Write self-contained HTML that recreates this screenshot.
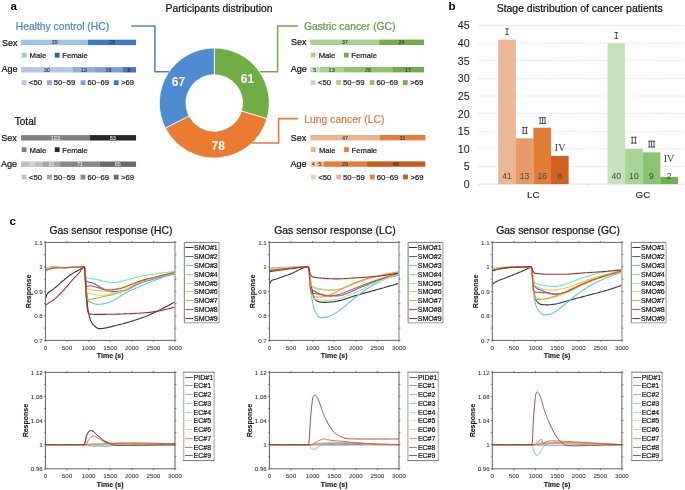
<!DOCTYPE html>
<html><head><meta charset="utf-8"><style>
html,body{margin:0;padding:0;background:#fff;}
body{width:685px;height:490px;overflow:hidden;}
svg{display:block;will-change:transform;}
</style></head><body>
<svg width="685" height="490" viewBox="0 0 685 490">
<rect width="685" height="490" fill="#fff"/>
<text x="10.60" y="9.90" font-size="11.6" fill="#000" text-anchor="start" font-weight="bold" font-family='"Liberation Sans", sans-serif' >a</text>
<text x="165.60" y="11.70" font-size="10.35" fill="#111" stroke="#111" stroke-width="0.22" text-anchor="start" font-weight="normal" font-family='"Liberation Sans", sans-serif' >Participants distribution</text>
<text x="15.80" y="29.80" font-size="10.3" fill="#4A86C8" stroke="#4A86C8" stroke-width="0.22" text-anchor="start" font-weight="normal" font-family='"Liberation Sans", sans-serif' >Healthy control (HC)</text>
<text x="1.90" y="45.70" font-size="9.0" fill="#111" stroke="#111" stroke-width="0.22" text-anchor="start" font-weight="normal" font-family='"Liberation Sans", sans-serif' >Sex</text>
<text x="1.60" y="72.00" font-size="9.0" fill="#111" stroke="#111" stroke-width="0.22" text-anchor="start" font-weight="normal" font-family='"Liberation Sans", sans-serif' >Age</text>
<rect x="21.10" y="39.70" width="66.93" height="5.40" fill="#9DC3E6" />
<text x="54.54" y="44.20" font-size="5.5" fill="#333" stroke="#333" stroke-width="0.08" text-anchor="middle" font-weight="normal" font-family='"Liberation Sans", sans-serif' >39</text>
<rect x="87.98" y="39.70" width="48.07" height="5.40" fill="#3F7CBF" />
<text x="111.99" y="44.20" font-size="5.5" fill="#333" stroke="#333" stroke-width="0.08" text-anchor="middle" font-weight="normal" font-family='"Liberation Sans", sans-serif' >28</text>
<rect x="21.70" y="52.80" width="4.80" height="4.80" fill="#9DC3E6" />
<text x="29.60" y="58.20" font-size="7.7" fill="#222" stroke="#222" stroke-width="0.22" text-anchor="start" font-weight="normal" font-family='"Liberation Sans", sans-serif' >Male</text>
<rect x="54.80" y="52.80" width="4.80" height="4.80" fill="#2E5D8E" />
<text x="62.20" y="58.20" font-size="7.7" fill="#222" stroke="#222" stroke-width="0.22" text-anchor="start" font-weight="normal" font-family='"Liberation Sans", sans-serif' >Female</text>
<rect x="21.10" y="67.10" width="51.50" height="5.40" fill="#B4C7E7" />
<text x="46.82" y="71.60" font-size="5.5" fill="#333" stroke="#333" stroke-width="0.08" text-anchor="middle" font-weight="normal" font-family='"Liberation Sans", sans-serif' >30</text>
<rect x="72.55" y="67.10" width="22.34" height="5.40" fill="#8FAADC" />
<text x="83.69" y="71.60" font-size="5.5" fill="#333" stroke="#333" stroke-width="0.08" text-anchor="middle" font-weight="normal" font-family='"Liberation Sans", sans-serif' >13</text>
<rect x="94.84" y="67.10" width="27.49" height="5.40" fill="#7D9FDD" />
<text x="108.56" y="71.60" font-size="5.5" fill="#333" stroke="#333" stroke-width="0.08" text-anchor="middle" font-weight="normal" font-family='"Liberation Sans", sans-serif' >16</text>
<rect x="122.28" y="67.10" width="13.77" height="5.40" fill="#4A73C6" />
<text x="129.14" y="71.60" font-size="5.5" fill="#333" stroke="#333" stroke-width="0.08" text-anchor="middle" font-weight="normal" font-family='"Liberation Sans", sans-serif' >8</text>
<rect x="21.60" y="80.20" width="4.80" height="4.80" fill="#B4C7E7" />
<text x="29.00" y="85.20" font-size="7.7" fill="#222" stroke="#222" stroke-width="0.22" text-anchor="start" font-weight="normal" font-family='"Liberation Sans", sans-serif' >&lt;50</text>
<rect x="47.00" y="80.20" width="4.80" height="4.80" fill="#8FAADC" />
<text x="53.80" y="85.20" font-size="7.7" fill="#222" stroke="#222" stroke-width="0.22" text-anchor="start" font-weight="normal" font-family='"Liberation Sans", sans-serif' >50~59</text>
<rect x="80.60" y="80.20" width="4.80" height="4.80" fill="#7D9FDD" />
<text x="87.40" y="85.20" font-size="7.7" fill="#222" stroke="#222" stroke-width="0.22" text-anchor="start" font-weight="normal" font-family='"Liberation Sans", sans-serif' >60~69</text>
<rect x="113.80" y="80.20" width="4.80" height="4.80" fill="#4A73C6" />
<text x="121.10" y="85.20" font-size="7.7" fill="#222" stroke="#222" stroke-width="0.22" text-anchor="start" font-weight="normal" font-family='"Liberation Sans", sans-serif' >&gt;69</text>
<text x="14.80" y="125.10" font-size="10.0" fill="#111" stroke="#111" stroke-width="0.22" text-anchor="start" font-weight="normal" font-family='"Liberation Sans", sans-serif' >Total</text>
<text x="1.30" y="140.70" font-size="9.0" fill="#111" stroke="#111" stroke-width="0.22" text-anchor="start" font-weight="normal" font-family='"Liberation Sans", sans-serif' >Sex</text>
<text x="1.00" y="166.60" font-size="9.0" fill="#111" stroke="#111" stroke-width="0.22" text-anchor="start" font-weight="normal" font-family='"Liberation Sans", sans-serif' >Age</text>
<rect x="21.10" y="135.10" width="68.66" height="5.40" fill="#808080" />
<text x="55.40" y="139.60" font-size="5.5" fill="#e8e8e8" stroke="#e8e8e8" stroke-width="0.08" text-anchor="middle" font-weight="normal" font-family='"Liberation Sans", sans-serif' >123</text>
<rect x="89.71" y="135.10" width="46.34" height="5.40" fill="#262626" />
<text x="112.85" y="139.60" font-size="5.5" fill="#e8e8e8" stroke="#e8e8e8" stroke-width="0.08" text-anchor="middle" font-weight="normal" font-family='"Liberation Sans", sans-serif' >83</text>
<rect x="21.70" y="147.30" width="4.80" height="4.80" fill="#808080" />
<text x="29.60" y="152.70" font-size="7.7" fill="#222" stroke="#222" stroke-width="0.22" text-anchor="start" font-weight="normal" font-family='"Liberation Sans", sans-serif' >Male</text>
<rect x="54.80" y="147.30" width="4.80" height="4.80" fill="#262626" />
<text x="62.20" y="152.70" font-size="7.7" fill="#222" stroke="#222" stroke-width="0.22" text-anchor="start" font-weight="normal" font-family='"Liberation Sans", sans-serif' >Female</text>
<rect x="21.10" y="161.50" width="21.80" height="5.40" fill="#BFBFBF" />
<text x="31.98" y="166.00" font-size="5.5" fill="#e8e8e8" stroke="#e8e8e8" stroke-width="0.08" text-anchor="middle" font-weight="normal" font-family='"Liberation Sans", sans-serif' >39</text>
<rect x="42.85" y="161.50" width="17.34" height="5.40" fill="#A6A6A6" />
<text x="51.50" y="166.00" font-size="5.5" fill="#e8e8e8" stroke="#e8e8e8" stroke-width="0.08" text-anchor="middle" font-weight="normal" font-family='"Liberation Sans", sans-serif' >31</text>
<rect x="60.14" y="161.50" width="39.65" height="5.40" fill="#888888" />
<text x="79.94" y="166.00" font-size="5.5" fill="#e8e8e8" stroke="#e8e8e8" stroke-width="0.08" text-anchor="middle" font-weight="normal" font-family='"Liberation Sans", sans-serif' >71</text>
<rect x="99.75" y="161.50" width="36.30" height="5.40" fill="#6A6A6A" />
<text x="117.87" y="166.00" font-size="5.5" fill="#e8e8e8" stroke="#e8e8e8" stroke-width="0.08" text-anchor="middle" font-weight="normal" font-family='"Liberation Sans", sans-serif' >65</text>
<rect x="21.60" y="174.70" width="4.80" height="4.80" fill="#BFBFBF" />
<text x="29.00" y="179.70" font-size="7.7" fill="#222" stroke="#222" stroke-width="0.22" text-anchor="start" font-weight="normal" font-family='"Liberation Sans", sans-serif' >&lt;50</text>
<rect x="47.00" y="174.70" width="4.80" height="4.80" fill="#A6A6A6" />
<text x="53.80" y="179.70" font-size="7.7" fill="#222" stroke="#222" stroke-width="0.22" text-anchor="start" font-weight="normal" font-family='"Liberation Sans", sans-serif' >50~59</text>
<rect x="80.60" y="174.70" width="4.80" height="4.80" fill="#888888" />
<text x="87.40" y="179.70" font-size="7.7" fill="#222" stroke="#222" stroke-width="0.22" text-anchor="start" font-weight="normal" font-family='"Liberation Sans", sans-serif' >60~69</text>
<rect x="113.80" y="174.70" width="4.80" height="4.80" fill="#6A6A6A" />
<text x="121.10" y="179.70" font-size="7.7" fill="#222" stroke="#222" stroke-width="0.22" text-anchor="start" font-weight="normal" font-family='"Liberation Sans", sans-serif' >&gt;69</text>
<text x="303.90" y="29.70" font-size="10.3" fill="#5FA140" stroke="#5FA140" stroke-width="0.22" text-anchor="start" font-weight="normal" font-family='"Liberation Sans", sans-serif' >Gastric cancer (GC)</text>
<text x="291.10" y="45.20" font-size="9.0" fill="#111" stroke="#111" stroke-width="0.22" text-anchor="start" font-weight="normal" font-family='"Liberation Sans", sans-serif' >Sex</text>
<text x="290.80" y="71.90" font-size="9.0" fill="#111" stroke="#111" stroke-width="0.22" text-anchor="start" font-weight="normal" font-family='"Liberation Sans", sans-serif' >Age</text>
<rect x="310.20" y="39.60" width="69.08" height="5.40" fill="#A9D18E" />
<text x="344.71" y="44.10" font-size="5.5" fill="#333" stroke="#333" stroke-width="0.08" text-anchor="middle" font-weight="normal" font-family='"Liberation Sans", sans-serif' >37</text>
<rect x="379.23" y="39.60" width="44.82" height="5.40" fill="#70AD47" />
<text x="401.61" y="44.10" font-size="5.5" fill="#333" stroke="#333" stroke-width="0.08" text-anchor="middle" font-weight="normal" font-family='"Liberation Sans", sans-serif' >24</text>
<rect x="310.80" y="52.70" width="4.80" height="4.80" fill="#A9D18E" />
<text x="318.70" y="58.10" font-size="7.7" fill="#222" stroke="#222" stroke-width="0.22" text-anchor="start" font-weight="normal" font-family='"Liberation Sans", sans-serif' >Male</text>
<rect x="343.90" y="52.70" width="4.80" height="4.80" fill="#70AD47" />
<text x="351.30" y="58.10" font-size="7.7" fill="#222" stroke="#222" stroke-width="0.22" text-anchor="start" font-weight="normal" font-family='"Liberation Sans", sans-serif' >Female</text>
<rect x="310.20" y="67.00" width="9.38" height="5.40" fill="#C5E0B4" />
<text x="314.86" y="71.50" font-size="5.5" fill="#333" stroke="#333" stroke-width="0.08" text-anchor="middle" font-weight="normal" font-family='"Liberation Sans", sans-serif' >5</text>
<rect x="319.53" y="67.00" width="24.30" height="5.40" fill="#A9D18E" />
<text x="331.65" y="71.50" font-size="5.5" fill="#333" stroke="#333" stroke-width="0.08" text-anchor="middle" font-weight="normal" font-family='"Liberation Sans", sans-serif' >13</text>
<rect x="343.78" y="67.00" width="48.55" height="5.40" fill="#8DC66B" />
<text x="368.03" y="71.50" font-size="5.5" fill="#333" stroke="#333" stroke-width="0.08" text-anchor="middle" font-weight="normal" font-family='"Liberation Sans", sans-serif' >26</text>
<rect x="392.29" y="67.00" width="31.76" height="5.40" fill="#70AD47" />
<text x="408.14" y="71.50" font-size="5.5" fill="#333" stroke="#333" stroke-width="0.08" text-anchor="middle" font-weight="normal" font-family='"Liberation Sans", sans-serif' >17</text>
<rect x="310.70" y="80.10" width="4.80" height="4.80" fill="#C5E0B4" />
<text x="318.10" y="85.10" font-size="7.7" fill="#222" stroke="#222" stroke-width="0.22" text-anchor="start" font-weight="normal" font-family='"Liberation Sans", sans-serif' >&lt;50</text>
<rect x="336.10" y="80.10" width="4.80" height="4.80" fill="#A9D18E" />
<text x="342.90" y="85.10" font-size="7.7" fill="#222" stroke="#222" stroke-width="0.22" text-anchor="start" font-weight="normal" font-family='"Liberation Sans", sans-serif' >50~59</text>
<rect x="369.70" y="80.10" width="4.80" height="4.80" fill="#8DC66B" />
<text x="376.50" y="85.10" font-size="7.7" fill="#222" stroke="#222" stroke-width="0.22" text-anchor="start" font-weight="normal" font-family='"Liberation Sans", sans-serif' >60~69</text>
<rect x="402.90" y="80.10" width="4.80" height="4.80" fill="#70AD47" />
<text x="410.20" y="85.10" font-size="7.7" fill="#222" stroke="#222" stroke-width="0.22" text-anchor="start" font-weight="normal" font-family='"Liberation Sans", sans-serif' >&gt;69</text>
<text x="304.20" y="123.40" font-size="10.4" fill="#E07B39" stroke="#E07B39" stroke-width="0.22" text-anchor="start" font-weight="normal" font-family='"Liberation Sans", sans-serif' >Lung cancer (LC)</text>
<text x="290.80" y="140.60" font-size="9.0" fill="#111" stroke="#111" stroke-width="0.22" text-anchor="start" font-weight="normal" font-family='"Liberation Sans", sans-serif' >Sex</text>
<text x="290.50" y="166.50" font-size="9.0" fill="#111" stroke="#111" stroke-width="0.22" text-anchor="start" font-weight="normal" font-family='"Liberation Sans", sans-serif' >Age</text>
<rect x="310.40" y="135.00" width="69.28" height="5.40" fill="#F0B28A" />
<text x="345.02" y="139.50" font-size="5.5" fill="#333" stroke="#333" stroke-width="0.08" text-anchor="middle" font-weight="normal" font-family='"Liberation Sans", sans-serif' >47</text>
<rect x="379.63" y="135.00" width="45.72" height="5.40" fill="#E87D38" />
<text x="402.47" y="139.50" font-size="5.5" fill="#333" stroke="#333" stroke-width="0.08" text-anchor="middle" font-weight="normal" font-family='"Liberation Sans", sans-serif' >31</text>
<rect x="311.00" y="147.20" width="4.80" height="4.80" fill="#F0B28A" />
<text x="318.90" y="152.60" font-size="7.7" fill="#222" stroke="#222" stroke-width="0.22" text-anchor="start" font-weight="normal" font-family='"Liberation Sans", sans-serif' >Male</text>
<rect x="344.10" y="147.20" width="4.80" height="4.80" fill="#E87D38" />
<text x="351.50" y="152.60" font-size="7.7" fill="#222" stroke="#222" stroke-width="0.22" text-anchor="start" font-weight="normal" font-family='"Liberation Sans", sans-serif' >Female</text>
<rect x="310.40" y="161.40" width="5.94" height="5.40" fill="#F8CBAD" />
<text x="313.35" y="165.90" font-size="5.5" fill="#333" stroke="#333" stroke-width="0.08" text-anchor="middle" font-weight="normal" font-family='"Liberation Sans", sans-serif' >4</text>
<rect x="316.29" y="161.40" width="7.42" height="5.40" fill="#F0B28A" />
<text x="319.97" y="165.90" font-size="5.5" fill="#333" stroke="#333" stroke-width="0.08" text-anchor="middle" font-weight="normal" font-family='"Liberation Sans", sans-serif' >5</text>
<rect x="323.66" y="161.40" width="42.77" height="5.40" fill="#E87D38" />
<text x="345.02" y="165.90" font-size="5.5" fill="#333" stroke="#333" stroke-width="0.08" text-anchor="middle" font-weight="normal" font-family='"Liberation Sans", sans-serif' >29</text>
<rect x="366.38" y="161.40" width="58.97" height="5.40" fill="#C95A17" />
<text x="395.84" y="165.90" font-size="5.5" fill="#333" stroke="#333" stroke-width="0.08" text-anchor="middle" font-weight="normal" font-family='"Liberation Sans", sans-serif' >40</text>
<rect x="310.90" y="174.60" width="4.80" height="4.80" fill="#F8CBAD" />
<text x="318.30" y="179.60" font-size="7.7" fill="#222" stroke="#222" stroke-width="0.22" text-anchor="start" font-weight="normal" font-family='"Liberation Sans", sans-serif' >&lt;50</text>
<rect x="336.30" y="174.60" width="4.80" height="4.80" fill="#F0B28A" />
<text x="343.10" y="179.60" font-size="7.7" fill="#222" stroke="#222" stroke-width="0.22" text-anchor="start" font-weight="normal" font-family='"Liberation Sans", sans-serif' >50~59</text>
<rect x="369.90" y="174.60" width="4.80" height="4.80" fill="#E87D38" />
<text x="376.70" y="179.60" font-size="7.7" fill="#222" stroke="#222" stroke-width="0.22" text-anchor="start" font-weight="normal" font-family='"Liberation Sans", sans-serif' >60~69</text>
<rect x="403.10" y="174.60" width="4.80" height="4.80" fill="#C95A17" />
<text x="410.40" y="179.60" font-size="7.7" fill="#222" stroke="#222" stroke-width="0.22" text-anchor="start" font-weight="normal" font-family='"Liberation Sans", sans-serif' >&gt;69</text>
<path d="M214.30,48.00 A55.0,55.0 0 0 1 267.01,118.71 L241.42,111.09 A28.3,28.3 0 0 0 214.30,74.70 Z" fill="#70AD47" stroke="#fff" stroke-width="0.8"/>
<path d="M267.01,118.71 A55.0,55.0 0 0 1 165.33,128.04 L189.10,115.89 A28.3,28.3 0 0 0 241.42,111.09 Z" fill="#E97C31" stroke="#fff" stroke-width="0.8"/>
<path d="M165.33,128.04 A55.0,55.0 0 0 1 214.30,48.00 L214.30,74.70 A28.3,28.3 0 0 0 189.10,115.89 Z" fill="#4F8BD0" stroke="#fff" stroke-width="0.8"/>
<text x="178.50" y="86.10" font-size="12.0" fill="#fff" text-anchor="middle" font-weight="bold" font-family='"Liberation Sans", sans-serif' >67</text>
<text x="247.50" y="83.10" font-size="12.0" fill="#fff" text-anchor="middle" font-weight="bold" font-family='"Liberation Sans", sans-serif' >61</text>
<text x="218.20" y="149.80" font-size="12.0" fill="#fff" text-anchor="middle" font-weight="bold" font-family='"Liberation Sans", sans-serif' >78</text>
<polyline points="131.3,26.0 154.9,26.0 154.9,71.8 169,71.8" fill="none" stroke="#4A86C8" stroke-width="1.55"/>
<polyline points="298.0,26.0 277.6,26.0 277.6,71.8 260,71.8" fill="none" stroke="#70AD47" stroke-width="1.55"/>
<polyline points="298.2,118.6 278.6,118.6 278.6,143.0 252,143.0" fill="none" stroke="#E97C31" stroke-width="1.55"/>
<text x="448.50" y="9.80" font-size="11.6" fill="#000" text-anchor="start" font-weight="bold" font-family='"Liberation Sans", sans-serif' >b</text>
<text x="496.70" y="11.90" font-size="10.45" fill="#111" stroke="#111" stroke-width="0.22" text-anchor="start" font-weight="normal" font-family='"Liberation Sans", sans-serif' >Stage distribution of cancer patients</text>
<line x1="478.6" y1="166.48" x2="685" y2="166.48" stroke="#D6D6D6" stroke-width="0.75" stroke-dasharray="1.4,1.3"/>
<line x1="478.6" y1="148.86" x2="685" y2="148.86" stroke="#D6D6D6" stroke-width="0.75" stroke-dasharray="1.4,1.3"/>
<line x1="478.6" y1="131.24" x2="685" y2="131.24" stroke="#D6D6D6" stroke-width="0.75" stroke-dasharray="1.4,1.3"/>
<line x1="478.6" y1="113.62" x2="685" y2="113.62" stroke="#D6D6D6" stroke-width="0.75" stroke-dasharray="1.4,1.3"/>
<line x1="478.6" y1="96.00" x2="685" y2="96.00" stroke="#D6D6D6" stroke-width="0.75" stroke-dasharray="1.4,1.3"/>
<line x1="478.6" y1="78.38" x2="685" y2="78.38" stroke="#D6D6D6" stroke-width="0.75" stroke-dasharray="1.4,1.3"/>
<line x1="478.6" y1="60.76" x2="685" y2="60.76" stroke="#D6D6D6" stroke-width="0.75" stroke-dasharray="1.4,1.3"/>
<line x1="478.6" y1="43.14" x2="685" y2="43.14" stroke="#D6D6D6" stroke-width="0.75" stroke-dasharray="1.4,1.3"/>
<line x1="478.6" y1="25.52" x2="685" y2="25.52" stroke="#D6D6D6" stroke-width="0.75" stroke-dasharray="1.4,1.3"/>
<line x1="478.4" y1="184.10" x2="684" y2="184.10" stroke="#D9D9D9" stroke-width="0.9"/>
<line x1="588.2" y1="184.10" x2="588.2" y2="186.60" stroke="#D9D9D9" stroke-width="0.9"/>
<line x1="478.8" y1="184.10" x2="478.8" y2="186.60" stroke="#D9D9D9" stroke-width="0.9"/>
<text x="469.70" y="188.00" font-size="10.7" fill="#222" stroke="#222" stroke-width="0.05" text-anchor="end" font-weight="normal" font-family='"Liberation Sans", sans-serif' >0</text>
<text x="469.70" y="170.38" font-size="10.7" fill="#222" stroke="#222" stroke-width="0.05" text-anchor="end" font-weight="normal" font-family='"Liberation Sans", sans-serif' >5</text>
<text x="469.70" y="152.76" font-size="10.7" fill="#222" stroke="#222" stroke-width="0.05" text-anchor="end" font-weight="normal" font-family='"Liberation Sans", sans-serif' >10</text>
<text x="469.70" y="135.14" font-size="10.7" fill="#222" stroke="#222" stroke-width="0.05" text-anchor="end" font-weight="normal" font-family='"Liberation Sans", sans-serif' >15</text>
<text x="469.70" y="117.52" font-size="10.7" fill="#222" stroke="#222" stroke-width="0.05" text-anchor="end" font-weight="normal" font-family='"Liberation Sans", sans-serif' >20</text>
<text x="469.70" y="99.90" font-size="10.7" fill="#222" stroke="#222" stroke-width="0.05" text-anchor="end" font-weight="normal" font-family='"Liberation Sans", sans-serif' >25</text>
<text x="469.70" y="82.28" font-size="10.7" fill="#222" stroke="#222" stroke-width="0.05" text-anchor="end" font-weight="normal" font-family='"Liberation Sans", sans-serif' >30</text>
<text x="469.70" y="64.66" font-size="10.7" fill="#222" stroke="#222" stroke-width="0.05" text-anchor="end" font-weight="normal" font-family='"Liberation Sans", sans-serif' >35</text>
<text x="469.70" y="47.04" font-size="10.7" fill="#222" stroke="#222" stroke-width="0.05" text-anchor="end" font-weight="normal" font-family='"Liberation Sans", sans-serif' >40</text>
<text x="469.70" y="29.42" font-size="10.7" fill="#222" stroke="#222" stroke-width="0.05" text-anchor="end" font-weight="normal" font-family='"Liberation Sans", sans-serif' >45</text>
<rect x="498.20" y="39.62" width="17.65" height="144.48" fill="#EBB794" />
<text x="507.00" y="179.20" font-size="8.6" fill="#474747" stroke="#474747" stroke-width="0.02" text-anchor="middle" font-weight="normal" font-family='"Liberation Sans", sans-serif' >41</text>
<rect x="515.80" y="138.29" width="17.65" height="45.81" fill="#E59A68" />
<text x="524.60" y="179.20" font-size="8.6" fill="#474747" stroke="#474747" stroke-width="0.02" text-anchor="middle" font-weight="normal" font-family='"Liberation Sans", sans-serif' >13</text>
<rect x="533.40" y="127.72" width="17.65" height="56.38" fill="#E27B36" />
<text x="542.20" y="179.20" font-size="8.6" fill="#474747" stroke="#474747" stroke-width="0.02" text-anchor="middle" font-weight="normal" font-family='"Liberation Sans", sans-serif' >16</text>
<rect x="551.00" y="155.91" width="17.65" height="28.19" fill="#CF6221" />
<text x="559.80" y="179.20" font-size="8.6" fill="#474747" stroke="#474747" stroke-width="0.02" text-anchor="middle" font-weight="normal" font-family='"Liberation Sans", sans-serif' >8</text>
<rect x="607.50" y="43.14" width="17.65" height="140.96" fill="#C6E3BE" />
<text x="616.30" y="179.20" font-size="8.6" fill="#474747" stroke="#474747" stroke-width="0.02" text-anchor="middle" font-weight="normal" font-family='"Liberation Sans", sans-serif' >40</text>
<rect x="625.10" y="148.86" width="17.65" height="35.24" fill="#A8D597" />
<text x="633.90" y="179.20" font-size="8.6" fill="#474747" stroke="#474747" stroke-width="0.02" text-anchor="middle" font-weight="normal" font-family='"Liberation Sans", sans-serif' >10</text>
<rect x="642.70" y="152.38" width="17.65" height="31.72" fill="#8AC672" />
<text x="651.50" y="179.20" font-size="8.6" fill="#474747" stroke="#474747" stroke-width="0.02" text-anchor="middle" font-weight="normal" font-family='"Liberation Sans", sans-serif' >9</text>
<rect x="660.30" y="177.05" width="17.65" height="7.05" fill="#6AB24B" />
<text x="669.10" y="179.20" font-size="8.6" fill="#474747" stroke="#474747" stroke-width="0.02" text-anchor="middle" font-weight="normal" font-family='"Liberation Sans", sans-serif' >2</text>
<text x="533.40" y="198.00" font-size="9.9" fill="#262626" stroke="#262626" stroke-width="0.1" text-anchor="middle" font-weight="normal" font-family='"Liberation Sans", sans-serif' >LC</text>
<text x="643.00" y="198.00" font-size="9.9" fill="#262626" stroke="#262626" stroke-width="0.1" text-anchor="middle" font-weight="normal" font-family='"Liberation Sans", sans-serif' >GC</text>
<path d="M505.10,28.90H508.90M505.10,34.70H508.90" stroke="#333" stroke-width="0.8" fill="none"/>
<line x1="507.00" y1="28.50" x2="507.00" y2="35.10" stroke="#333" stroke-width="0.85"/>
<path d="M521.90,127.60H527.70M521.90,133.40H527.70" stroke="#333" stroke-width="0.8" fill="none"/>
<line x1="523.20" y1="127.20" x2="523.20" y2="133.80" stroke="#333" stroke-width="0.85"/>
<line x1="526.40" y1="127.20" x2="526.40" y2="133.80" stroke="#333" stroke-width="0.85"/>
<path d="M539.20,117.70H546.00M539.20,123.50H546.00" stroke="#333" stroke-width="0.8" fill="none"/>
<line x1="540.20" y1="117.30" x2="540.20" y2="123.90" stroke="#333" stroke-width="0.85"/>
<line x1="542.60" y1="117.30" x2="542.60" y2="123.90" stroke="#333" stroke-width="0.85"/>
<line x1="545.00" y1="117.30" x2="545.00" y2="123.90" stroke="#333" stroke-width="0.85"/>
<text x="560.10" y="150.80" font-size="10.0" fill="#3a3a3a" text-anchor="middle" font-weight="normal" font-family='"Liberation Serif", serif' >IV</text>
<path d="M614.40,32.60H618.20M614.40,38.40H618.20" stroke="#333" stroke-width="0.8" fill="none"/>
<line x1="616.30" y1="32.20" x2="616.30" y2="38.80" stroke="#333" stroke-width="0.85"/>
<path d="M630.90,137.30H636.70M630.90,143.10H636.70" stroke="#333" stroke-width="0.8" fill="none"/>
<line x1="632.20" y1="136.90" x2="632.20" y2="143.50" stroke="#333" stroke-width="0.85"/>
<line x1="635.40" y1="136.90" x2="635.40" y2="143.50" stroke="#333" stroke-width="0.85"/>
<path d="M648.20,141.20H655.00M648.20,147.00H655.00" stroke="#333" stroke-width="0.8" fill="none"/>
<line x1="649.20" y1="140.80" x2="649.20" y2="147.40" stroke="#333" stroke-width="0.85"/>
<line x1="651.60" y1="140.80" x2="651.60" y2="147.40" stroke="#333" stroke-width="0.85"/>
<line x1="654.00" y1="140.80" x2="654.00" y2="147.40" stroke="#333" stroke-width="0.85"/>
<text x="669.00" y="161.90" font-size="10.0" fill="#3a3a3a" text-anchor="middle" font-weight="normal" font-family='"Liberation Serif", serif' >IV</text>
<text x="9.60" y="224.90" font-size="11.6" fill="#000" text-anchor="start" font-weight="bold" font-family='"Liberation Sans", sans-serif' >c</text>
<text x="49.40" y="233.90" font-size="10.35" fill="#111" stroke="#111" stroke-width="0.22" text-anchor="start" font-weight="normal" font-family='"Liberation Sans", sans-serif' >Gas sensor response (HC)</text>
<g>
<clipPath id="c45242"><rect x="45.4" y="242.4" width="129.6" height="98.0"/></clipPath>
<g clip-path="url(#c45242)">
<polyline points="45.4,299.0 46.5,295.3 47.6,293.5 48.6,292.5 49.7,291.7 50.8,291.0 51.9,290.3 53.0,289.5 54.0,288.7 55.1,287.7 56.2,286.8 57.3,285.8 58.4,284.8 59.4,283.8 60.5,282.8 61.6,281.9 62.7,281.0 63.8,280.1 64.8,279.2 65.9,278.3 67.0,277.5 68.1,276.6 69.2,275.8 70.2,275.0 71.3,274.3 72.4,273.6 73.5,272.9 74.6,272.3 75.6,271.7 76.7,271.2 77.8,270.6 78.9,270.0 80.0,269.4 81.0,268.6 82.1,267.8 83.2,267.2 83.4,267.1 83.6,267.0 83.8,266.9 84.1,266.9 84.3,266.9 84.5,267.4 84.7,268.7 84.9,270.6 85.1,273.1 85.4,275.8 85.6,278.7 85.8,281.5 86.0,284.1 86.2,286.6 86.4,289.6 86.7,292.7 86.9,295.9 87.1,299.2 87.3,302.2 87.5,305.1 87.7,307.6 88.0,309.6 88.2,311.0 88.4,312.1 88.6,313.1 88.8,314.1 89.0,315.0 89.2,315.9 89.5,316.7 89.7,317.5 89.9,318.3 90.1,319.0 90.3,319.7 90.5,320.3 90.8,320.8 91.0,321.4 91.2,321.8 91.4,322.3 91.6,322.6 91.8,323.0 92.1,323.2 92.3,323.5 92.5,323.8 92.7,324.0 92.9,324.3 93.1,324.5 93.4,324.7 93.6,325.0 93.8,325.2 94.0,325.4 94.2,325.7 94.4,325.9 94.6,326.1 94.9,326.3 95.1,326.5 95.3,326.7 95.5,326.9 95.7,327.0 95.9,327.2 96.2,327.4 96.4,327.5 96.6,327.7 96.8,327.8 97.0,327.9 97.2,328.0 97.5,328.2 97.7,328.3 97.9,328.3 98.1,328.4 98.3,328.5 98.5,328.5 98.8,328.6 99.0,328.6 99.2,328.6 99.4,328.6 99.6,328.6 99.8,328.6 100.0,328.6 100.3,328.6 100.5,328.6 100.7,328.6 100.9,328.6 101.1,328.6 101.3,328.6 101.6,328.5 102.6,328.4 103.7,328.3 104.8,328.1 105.9,327.9 107.0,327.7 108.0,327.4 109.1,327.2 110.2,326.9 111.3,326.6 112.4,326.4 113.4,326.1 114.5,325.8 115.6,325.6 116.7,325.3 117.8,325.1 118.8,324.8 119.9,324.5 121.0,324.2 122.1,324.0 123.2,323.7 124.2,323.4 125.3,323.1 126.4,322.8 127.5,322.4 128.6,322.1 129.6,321.8 130.7,321.5 131.8,321.1 132.9,320.8 134.0,320.5 135.0,320.1 136.1,319.8 137.2,319.4 138.3,319.1 139.4,318.7 140.4,318.3 141.5,317.9 142.6,317.6 143.7,317.2 144.8,316.8 145.8,316.3 146.9,315.9 148.0,315.4 149.1,315.0 150.2,314.5 151.2,314.0 152.3,313.5 153.4,313.0 154.5,312.5 155.6,312.0 156.6,311.5 157.7,311.0 158.8,310.5 159.9,309.9 161.0,309.4 162.0,308.8 163.1,308.3 164.2,307.7 165.3,307.1 166.4,306.5 167.4,306.0 168.5,305.4 169.6,304.8 170.7,304.2 171.8,303.6 172.8,303.1 173.9,302.5 175.0,301.9" fill="none" stroke="#37304F" stroke-width="1.1" stroke-linejoin="round"/>
<polyline points="45.4,269.4 46.5,269.1 47.6,268.8 48.6,268.4 49.7,268.1 50.8,267.8 51.9,267.6 53.0,267.4 54.0,267.4 55.1,267.4 56.2,267.4 57.3,267.4 58.4,267.5 59.4,267.5 60.5,267.5 61.6,267.6 62.7,267.6 63.8,267.6 64.8,267.6 65.9,267.6 67.0,267.6 68.1,267.6 69.2,267.5 70.2,267.5 71.3,267.4 72.4,267.4 73.5,267.3 74.6,267.3 75.6,267.2 76.7,267.1 77.8,267.1 78.9,267.0 80.0,267.0 81.0,267.0 82.1,266.9 83.2,266.9 83.4,266.9 83.6,266.9 83.8,266.9 84.1,266.9 84.3,266.9 84.5,267.4 84.7,268.8 84.9,270.7 85.1,273.0 85.4,275.5 85.6,277.8 85.8,279.7 86.0,281.0 86.2,281.4 86.4,281.5 86.7,281.6 86.9,281.6 87.1,281.7 87.3,281.8 87.5,281.8 87.7,281.9 88.0,281.9 88.2,282.0 88.4,282.0 88.6,282.1 88.8,282.1 89.0,282.2 89.2,282.2 89.5,282.2 89.7,282.3 89.9,282.3 90.1,282.3 90.3,282.4 90.5,282.4 90.8,282.4 91.0,282.5 91.2,282.5 91.4,282.6 91.6,282.6 91.8,282.7 92.1,282.7 92.3,282.8 92.5,282.9 92.7,283.0 92.9,283.0 93.1,283.1 93.4,283.2 93.6,283.3 93.8,283.4 94.0,283.5 94.2,283.6 94.4,283.7 94.6,283.9 94.9,284.0 95.1,284.1 95.3,284.2 95.5,284.3 95.7,284.5 95.9,284.6 96.2,284.7 96.4,284.9 96.6,285.0 96.8,285.1 97.0,285.3 97.2,285.4 97.5,285.5 97.7,285.7 97.9,285.8 98.1,285.9 98.3,286.1 98.5,286.2 98.8,286.4 99.0,286.5 99.2,286.6 99.4,286.8 99.6,286.9 99.8,287.0 100.0,287.2 100.3,287.3 100.5,287.4 100.7,287.5 100.9,287.7 101.1,287.8 101.3,287.9 101.6,288.0 102.6,288.5 103.7,289.1 104.8,289.6 105.9,290.2 107.0,290.7 108.0,291.1 109.1,291.5 110.2,291.6 111.3,291.6 112.4,291.6 113.4,291.6 114.5,291.5 115.6,291.5 116.7,291.4 117.8,291.3 118.8,291.2 119.9,291.0 121.0,290.9 122.1,290.8 123.2,290.6 124.2,290.4 125.3,290.1 126.4,289.8 127.5,289.4 128.6,288.9 129.6,288.4 130.7,287.9 131.8,287.3 132.9,286.7 134.0,286.2 135.0,285.6 136.1,285.0 137.2,284.4 138.3,283.9 139.4,283.4 140.4,282.9 141.5,282.5 142.6,282.1 143.7,281.8 144.8,281.4 145.8,281.1 146.9,280.8 148.0,280.5 149.1,280.2 150.2,279.9 151.2,279.6 152.3,279.3 153.4,279.1 154.5,278.8 155.6,278.5 156.6,278.2 157.7,277.9 158.8,277.6 159.9,277.4 161.0,277.1 162.0,276.8 163.1,276.5 164.2,276.2 165.3,276.0 166.4,275.7 167.4,275.4 168.5,275.2 169.6,274.9 170.7,274.6 171.8,274.3 172.8,274.1 173.9,273.8 175.0,273.5" fill="none" stroke="#4466E0" stroke-width="1.1" stroke-linejoin="round"/>
<polyline points="45.4,268.1 46.5,267.9 47.6,267.7 48.6,267.5 49.7,267.3 50.8,267.1 51.9,266.9 53.0,266.8 54.0,266.8 55.1,266.8 56.2,266.9 57.3,267.0 58.4,267.1 59.4,267.2 60.5,267.3 61.6,267.4 62.7,267.5 63.8,267.6 64.8,267.6 65.9,267.6 67.0,267.6 68.1,267.6 69.2,267.5 70.2,267.5 71.3,267.4 72.4,267.4 73.5,267.3 74.6,267.3 75.6,267.2 76.7,267.1 77.8,267.1 78.9,267.0 80.0,267.0 81.0,267.0 82.1,266.9 83.2,266.9 83.4,266.9 83.6,266.9 83.8,266.9 84.1,266.9 84.3,266.9 84.5,267.6 84.7,269.6 84.9,272.5 85.1,276.2 85.4,280.3 85.6,284.5 85.8,288.7 86.0,292.5 86.2,295.6 86.4,297.8 86.7,298.8 86.9,299.0 87.1,299.3 87.3,299.6 87.5,299.8 87.7,300.1 88.0,300.3 88.2,300.5 88.4,300.7 88.6,300.9 88.8,301.0 89.0,301.2 89.2,301.4 89.5,301.5 89.7,301.6 89.9,301.8 90.1,301.9 90.3,302.0 90.5,302.1 90.8,302.2 91.0,302.3 91.2,302.4 91.4,302.5 91.6,302.6 91.8,302.7 92.1,302.8 92.3,302.9 92.5,303.0 92.7,303.1 92.9,303.2 93.1,303.3 93.4,303.3 93.6,303.4 93.8,303.5 94.0,303.6 94.2,303.7 94.4,303.8 94.6,303.8 94.9,303.9 95.1,304.0 95.3,304.0 95.5,304.1 95.7,304.2 95.9,304.2 96.2,304.3 96.4,304.3 96.6,304.3 96.8,304.4 97.0,304.4 97.2,304.4 97.5,304.4 97.7,304.4 97.9,304.4 98.1,304.4 98.3,304.4 98.5,304.4 98.8,304.3 99.0,304.3 99.2,304.3 99.4,304.3 99.6,304.3 99.8,304.3 100.0,304.3 100.3,304.2 100.5,304.2 100.7,304.2 100.9,304.2 101.1,304.1 101.3,304.1 101.6,304.1 102.6,303.9 103.7,303.7 104.8,303.5 105.9,303.3 107.0,303.1 108.0,302.8 109.1,302.5 110.2,302.0 111.3,301.5 112.4,300.9 113.4,300.3 114.5,299.7 115.6,299.0 116.7,298.4 117.8,297.8 118.8,297.2 119.9,296.5 121.0,295.8 122.1,295.1 123.2,294.4 124.2,293.8 125.3,293.1 126.4,292.5 127.5,291.9 128.6,291.3 129.6,290.8 130.7,290.3 131.8,289.8 132.9,289.3 134.0,288.9 135.0,288.4 136.1,287.9 137.2,287.5 138.3,287.1 139.4,286.6 140.4,286.2 141.5,285.7 142.6,285.3 143.7,284.8 144.8,284.4 145.8,283.9 146.9,283.5 148.0,283.0 149.1,282.6 150.2,282.1 151.2,281.7 152.3,281.2 153.4,280.8 154.5,280.4 155.6,280.0 156.6,279.6 157.7,279.2 158.8,278.8 159.9,278.4 161.0,278.0 162.0,277.6 163.1,277.2 164.2,276.9 165.3,276.5 166.4,276.1 167.4,275.8 168.5,275.4 169.6,275.1 170.7,274.7 171.8,274.4 172.8,274.0 173.9,273.6 175.0,273.3" fill="none" stroke="#5CC6EE" stroke-width="1.1" stroke-linejoin="round"/>
<polyline points="45.4,268.1 46.5,267.9 47.6,267.7 48.6,267.5 49.7,267.3 50.8,267.1 51.9,266.9 53.0,266.8 54.0,266.8 55.1,266.8 56.2,266.9 57.3,267.0 58.4,267.1 59.4,267.2 60.5,267.3 61.6,267.4 62.7,267.5 63.8,267.6 64.8,267.6 65.9,267.6 67.0,267.6 68.1,267.6 69.2,267.5 70.2,267.5 71.3,267.4 72.4,267.4 73.5,267.3 74.6,267.3 75.6,267.2 76.7,267.1 77.8,267.1 78.9,267.0 80.0,267.0 81.0,267.0 82.1,266.9 83.2,266.9 83.4,266.9 83.6,266.9 83.8,266.9 84.1,266.9 84.3,266.9 84.5,267.3 84.7,268.2 84.9,269.6 85.1,271.3 85.4,273.0 85.6,274.6 85.8,276.0 86.0,276.9 86.2,277.2 86.4,277.3 86.7,277.4 86.9,277.5 87.1,277.5 87.3,277.6 87.5,277.7 87.7,277.8 88.0,277.8 88.2,277.9 88.4,278.0 88.6,278.0 88.8,278.1 89.0,278.1 89.2,278.2 89.5,278.2 89.7,278.3 89.9,278.3 90.1,278.4 90.3,278.4 90.5,278.5 90.8,278.5 91.0,278.6 91.2,278.6 91.4,278.6 91.6,278.7 91.8,278.7 92.1,278.8 92.3,278.8 92.5,278.8 92.7,278.9 92.9,278.9 93.1,278.9 93.4,279.0 93.6,279.0 93.8,279.0 94.0,279.1 94.2,279.1 94.4,279.1 94.6,279.2 94.9,279.2 95.1,279.2 95.3,279.3 95.5,279.3 95.7,279.3 95.9,279.4 96.2,279.4 96.4,279.4 96.6,279.5 96.8,279.5 97.0,279.6 97.2,279.6 97.5,279.6 97.7,279.7 97.9,279.7 98.1,279.8 98.3,279.8 98.5,279.9 98.8,279.9 99.0,280.0 99.2,280.0 99.4,280.1 99.6,280.1 99.8,280.2 100.0,280.2 100.3,280.3 100.5,280.3 100.7,280.4 100.9,280.5 101.1,280.5 101.3,280.6 101.6,280.6 102.6,280.9 103.7,281.2 104.8,281.4 105.9,281.7 107.0,281.9 108.0,282.1 109.1,282.3 110.2,282.4 111.3,282.5 112.4,282.6 113.4,282.6 114.5,282.5 115.6,282.4 116.7,282.2 117.8,282.1 118.8,281.9 119.9,281.6 121.0,281.4 122.1,281.1 123.2,280.8 124.2,280.5 125.3,280.3 126.4,280.0 127.5,279.7 128.6,279.5 129.6,279.2 130.7,278.9 131.8,278.7 132.9,278.4 134.0,278.0 135.0,277.7 136.1,277.4 137.2,277.1 138.3,276.8 139.4,276.6 140.4,276.3 141.5,276.1 142.6,275.8 143.7,275.6 144.8,275.5 145.8,275.3 146.9,275.1 148.0,274.9 149.1,274.7 150.2,274.6 151.2,274.4 152.3,274.3 153.4,274.1 154.5,274.0 155.6,273.8 156.6,273.7 157.7,273.5 158.8,273.4 159.9,273.2 161.0,273.1 162.0,272.9 163.1,272.8 164.2,272.7 165.3,272.5 166.4,272.4 167.4,272.3 168.5,272.1 169.6,272.0 170.7,271.9 171.8,271.7 172.8,271.6 173.9,271.4 175.0,271.3" fill="none" stroke="#6CEEA8" stroke-width="1.1" stroke-linejoin="round"/>
<polyline points="45.4,269.4 46.5,269.1 47.6,268.8 48.6,268.4 49.7,268.1 50.8,267.8 51.9,267.6 53.0,267.4 54.0,267.4 55.1,267.4 56.2,267.4 57.3,267.4 58.4,267.5 59.4,267.5 60.5,267.5 61.6,267.6 62.7,267.6 63.8,267.6 64.8,267.6 65.9,267.6 67.0,267.6 68.1,267.6 69.2,267.5 70.2,267.5 71.3,267.4 72.4,267.4 73.5,267.3 74.6,267.3 75.6,267.2 76.7,267.1 77.8,267.1 78.9,267.0 80.0,267.0 81.0,267.0 82.1,266.9 83.2,266.9 83.4,266.9 83.6,266.9 83.8,266.9 84.1,266.9 84.3,266.9 84.5,267.8 84.7,270.1 84.9,273.5 85.1,277.4 85.4,281.6 85.6,285.5 85.8,288.8 86.0,291.0 86.2,291.7 86.4,291.8 86.7,292.0 86.9,292.1 87.1,292.3 87.3,292.4 87.5,292.5 87.7,292.7 88.0,292.8 88.2,292.9 88.4,293.0 88.6,293.1 88.8,293.2 89.0,293.2 89.2,293.3 89.5,293.4 89.7,293.5 89.9,293.5 90.1,293.6 90.3,293.7 90.5,293.7 90.8,293.8 91.0,293.8 91.2,293.9 91.4,293.9 91.6,294.0 91.8,294.0 92.1,294.0 92.3,294.1 92.5,294.1 92.7,294.2 92.9,294.2 93.1,294.2 93.4,294.3 93.6,294.3 93.8,294.4 94.0,294.4 94.2,294.4 94.4,294.5 94.6,294.5 94.9,294.6 95.1,294.6 95.3,294.6 95.5,294.7 95.7,294.7 95.9,294.7 96.2,294.8 96.4,294.8 96.6,294.8 96.8,294.9 97.0,294.9 97.2,294.9 97.5,295.0 97.7,295.0 97.9,295.0 98.1,295.0 98.3,295.1 98.5,295.1 98.8,295.1 99.0,295.1 99.2,295.2 99.4,295.2 99.6,295.2 99.8,295.2 100.0,295.2 100.3,295.2 100.5,295.3 100.7,295.3 100.9,295.3 101.1,295.3 101.3,295.3 101.6,295.3 102.6,295.3 103.7,295.3 104.8,295.2 105.9,295.0 107.0,294.9 108.0,294.6 109.1,294.4 110.2,294.2 111.3,293.9 112.4,293.7 113.4,293.4 114.5,293.1 115.6,292.8 116.7,292.5 117.8,292.1 118.8,291.8 119.9,291.4 121.0,291.0 122.1,290.6 123.2,290.2 124.2,289.7 125.3,289.3 126.4,288.8 127.5,288.3 128.6,287.8 129.6,287.3 130.7,286.7 131.8,286.2 132.9,285.7 134.0,285.1 135.0,284.6 136.1,284.1 137.2,283.6 138.3,283.1 139.4,282.6 140.4,282.2 141.5,281.8 142.6,281.4 143.7,281.0 144.8,280.7 145.8,280.4 146.9,280.1 148.0,279.8 149.1,279.5 150.2,279.2 151.2,278.9 152.3,278.6 153.4,278.3 154.5,278.1 155.6,277.8 156.6,277.5 157.7,277.2 158.8,276.9 159.9,276.6 161.0,276.3 162.0,276.0 163.1,275.7 164.2,275.4 165.3,275.1 166.4,274.9 167.4,274.6 168.5,274.3 169.6,274.0 170.7,273.7 171.8,273.4 172.8,273.1 173.9,272.8 175.0,272.5" fill="none" stroke="#ABEE6C" stroke-width="1.1" stroke-linejoin="round"/>
<polyline points="45.4,269.8 46.5,269.5 47.6,269.2 48.6,268.8 49.7,268.5 50.8,268.1 51.9,267.9 53.0,267.7 54.0,267.6 55.1,267.6 56.2,267.6 57.3,267.6 58.4,267.6 59.4,267.6 60.5,267.6 61.6,267.6 62.7,267.6 63.8,267.6 64.8,267.6 65.9,267.6 67.0,267.6 68.1,267.6 69.2,267.5 70.2,267.5 71.3,267.4 72.4,267.4 73.5,267.3 74.6,267.3 75.6,267.2 76.7,267.1 77.8,267.1 78.9,267.0 80.0,267.0 81.0,267.0 82.1,266.9 83.2,266.9 83.4,266.9 83.6,266.9 83.8,266.9 84.1,266.9 84.3,266.9 84.5,267.6 84.7,269.6 84.9,272.5 85.1,275.9 85.4,279.5 85.6,282.8 85.8,285.6 86.0,287.4 86.2,288.0 86.4,288.1 86.7,288.2 86.9,288.3 87.1,288.4 87.3,288.5 87.5,288.6 87.7,288.6 88.0,288.7 88.2,288.8 88.4,288.9 88.6,289.0 88.8,289.0 89.0,289.1 89.2,289.2 89.5,289.2 89.7,289.3 89.9,289.4 90.1,289.4 90.3,289.5 90.5,289.6 90.8,289.6 91.0,289.7 91.2,289.7 91.4,289.8 91.6,289.8 91.8,289.9 92.1,289.9 92.3,290.0 92.5,290.0 92.7,290.1 92.9,290.1 93.1,290.1 93.4,290.2 93.6,290.2 93.8,290.2 94.0,290.3 94.2,290.3 94.4,290.3 94.6,290.4 94.9,290.4 95.1,290.4 95.3,290.5 95.5,290.5 95.7,290.5 95.9,290.5 96.2,290.6 96.4,290.6 96.6,290.6 96.8,290.6 97.0,290.6 97.2,290.7 97.5,290.7 97.7,290.7 97.9,290.7 98.1,290.7 98.3,290.7 98.5,290.8 98.8,290.8 99.0,290.8 99.2,290.8 99.4,290.8 99.6,290.8 99.8,290.8 100.0,290.9 100.3,290.9 100.5,290.9 100.7,290.9 100.9,290.9 101.1,290.9 101.3,290.9 101.6,291.0 102.6,291.0 103.7,291.1 104.8,291.1 105.9,291.1 107.0,291.2 108.0,291.1 109.1,291.1 110.2,290.9 111.3,290.7 112.4,290.4 113.4,290.1 114.5,289.8 115.6,289.5 116.7,289.1 117.8,288.8 118.8,288.5 119.9,288.1 121.0,287.8 122.1,287.5 123.2,287.1 124.2,286.8 125.3,286.4 126.4,286.0 127.5,285.6 128.6,285.2 129.6,284.8 130.7,284.4 131.8,284.1 132.9,283.7 134.0,283.3 135.0,282.9 136.1,282.5 137.2,282.1 138.3,281.8 139.4,281.4 140.4,281.1 141.5,280.8 142.6,280.4 143.7,280.1 144.8,279.9 145.8,279.6 146.9,279.3 148.0,279.0 149.1,278.8 150.2,278.5 151.2,278.3 152.3,278.0 153.4,277.8 154.5,277.5 155.6,277.2 156.6,277.0 157.7,276.7 158.8,276.4 159.9,276.2 161.0,275.9 162.0,275.6 163.1,275.3 164.2,275.1 165.3,274.8 166.4,274.5 167.4,274.2 168.5,273.9 169.6,273.7 170.7,273.4 171.8,273.1 172.8,272.8 173.9,272.6 175.0,272.3" fill="none" stroke="#DCCB57" stroke-width="1.1" stroke-linejoin="round"/>
<polyline points="45.4,270.6 46.5,270.2 47.6,269.8 48.6,269.4 49.7,269.0 50.8,268.7 51.9,268.4 53.0,268.1 54.0,268.0 55.1,267.9 56.2,267.9 57.3,267.9 58.4,267.8 59.4,267.8 60.5,267.8 61.6,267.7 62.7,267.7 63.8,267.7 64.8,267.6 65.9,267.6 67.0,267.5 68.1,267.5 69.2,267.4 70.2,267.4 71.3,267.3 72.4,267.3 73.5,267.2 74.6,267.2 75.6,267.1 76.7,267.1 77.8,267.0 78.9,267.0 80.0,267.0 81.0,266.9 82.1,266.9 83.2,266.9 83.4,266.9 83.6,266.9 83.8,266.9 84.1,266.9 84.3,266.9 84.5,268.0 84.7,270.9 84.9,275.1 85.1,280.0 85.4,285.2 85.6,290.1 85.8,294.2 86.0,296.9 86.2,297.8 86.4,298.0 86.7,298.2 86.9,298.3 87.1,298.5 87.3,298.6 87.5,298.8 87.7,298.9 88.0,299.0 88.2,299.1 88.4,299.1 88.6,299.2 88.8,299.2 89.0,299.2 89.2,299.2 89.5,299.2 89.7,299.2 89.9,299.2 90.1,299.2 90.3,299.2 90.5,299.2 90.8,299.2 91.0,299.2 91.2,299.1 91.4,299.1 91.6,299.1 91.8,299.1 92.1,299.1 92.3,299.0 92.5,299.0 92.7,299.0 92.9,298.9 93.1,298.9 93.4,298.9 93.6,298.8 93.8,298.8 94.0,298.8 94.2,298.7 94.4,298.7 94.6,298.6 94.9,298.6 95.1,298.5 95.3,298.5 95.5,298.4 95.7,298.4 95.9,298.3 96.2,298.3 96.4,298.2 96.6,298.2 96.8,298.1 97.0,298.1 97.2,298.0 97.5,298.0 97.7,297.9 97.9,297.9 98.1,297.8 98.3,297.8 98.5,297.7 98.8,297.7 99.0,297.6 99.2,297.6 99.4,297.5 99.6,297.5 99.8,297.4 100.0,297.4 100.3,297.3 100.5,297.2 100.7,297.2 100.9,297.1 101.1,297.1 101.3,297.0 101.6,297.0 102.6,296.8 103.7,296.5 104.8,296.3 105.9,296.1 107.0,295.8 108.0,295.6 109.1,295.4 110.2,295.1 111.3,294.9 112.4,294.6 113.4,294.4 114.5,294.1 115.6,293.8 116.7,293.5 117.8,293.2 118.8,292.9 119.9,292.6 121.0,292.3 122.1,291.9 123.2,291.5 124.2,291.1 125.3,290.6 126.4,290.0 127.5,289.4 128.6,288.8 129.6,288.1 130.7,287.4 131.8,286.7 132.9,286.0 134.0,285.3 135.0,284.6 136.1,283.9 137.2,283.2 138.3,282.6 139.4,282.0 140.4,281.5 141.5,281.0 142.6,280.7 143.7,280.3 144.8,280.0 145.8,279.6 146.9,279.3 148.0,279.1 149.1,278.8 150.2,278.5 151.2,278.3 152.3,278.0 153.4,277.8 154.5,277.5 155.6,277.3 156.6,277.0 157.7,276.7 158.8,276.4 159.9,276.1 161.0,275.8 162.0,275.5 163.1,275.3 164.2,275.0 165.3,274.7 166.4,274.4 167.4,274.1 168.5,273.8 169.6,273.5 170.7,273.2 171.8,272.9 172.8,272.6 173.9,272.3 175.0,272.0" fill="none" stroke="#F29A45" stroke-width="1.1" stroke-linejoin="round"/>
<polyline points="45.4,270.6 46.5,270.2 47.6,269.8 48.6,269.4 49.7,269.0 50.8,268.7 51.9,268.4 53.0,268.1 54.0,268.0 55.1,267.9 56.2,267.9 57.3,267.9 58.4,267.8 59.4,267.8 60.5,267.8 61.6,267.7 62.7,267.7 63.8,267.7 64.8,267.6 65.9,267.6 67.0,267.5 68.1,267.5 69.2,267.4 70.2,267.4 71.3,267.3 72.4,267.3 73.5,267.2 74.6,267.2 75.6,267.1 76.7,267.1 77.8,267.0 78.9,267.0 80.0,267.0 81.0,266.9 82.1,266.9 83.2,266.9 83.4,266.9 83.6,266.9 83.8,266.9 84.1,266.9 84.3,266.9 84.5,267.6 84.7,269.5 84.9,272.2 85.1,275.4 85.4,278.7 85.6,281.8 85.8,284.4 86.0,286.0 86.2,286.5 86.4,286.5 86.7,286.5 86.9,286.4 87.1,286.4 87.3,286.4 87.5,286.3 87.7,286.3 88.0,286.2 88.2,286.1 88.4,286.1 88.6,286.0 88.8,286.0 89.0,285.9 89.2,285.9 89.5,285.8 89.7,285.8 89.9,285.8 90.1,285.8 90.3,285.8 90.5,285.8 90.8,285.8 91.0,285.8 91.2,285.8 91.4,285.8 91.6,285.9 91.8,285.9 92.1,286.0 92.3,286.0 92.5,286.0 92.7,286.1 92.9,286.1 93.1,286.2 93.4,286.3 93.6,286.3 93.8,286.4 94.0,286.5 94.2,286.5 94.4,286.6 94.6,286.7 94.9,286.7 95.1,286.8 95.3,286.9 95.5,286.9 95.7,287.0 95.9,287.1 96.2,287.1 96.4,287.2 96.6,287.3 96.8,287.3 97.0,287.4 97.2,287.4 97.5,287.5 97.7,287.5 97.9,287.6 98.1,287.7 98.3,287.7 98.5,287.8 98.8,287.8 99.0,287.9 99.2,288.0 99.4,288.0 99.6,288.1 99.8,288.2 100.0,288.2 100.3,288.3 100.5,288.4 100.7,288.4 100.9,288.5 101.1,288.6 101.3,288.7 101.6,288.7 102.6,289.1 103.7,289.4 104.8,289.6 105.9,289.8 107.0,289.9 108.0,289.9 109.1,289.9 110.2,289.8 111.3,289.8 112.4,289.7 113.4,289.5 114.5,289.4 115.6,289.3 116.7,289.1 117.8,288.9 118.8,288.8 119.9,288.5 121.0,288.3 122.1,288.0 123.2,287.6 124.2,287.3 125.3,286.9 126.4,286.5 127.5,286.1 128.6,285.6 129.6,285.2 130.7,284.7 131.8,284.3 132.9,283.8 134.0,283.4 135.0,282.9 136.1,282.5 137.2,282.0 138.3,281.6 139.4,281.2 140.4,280.9 141.5,280.5 142.6,280.2 143.7,279.9 144.8,279.6 145.8,279.3 146.9,279.0 148.0,278.8 149.1,278.5 150.2,278.2 151.2,278.0 152.3,277.7 153.4,277.5 154.5,277.2 155.6,277.0 156.6,276.7 157.7,276.5 158.8,276.2 159.9,275.9 161.0,275.7 162.0,275.4 163.1,275.1 164.2,274.9 165.3,274.6 166.4,274.4 167.4,274.1 168.5,273.8 169.6,273.6 170.7,273.3 171.8,273.1 172.8,272.8 173.9,272.6 175.0,272.3" fill="none" stroke="#DF4B2D" stroke-width="1.1" stroke-linejoin="round"/>
<polyline points="45.4,305.1 46.5,304.4 47.6,303.8 48.6,303.1 49.7,302.5 50.8,301.8 51.9,301.1 53.0,300.3 54.0,299.5 55.1,298.6 56.2,297.6 57.3,296.7 58.4,295.6 59.4,294.6 60.5,293.5 61.6,292.4 62.7,291.3 63.8,290.1 64.8,288.9 65.9,287.7 67.0,286.4 68.1,285.1 69.2,283.8 70.2,282.5 71.3,281.3 72.4,280.0 73.5,278.9 74.6,277.7 75.6,276.6 76.7,275.4 77.8,274.3 78.9,273.1 80.0,271.9 81.0,270.3 82.1,268.7 83.2,267.4 83.4,267.2 83.6,267.1 83.8,267.0 84.1,266.9 84.3,266.9 84.5,267.8 84.7,270.0 84.9,273.3 85.1,277.0 85.4,280.7 85.6,284.1 85.8,287.2 86.0,290.8 86.2,294.5 86.4,298.2 86.7,301.6 86.9,304.6 87.1,307.0 87.3,308.6 87.5,309.6 87.7,310.6 88.0,311.5 88.2,312.3 88.4,313.0 88.6,313.5 88.8,313.8 89.0,313.9 89.2,314.0 89.5,314.0 89.7,314.0 89.9,314.0 90.1,314.1 90.3,314.1 90.5,314.1 90.8,314.1 91.0,314.1 91.2,314.2 91.4,314.2 91.6,314.2 91.8,314.2 92.1,314.2 92.3,314.2 92.5,314.3 92.7,314.3 92.9,314.3 93.1,314.3 93.4,314.3 93.6,314.3 93.8,314.3 94.0,314.4 94.2,314.4 94.4,314.4 94.6,314.4 94.9,314.4 95.1,314.4 95.3,314.4 95.5,314.4 95.7,314.4 95.9,314.4 96.2,314.4 96.4,314.4 96.6,314.4 96.8,314.4 97.0,314.4 97.2,314.4 97.5,314.4 97.7,314.4 97.9,314.4 98.1,314.4 98.3,314.4 98.5,314.4 98.8,314.4 99.0,314.4 99.2,314.4 99.4,314.4 99.6,314.4 99.8,314.4 100.0,314.4 100.3,314.4 100.5,314.4 100.7,314.4 100.9,314.4 101.1,314.4 101.3,314.4 101.6,314.4 102.6,314.4 103.7,314.4 104.8,314.4 105.9,314.4 107.0,314.3 108.0,314.3 109.1,314.3 110.2,314.3 111.3,314.3 112.4,314.2 113.4,314.2 114.5,314.2 115.6,314.2 116.7,314.1 117.8,314.1 118.8,314.1 119.9,314.1 121.0,314.0 122.1,314.0 123.2,314.0 124.2,313.9 125.3,313.9 126.4,313.8 127.5,313.8 128.6,313.7 129.6,313.7 130.7,313.6 131.8,313.6 132.9,313.5 134.0,313.5 135.0,313.4 136.1,313.3 137.2,313.3 138.3,313.2 139.4,313.2 140.4,313.1 141.5,313.0 142.6,313.0 143.7,312.9 144.8,312.8 145.8,312.7 146.9,312.6 148.0,312.5 149.1,312.4 150.2,312.2 151.2,312.1 152.3,312.0 153.4,311.8 154.5,311.6 155.6,311.5 156.6,311.3 157.7,311.2 158.8,311.0 159.9,310.8 161.0,310.5 162.0,310.3 163.1,310.1 164.2,309.8 165.3,309.5 166.4,309.3 167.4,309.0 168.5,308.7 169.6,308.4 170.7,308.2 171.8,307.9 172.8,307.6 173.9,307.3 175.0,307.1" fill="none" stroke="#9B3030" stroke-width="1.1" stroke-linejoin="round"/>
</g>
<path d="M175.00,242.40V340.40" stroke="#b4b4b4" stroke-width="1.7" fill="none"/>
<path d="M45.40,340.40V242.40H175.00M45.40,340.40H175.00" stroke="#5a5a5a" stroke-width="0.95" fill="none"/>
<text x="45.40" y="349.70" font-size="6.2" fill="#333" stroke="#333" stroke-width="0.05" text-anchor="middle" font-weight="normal" font-family='"Liberation Sans", sans-serif' >0</text>
<text x="67.00" y="349.70" font-size="6.2" fill="#333" stroke="#333" stroke-width="0.05" text-anchor="middle" font-weight="normal" font-family='"Liberation Sans", sans-serif' >500</text>
<text x="88.60" y="349.70" font-size="6.2" fill="#333" stroke="#333" stroke-width="0.05" text-anchor="middle" font-weight="normal" font-family='"Liberation Sans", sans-serif' >1000</text>
<text x="110.20" y="349.70" font-size="6.2" fill="#333" stroke="#333" stroke-width="0.05" text-anchor="middle" font-weight="normal" font-family='"Liberation Sans", sans-serif' >1500</text>
<text x="131.80" y="349.70" font-size="6.2" fill="#333" stroke="#333" stroke-width="0.05" text-anchor="middle" font-weight="normal" font-family='"Liberation Sans", sans-serif' >2000</text>
<text x="153.40" y="349.70" font-size="6.2" fill="#333" stroke="#333" stroke-width="0.05" text-anchor="middle" font-weight="normal" font-family='"Liberation Sans", sans-serif' >2500</text>
<text x="175.00" y="349.70" font-size="6.2" fill="#333" stroke="#333" stroke-width="0.05" text-anchor="middle" font-weight="normal" font-family='"Liberation Sans", sans-serif' >3000</text>
<path d="M45.40,340.40v1.4M45.40,242.40v-1.4M67.00,340.40v1.4M67.00,242.40v-1.4M88.60,340.40v1.4M88.60,242.40v-1.4M110.20,340.40v1.4M110.20,242.40v-1.4M131.80,340.40v1.4M131.80,242.40v-1.4M153.40,340.40v1.4M153.40,242.40v-1.4M175.00,340.40v1.4M175.00,242.40v-1.4M45.40,340.40h-1.4M175.00,340.40h1.4M45.40,328.15h-1.4M175.00,328.15h1.4M45.40,315.90h-1.4M175.00,315.90h1.4M45.40,303.65h-1.4M175.00,303.65h1.4M45.40,291.40h-1.4M175.00,291.40h1.4M45.40,279.15h-1.4M175.00,279.15h1.4M45.40,266.90h-1.4M175.00,266.90h1.4M45.40,254.65h-1.4M175.00,254.65h1.4M45.40,242.40h-1.4M175.00,242.40h1.4" stroke="#5a5a5a" stroke-width="0.8" fill="none"/>
<text x="42.80" y="244.60" font-size="6.2" fill="#333" stroke="#333" stroke-width="0.05" text-anchor="end" font-weight="normal" font-family='"Liberation Sans", sans-serif' >1.1</text>
<text x="42.80" y="269.10" font-size="6.2" fill="#333" stroke="#333" stroke-width="0.05" text-anchor="end" font-weight="normal" font-family='"Liberation Sans", sans-serif' >1</text>
<text x="42.80" y="293.60" font-size="6.2" fill="#333" stroke="#333" stroke-width="0.05" text-anchor="end" font-weight="normal" font-family='"Liberation Sans", sans-serif' >0.9</text>
<text x="42.80" y="318.10" font-size="6.2" fill="#333" stroke="#333" stroke-width="0.05" text-anchor="end" font-weight="normal" font-family='"Liberation Sans", sans-serif' >0.8</text>
<text x="42.80" y="342.60" font-size="6.2" fill="#333" stroke="#333" stroke-width="0.05" text-anchor="end" font-weight="normal" font-family='"Liberation Sans", sans-serif' >0.7</text>
<text x="110.20" y="358.30" font-size="7.0" fill="#1a1a1a" stroke="#1a1a1a" stroke-width="0.12" text-anchor="middle" font-weight="bold" font-family='"Liberation Sans", sans-serif' >Time (s)</text>
<text transform="translate(31.30,291.40) rotate(-90)" font-size="7.0" font-weight="bold" fill="#1a1a1a" stroke="#1a1a1a" stroke-width="0.12" text-anchor="middle" font-family='"Liberation Sans", sans-serif'>Response</text>
<rect x="184.30" y="242.40" width="34.80" height="80.40" fill="#fff" />
<path d="M219.10,242.40V322.80M184.30,322.80H219.70" stroke="#bdbdbd" stroke-width="1.5" fill="none"/>
<path d="M184.30,322.80V242.40H219.10" stroke="#6a6a6a" stroke-width="0.9" fill="none"/>
<line x1="185.30" y1="247.50" x2="193.50" y2="247.50" stroke="#37304F" stroke-width="1.0"/>
<text x="194.00" y="250.10" font-size="7.0" fill="#1a1a1a" stroke="#1a1a1a" stroke-width="0.22" text-anchor="start" font-weight="normal" font-family='"Liberation Sans", sans-serif' >SMO#1</text>
<line x1="185.30" y1="256.50" x2="193.50" y2="256.50" stroke="#4466E0" stroke-width="1.0"/>
<text x="194.00" y="259.10" font-size="7.0" fill="#1a1a1a" stroke="#1a1a1a" stroke-width="0.22" text-anchor="start" font-weight="normal" font-family='"Liberation Sans", sans-serif' >SMO#2</text>
<line x1="185.30" y1="265.50" x2="193.50" y2="265.50" stroke="#5CC6EE" stroke-width="1.0"/>
<text x="194.00" y="268.10" font-size="7.0" fill="#1a1a1a" stroke="#1a1a1a" stroke-width="0.22" text-anchor="start" font-weight="normal" font-family='"Liberation Sans", sans-serif' >SMO#3</text>
<line x1="185.30" y1="274.50" x2="193.50" y2="274.50" stroke="#6CEEA8" stroke-width="1.0"/>
<text x="194.00" y="277.10" font-size="7.0" fill="#1a1a1a" stroke="#1a1a1a" stroke-width="0.22" text-anchor="start" font-weight="normal" font-family='"Liberation Sans", sans-serif' >SMO#4</text>
<line x1="185.30" y1="283.50" x2="193.50" y2="283.50" stroke="#ABEE6C" stroke-width="1.0"/>
<text x="194.00" y="286.10" font-size="7.0" fill="#1a1a1a" stroke="#1a1a1a" stroke-width="0.22" text-anchor="start" font-weight="normal" font-family='"Liberation Sans", sans-serif' >SMO#5</text>
<line x1="185.30" y1="291.50" x2="193.50" y2="291.50" stroke="#DCCB57" stroke-width="1.0"/>
<text x="194.00" y="294.10" font-size="7.0" fill="#1a1a1a" stroke="#1a1a1a" stroke-width="0.22" text-anchor="start" font-weight="normal" font-family='"Liberation Sans", sans-serif' >SMO#6</text>
<line x1="185.30" y1="300.50" x2="193.50" y2="300.50" stroke="#F29A45" stroke-width="1.0"/>
<text x="194.00" y="303.10" font-size="7.0" fill="#1a1a1a" stroke="#1a1a1a" stroke-width="0.22" text-anchor="start" font-weight="normal" font-family='"Liberation Sans", sans-serif' >SMO#7</text>
<line x1="185.30" y1="309.50" x2="193.50" y2="309.50" stroke="#DF4B2D" stroke-width="1.0"/>
<text x="194.00" y="312.10" font-size="7.0" fill="#1a1a1a" stroke="#1a1a1a" stroke-width="0.22" text-anchor="start" font-weight="normal" font-family='"Liberation Sans", sans-serif' >SMO#8</text>
<line x1="185.30" y1="318.50" x2="193.50" y2="318.50" stroke="#9B3030" stroke-width="1.0"/>
<text x="194.00" y="321.10" font-size="7.0" fill="#1a1a1a" stroke="#1a1a1a" stroke-width="0.22" text-anchor="start" font-weight="normal" font-family='"Liberation Sans", sans-serif' >SMO#9</text>
</g>
<g>
<clipPath id="c45372"><rect x="45.4" y="372.4" width="129.6" height="96.4"/></clipPath>
<g clip-path="url(#c45372)">
<polyline points="45.4,444.7 46.5,444.7 47.6,444.7 48.6,444.7 49.7,444.7 50.8,444.7 51.9,444.7 53.0,444.7 54.0,444.7 55.1,444.7 56.2,444.7 57.3,444.7 58.4,444.7 59.4,444.7 60.5,444.7 61.6,444.7 62.7,444.7 63.8,444.7 64.8,444.7 65.9,444.7 67.0,444.7 68.1,444.7 69.2,444.7 70.2,444.7 71.3,444.7 72.4,444.7 73.5,444.7 74.6,444.7 75.6,444.7 76.7,444.7 77.8,444.7 78.9,444.7 80.0,444.7 81.0,444.7 82.1,444.7 83.2,444.7 83.4,444.7 83.6,444.7 83.8,444.7 84.1,444.7 84.3,444.7 84.5,444.4 84.7,443.8 84.9,443.1 85.1,442.1 85.4,441.1 85.6,439.9 85.8,438.8 86.0,437.7 86.2,436.6 86.4,435.7 86.7,435.0 86.9,434.5 87.1,434.1 87.3,433.7 87.5,433.3 87.7,433.0 88.0,432.6 88.2,432.3 88.4,432.0 88.6,431.7 88.8,431.4 89.0,431.2 89.2,430.9 89.5,430.8 89.7,430.6 89.9,430.5 90.1,430.4 90.3,430.4 90.5,430.4 90.8,430.4 91.0,430.5 91.2,430.5 91.4,430.6 91.6,430.6 91.8,430.7 92.1,430.8 92.3,430.9 92.5,431.0 92.7,431.1 92.9,431.1 93.1,431.2 93.4,431.4 93.6,431.5 93.8,431.7 94.0,431.9 94.2,432.1 94.4,432.3 94.6,432.5 94.9,432.7 95.1,433.0 95.3,433.2 95.5,433.5 95.7,433.7 95.9,433.9 96.2,434.2 96.4,434.4 96.6,434.6 96.8,434.8 97.0,435.0 97.2,435.2 97.5,435.4 97.7,435.6 97.9,435.7 98.1,435.9 98.3,436.1 98.5,436.3 98.8,436.5 99.0,436.7 99.2,436.8 99.4,437.0 99.6,437.2 99.8,437.4 100.0,437.5 100.3,437.7 100.5,437.9 100.7,438.1 100.9,438.3 101.1,438.4 101.3,438.6 101.6,438.8 102.6,439.7 103.7,440.5 104.8,441.1 105.9,441.7 107.0,442.3 108.0,442.8 109.1,443.3 110.2,443.8 111.3,444.3 112.4,444.6 113.4,444.8 114.5,445.0 115.6,445.2 116.7,445.3 117.8,445.4 118.8,445.4 119.9,445.4 121.0,445.4 122.1,445.4 123.2,445.4 124.2,445.4 125.3,445.4 126.4,445.4 127.5,445.4 128.6,445.3 129.6,445.3 130.7,445.3 131.8,445.3 132.9,445.3 134.0,445.3 135.0,445.3 136.1,445.3 137.2,445.2 138.3,445.2 139.4,445.2 140.4,445.2 141.5,445.2 142.6,445.2 143.7,445.2 144.8,445.1 145.8,445.1 146.9,445.1 148.0,445.1 149.1,445.1 150.2,445.1 151.2,445.0 152.3,445.0 153.4,445.0 154.5,445.0 155.6,445.0 156.6,445.0 157.7,445.0 158.8,444.9 159.9,444.9 161.0,444.9 162.0,444.9 163.1,444.9 164.2,444.9 165.3,444.8 166.4,444.8 167.4,444.8 168.5,444.8 169.6,444.8 170.7,444.8 171.8,444.7 172.8,444.7 173.9,444.7 175.0,444.7" fill="none" stroke="#4A3A6A" stroke-width="0.85" stroke-linejoin="round"/>
<polyline points="45.4,444.7 46.5,444.7 47.6,444.7 48.6,444.7 49.7,444.7 50.8,444.7 51.9,444.7 53.0,444.7 54.0,444.7 55.1,444.7 56.2,444.7 57.3,444.7 58.4,444.7 59.4,444.7 60.5,444.7 61.6,444.7 62.7,444.7 63.8,444.7 64.8,444.7 65.9,444.7 67.0,444.7 68.1,444.7 69.2,444.7 70.2,444.7 71.3,444.7 72.4,444.7 73.5,444.7 74.6,444.7 75.6,444.7 76.7,444.7 77.8,444.7 78.9,444.7 80.0,444.7 81.0,444.7 82.1,444.7 83.2,444.7 83.4,444.7 83.6,444.7 83.8,444.7 84.1,444.7 84.3,444.7 84.5,444.7 84.7,444.7 84.9,444.7 85.1,444.7 85.4,444.7 85.6,444.7 85.8,444.7 86.0,444.7 86.2,444.7 86.4,444.7 86.7,444.7 86.9,444.7 87.1,444.8 87.3,444.8 87.5,444.9 87.7,444.9 88.0,445.0 88.2,445.1 88.4,445.2 88.6,445.2 88.8,445.3 89.0,445.4 89.2,445.5 89.5,445.6 89.7,445.7 89.9,445.7 90.1,445.8 90.3,445.8 90.5,445.9 90.8,445.9 91.0,445.9 91.2,446.0 91.4,446.0 91.6,446.0 91.8,446.0 92.1,446.0 92.3,446.1 92.5,446.1 92.7,446.1 92.9,446.1 93.1,446.1 93.4,446.2 93.6,446.2 93.8,446.2 94.0,446.2 94.2,446.2 94.4,446.2 94.6,446.2 94.9,446.3 95.1,446.3 95.3,446.3 95.5,446.3 95.7,446.3 95.9,446.3 96.2,446.3 96.4,446.3 96.6,446.3 96.8,446.3 97.0,446.3 97.2,446.3 97.5,446.3 97.7,446.3 97.9,446.3 98.1,446.3 98.3,446.3 98.5,446.3 98.8,446.3 99.0,446.3 99.2,446.3 99.4,446.3 99.6,446.3 99.8,446.3 100.0,446.3 100.3,446.3 100.5,446.3 100.7,446.3 100.9,446.3 101.1,446.3 101.3,446.3 101.6,446.3 102.6,446.3 103.7,446.3 104.8,446.3 105.9,446.3 107.0,446.3 108.0,446.2 109.1,446.0 110.2,445.9 111.3,445.7 112.4,445.6 113.4,445.5 114.5,445.4 115.6,445.2 116.7,445.1 117.8,445.0 118.8,445.0 119.9,445.0 121.0,445.0 122.1,445.0 123.2,445.0 124.2,445.0 125.3,444.9 126.4,444.9 127.5,444.9 128.6,444.9 129.6,444.9 130.7,444.9 131.8,444.9 132.9,444.9 134.0,444.9 135.0,444.9 136.1,444.9 137.2,444.9 138.3,444.9 139.4,444.9 140.4,444.8 141.5,444.8 142.6,444.8 143.7,444.8 144.8,444.8 145.8,444.8 146.9,444.8 148.0,444.8 149.1,444.8 150.2,444.8 151.2,444.8 152.3,444.8 153.4,444.8 154.5,444.8 155.6,444.8 156.6,444.8 157.7,444.8 158.8,444.8 159.9,444.8 161.0,444.8 162.0,444.8 163.1,444.8 164.2,444.7 165.3,444.7 166.4,444.7 167.4,444.7 168.5,444.7 169.6,444.7 170.7,444.7 171.8,444.7 172.8,444.7 173.9,444.7 175.0,444.7" fill="none" stroke="#6A7EEA" stroke-width="0.85" stroke-linejoin="round"/>
<polyline points="45.4,444.7 46.5,444.7 47.6,444.7 48.6,444.7 49.7,444.7 50.8,444.7 51.9,444.7 53.0,444.7 54.0,444.7 55.1,444.7 56.2,444.7 57.3,444.7 58.4,444.7 59.4,444.7 60.5,444.7 61.6,444.7 62.7,444.7 63.8,444.7 64.8,444.7 65.9,444.7 67.0,444.7 68.1,444.7 69.2,444.7 70.2,444.7 71.3,444.7 72.4,444.7 73.5,444.7 74.6,444.7 75.6,444.7 76.7,444.7 77.8,444.7 78.9,444.7 80.0,444.7 81.0,444.7 82.1,444.7 83.2,444.7 83.4,444.7 83.6,444.7 83.8,444.7 84.1,444.7 84.3,444.7 84.5,444.7 84.7,444.7 84.9,444.7 85.1,444.7 85.4,444.7 85.6,444.7 85.8,444.7 86.0,444.7 86.2,444.7 86.4,444.7 86.7,444.7 86.9,444.7 87.1,444.7 87.3,444.7 87.5,444.7 87.7,444.7 88.0,444.7 88.2,444.7 88.4,444.8 88.6,444.8 88.8,444.8 89.0,444.8 89.2,444.8 89.5,444.8 89.7,444.8 89.9,444.8 90.1,444.9 90.3,444.9 90.5,444.9 90.8,444.9 91.0,444.9 91.2,444.9 91.4,445.0 91.6,445.0 91.8,445.0 92.1,445.0 92.3,445.0 92.5,445.1 92.7,445.1 92.9,445.1 93.1,445.1 93.4,445.1 93.6,445.1 93.8,445.2 94.0,445.2 94.2,445.2 94.4,445.2 94.6,445.2 94.9,445.2 95.1,445.2 95.3,445.3 95.5,445.3 95.7,445.3 95.9,445.3 96.2,445.3 96.4,445.3 96.6,445.3 96.8,445.3 97.0,445.3 97.2,445.3 97.5,445.3 97.7,445.3 97.9,445.3 98.1,445.3 98.3,445.3 98.5,445.3 98.8,445.3 99.0,445.3 99.2,445.3 99.4,445.3 99.6,445.3 99.8,445.3 100.0,445.3 100.3,445.3 100.5,445.2 100.7,445.2 100.9,445.2 101.1,445.2 101.3,445.2 101.6,445.2 102.6,445.2 103.7,445.1 104.8,445.1 105.9,445.0 107.0,444.9 108.0,444.9 109.1,444.8 110.2,444.8 111.3,444.8 112.4,444.7 113.4,444.7 114.5,444.7 115.6,444.7 116.7,444.7 117.8,444.7 118.8,444.7 119.9,444.7 121.0,444.7 122.1,444.7 123.2,444.7 124.2,444.7 125.3,444.7 126.4,444.7 127.5,444.7 128.6,444.7 129.6,444.7 130.7,444.7 131.8,444.7 132.9,444.7 134.0,444.7 135.0,444.7 136.1,444.7 137.2,444.7 138.3,444.7 139.4,444.7 140.4,444.7 141.5,444.7 142.6,444.7 143.7,444.7 144.8,444.7 145.8,444.7 146.9,444.7 148.0,444.7 149.1,444.7 150.2,444.7 151.2,444.7 152.3,444.7 153.4,444.7 154.5,444.7 155.6,444.7 156.6,444.7 157.7,444.7 158.8,444.7 159.9,444.7 161.0,444.7 162.0,444.7 163.1,444.7 164.2,444.7 165.3,444.7 166.4,444.7 167.4,444.7 168.5,444.7 169.6,444.7 170.7,444.7 171.8,444.7 172.8,444.7 173.9,444.7 175.0,444.7" fill="none" stroke="#58B0F0" stroke-width="0.85" stroke-linejoin="round"/>
<polyline points="45.4,444.7 46.5,444.7 47.6,444.7 48.6,444.7 49.7,444.7 50.8,444.7 51.9,444.7 53.0,444.7 54.0,444.7 55.1,444.7 56.2,444.7 57.3,444.7 58.4,444.7 59.4,444.7 60.5,444.7 61.6,444.7 62.7,444.7 63.8,444.7 64.8,444.7 65.9,444.7 67.0,444.7 68.1,444.7 69.2,444.7 70.2,444.7 71.3,444.7 72.4,444.7 73.5,444.7 74.6,444.7 75.6,444.7 76.7,444.7 77.8,444.7 78.9,444.7 80.0,444.7 81.0,444.7 82.1,444.7 83.2,444.7 83.4,444.7 83.6,444.7 83.8,444.7 84.1,444.7 84.3,444.7 84.5,444.7 84.7,444.7 84.9,444.7 85.1,444.7 85.4,444.7 85.6,444.7 85.8,444.7 86.0,444.7 86.2,444.7 86.4,444.7 86.7,444.7 86.9,444.7 87.1,444.7 87.3,444.7 87.5,444.7 87.7,444.6 88.0,444.6 88.2,444.6 88.4,444.6 88.6,444.6 88.8,444.5 89.0,444.5 89.2,444.5 89.5,444.5 89.7,444.4 89.9,444.4 90.1,444.4 90.3,444.3 90.5,444.3 90.8,444.3 91.0,444.3 91.2,444.2 91.4,444.2 91.6,444.2 91.8,444.2 92.1,444.1 92.3,444.1 92.5,444.1 92.7,444.1 92.9,444.1 93.1,444.1 93.4,444.1 93.6,444.1 93.8,444.1 94.0,444.1 94.2,444.1 94.4,444.1 94.6,444.0 94.9,444.0 95.1,444.0 95.3,444.0 95.5,444.0 95.7,444.0 95.9,444.0 96.2,444.0 96.4,444.0 96.6,444.0 96.8,444.0 97.0,444.0 97.2,444.0 97.5,444.0 97.7,444.0 97.9,444.0 98.1,444.0 98.3,444.0 98.5,443.9 98.8,443.9 99.0,443.9 99.2,443.9 99.4,443.9 99.6,443.9 99.8,443.9 100.0,443.9 100.3,443.9 100.5,443.9 100.7,443.9 100.9,443.9 101.1,443.9 101.3,443.9 101.6,443.9 102.6,443.9 103.7,443.8 104.8,443.8 105.9,443.8 107.0,443.8 108.0,443.8 109.1,443.8 110.2,443.8 111.3,443.8 112.4,443.9 113.4,443.9 114.5,444.0 115.6,444.1 116.7,444.2 117.8,444.4 118.8,444.5 119.9,444.6 121.0,444.6 122.1,444.7 123.2,444.7 124.2,444.7 125.3,444.7 126.4,444.7 127.5,444.7 128.6,444.7 129.6,444.7 130.7,444.7 131.8,444.7 132.9,444.7 134.0,444.7 135.0,444.7 136.1,444.7 137.2,444.7 138.3,444.7 139.4,444.7 140.4,444.7 141.5,444.7 142.6,444.7 143.7,444.7 144.8,444.7 145.8,444.7 146.9,444.7 148.0,444.7 149.1,444.7 150.2,444.7 151.2,444.7 152.3,444.7 153.4,444.7 154.5,444.7 155.6,444.7 156.6,444.7 157.7,444.7 158.8,444.7 159.9,444.7 161.0,444.7 162.0,444.7 163.1,444.7 164.2,444.7 165.3,444.7 166.4,444.7 167.4,444.7 168.5,444.7 169.6,444.7 170.7,444.7 171.8,444.7 172.8,444.7 173.9,444.7 175.0,444.7" fill="none" stroke="#58E0C0" stroke-width="0.85" stroke-linejoin="round"/>
<polyline points="45.4,444.7 46.5,444.7 47.6,444.7 48.6,444.7 49.7,444.7 50.8,444.7 51.9,444.7 53.0,444.7 54.0,444.7 55.1,444.7 56.2,444.7 57.3,444.7 58.4,444.7 59.4,444.7 60.5,444.7 61.6,444.7 62.7,444.7 63.8,444.7 64.8,444.7 65.9,444.7 67.0,444.7 68.1,444.7 69.2,444.7 70.2,444.7 71.3,444.7 72.4,444.7 73.5,444.7 74.6,444.7 75.6,444.7 76.7,444.7 77.8,444.7 78.9,444.7 80.0,444.7 81.0,444.7 82.1,444.7 83.2,444.7 83.4,444.7 83.6,444.7 83.8,444.7 84.1,444.7 84.3,444.7 84.5,444.7 84.7,444.7 84.9,444.7 85.1,444.7 85.4,444.7 85.6,444.7 85.8,444.7 86.0,444.7 86.2,444.7 86.4,444.6 86.7,444.6 86.9,444.5 87.1,444.4 87.3,444.3 87.5,444.1 87.7,444.0 88.0,443.9 88.2,443.9 88.4,443.8 88.6,443.8 88.8,443.8 89.0,443.8 89.2,443.8 89.5,443.8 89.7,443.8 89.9,443.8 90.1,443.8 90.3,443.8 90.5,443.8 90.8,443.8 91.0,443.8 91.2,443.8 91.4,443.8 91.6,443.7 91.8,443.7 92.1,443.7 92.3,443.7 92.5,443.7 92.7,443.7 92.9,443.7 93.1,443.7 93.4,443.7 93.6,443.7 93.8,443.7 94.0,443.7 94.2,443.7 94.4,443.7 94.6,443.7 94.9,443.7 95.1,443.7 95.3,443.7 95.5,443.7 95.7,443.7 95.9,443.7 96.2,443.7 96.4,443.7 96.6,443.7 96.8,443.7 97.0,443.7 97.2,443.7 97.5,443.7 97.7,443.7 97.9,443.7 98.1,443.7 98.3,443.7 98.5,443.7 98.8,443.7 99.0,443.7 99.2,443.7 99.4,443.7 99.6,443.7 99.8,443.7 100.0,443.7 100.3,443.7 100.5,443.7 100.7,443.7 100.9,443.7 101.1,443.7 101.3,443.7 101.6,443.7 102.6,443.7 103.7,443.7 104.8,443.8 105.9,443.8 107.0,443.9 108.0,444.0 109.1,444.0 110.2,444.1 111.3,444.1 112.4,444.2 113.4,444.2 114.5,444.3 115.6,444.3 116.7,444.4 117.8,444.4 118.8,444.4 119.9,444.4 121.0,444.4 122.1,444.4 123.2,444.4 124.2,444.4 125.3,444.5 126.4,444.5 127.5,444.5 128.6,444.5 129.6,444.5 130.7,444.5 131.8,444.5 132.9,444.5 134.0,444.5 135.0,444.5 136.1,444.5 137.2,444.5 138.3,444.5 139.4,444.5 140.4,444.5 141.5,444.6 142.6,444.6 143.7,444.6 144.8,444.6 145.8,444.6 146.9,444.6 148.0,444.6 149.1,444.6 150.2,444.6 151.2,444.6 152.3,444.6 153.4,444.6 154.5,444.6 155.6,444.6 156.6,444.6 157.7,444.6 158.8,444.6 159.9,444.6 161.0,444.6 162.0,444.6 163.1,444.6 164.2,444.6 165.3,444.7 166.4,444.7 167.4,444.7 168.5,444.7 169.6,444.7 170.7,444.7 171.8,444.7 172.8,444.7 173.9,444.7 175.0,444.7" fill="none" stroke="#88EE78" stroke-width="0.85" stroke-linejoin="round"/>
<polyline points="45.4,444.7 46.5,444.7 47.6,444.7 48.6,444.7 49.7,444.7 50.8,444.7 51.9,444.7 53.0,444.7 54.0,444.7 55.1,444.7 56.2,444.7 57.3,444.7 58.4,444.7 59.4,444.7 60.5,444.7 61.6,444.7 62.7,444.7 63.8,444.7 64.8,444.7 65.9,444.7 67.0,444.7 68.1,444.7 69.2,444.7 70.2,444.7 71.3,444.7 72.4,444.7 73.5,444.7 74.6,444.7 75.6,444.7 76.7,444.7 77.8,444.7 78.9,444.7 80.0,444.7 81.0,444.7 82.1,444.7 83.2,444.7 83.4,444.7 83.6,444.7 83.8,444.7 84.1,444.7 84.3,444.7 84.5,444.7 84.7,444.7 84.9,444.7 85.1,444.7 85.4,444.7 85.6,444.7 85.8,444.7 86.0,444.7 86.2,444.7 86.4,444.7 86.7,444.7 86.9,444.7 87.1,444.7 87.3,444.7 87.5,444.6 87.7,444.6 88.0,444.6 88.2,444.6 88.4,444.5 88.6,444.5 88.8,444.5 89.0,444.4 89.2,444.4 89.5,444.4 89.7,444.3 89.9,444.3 90.1,444.3 90.3,444.2 90.5,444.2 90.8,444.2 91.0,444.1 91.2,444.1 91.4,444.1 91.6,444.1 91.8,444.0 92.1,444.0 92.3,444.0 92.5,444.0 92.7,444.0 92.9,444.0 93.1,444.0 93.4,444.0 93.6,444.0 93.8,444.0 94.0,444.0 94.2,444.0 94.4,444.0 94.6,444.0 94.9,444.0 95.1,444.0 95.3,444.0 95.5,444.0 95.7,444.0 95.9,444.0 96.2,444.0 96.4,444.0 96.6,444.0 96.8,444.0 97.0,444.0 97.2,444.0 97.5,444.0 97.7,444.0 97.9,444.0 98.1,444.0 98.3,444.0 98.5,444.0 98.8,444.0 99.0,444.0 99.2,444.0 99.4,444.0 99.6,444.0 99.8,444.0 100.0,444.0 100.3,444.0 100.5,444.0 100.7,444.0 100.9,444.0 101.1,444.0 101.3,444.0 101.6,444.0 102.6,444.0 103.7,444.0 104.8,444.0 105.9,444.1 107.0,444.1 108.0,444.1 109.1,444.1 110.2,444.1 111.3,444.1 112.4,444.1 113.4,444.1 114.5,444.1 115.6,444.1 116.7,444.1 117.8,444.1 118.8,444.1 119.9,444.1 121.0,444.1 122.1,444.1 123.2,444.1 124.2,444.1 125.3,444.1 126.4,444.1 127.5,444.1 128.6,444.1 129.6,444.1 130.7,444.1 131.8,444.1 132.9,444.1 134.0,444.1 135.0,444.1 136.1,444.1 137.2,444.1 138.3,444.1 139.4,444.1 140.4,444.1 141.5,444.1 142.6,444.1 143.7,444.1 144.8,444.1 145.8,444.2 146.9,444.2 148.0,444.2 149.1,444.2 150.2,444.2 151.2,444.2 152.3,444.2 153.4,444.2 154.5,444.2 155.6,444.2 156.6,444.2 157.7,444.2 158.8,444.3 159.9,444.3 161.0,444.3 162.0,444.3 163.1,444.3 164.2,444.3 165.3,444.3 166.4,444.3 167.4,444.3 168.5,444.3 169.6,444.4 170.7,444.4 171.8,444.4 172.8,444.4 173.9,444.4 175.0,444.4" fill="none" stroke="#D4F080" stroke-width="0.85" stroke-linejoin="round"/>
<polyline points="45.4,444.7 46.5,444.7 47.6,444.7 48.6,444.7 49.7,444.7 50.8,444.7 51.9,444.7 53.0,444.7 54.0,444.7 55.1,444.7 56.2,444.7 57.3,444.7 58.4,444.7 59.4,444.7 60.5,444.7 61.6,444.7 62.7,444.7 63.8,444.7 64.8,444.7 65.9,444.7 67.0,444.7 68.1,444.7 69.2,444.7 70.2,444.7 71.3,444.7 72.4,444.7 73.5,444.7 74.6,444.7 75.6,444.7 76.7,444.7 77.8,444.7 78.9,444.7 80.0,444.7 81.0,444.7 82.1,444.7 83.2,444.7 83.4,444.7 83.6,444.7 83.8,444.7 84.1,444.7 84.3,444.7 84.5,444.7 84.7,444.7 84.9,444.7 85.1,444.7 85.4,444.7 85.6,444.7 85.8,444.7 86.0,444.7 86.2,444.7 86.4,444.7 86.7,444.7 86.9,444.7 87.1,444.7 87.3,444.7 87.5,444.7 87.7,444.7 88.0,444.7 88.2,444.7 88.4,444.7 88.6,444.7 88.8,444.6 89.0,444.6 89.2,444.6 89.5,444.6 89.7,444.6 89.9,444.6 90.1,444.6 90.3,444.6 90.5,444.6 90.8,444.5 91.0,444.5 91.2,444.5 91.4,444.5 91.6,444.5 91.8,444.5 92.1,444.4 92.3,444.4 92.5,444.4 92.7,444.4 92.9,444.4 93.1,444.4 93.4,444.4 93.6,444.3 93.8,444.3 94.0,444.3 94.2,444.3 94.4,444.3 94.6,444.3 94.9,444.2 95.1,444.2 95.3,444.2 95.5,444.2 95.7,444.2 95.9,444.2 96.2,444.2 96.4,444.1 96.6,444.1 96.8,444.1 97.0,444.1 97.2,444.1 97.5,444.1 97.7,444.1 97.9,444.1 98.1,444.1 98.3,444.0 98.5,444.0 98.8,444.0 99.0,444.0 99.2,444.0 99.4,444.0 99.6,444.0 99.8,444.0 100.0,444.0 100.3,443.9 100.5,443.9 100.7,443.9 100.9,443.9 101.1,443.9 101.3,443.9 101.6,443.9 102.6,443.8 103.7,443.8 104.8,443.7 105.9,443.6 107.0,443.6 108.0,443.5 109.1,443.5 110.2,443.4 111.3,443.4 112.4,443.3 113.4,443.3 114.5,443.3 115.6,443.2 116.7,443.2 117.8,443.2 118.8,443.2 119.9,443.2 121.0,443.2 122.1,443.2 123.2,443.2 124.2,443.2 125.3,443.2 126.4,443.3 127.5,443.3 128.6,443.3 129.6,443.3 130.7,443.3 131.8,443.3 132.9,443.4 134.0,443.4 135.0,443.4 136.1,443.4 137.2,443.4 138.3,443.5 139.4,443.5 140.4,443.5 141.5,443.5 142.6,443.5 143.7,443.5 144.8,443.5 145.8,443.6 146.9,443.6 148.0,443.6 149.1,443.6 150.2,443.6 151.2,443.6 152.3,443.6 153.4,443.6 154.5,443.6 155.6,443.7 156.6,443.7 157.7,443.7 158.8,443.7 159.9,443.7 161.0,443.7 162.0,443.7 163.1,443.8 164.2,443.8 165.3,443.8 166.4,443.8 167.4,443.8 168.5,443.8 169.6,443.9 170.7,443.9 171.8,443.9 172.8,443.9 173.9,444.0 175.0,444.0" fill="none" stroke="#F0C058" stroke-width="0.85" stroke-linejoin="round"/>
<polyline points="45.4,444.7 46.5,444.7 47.6,444.7 48.6,444.7 49.7,444.7 50.8,444.7 51.9,444.7 53.0,444.7 54.0,444.7 55.1,444.7 56.2,444.7 57.3,444.7 58.4,444.7 59.4,444.7 60.5,444.7 61.6,444.7 62.7,444.7 63.8,444.7 64.8,444.7 65.9,444.7 67.0,444.7 68.1,444.7 69.2,444.7 70.2,444.7 71.3,444.7 72.4,444.7 73.5,444.7 74.6,444.7 75.6,444.7 76.7,444.7 77.8,444.7 78.9,444.7 80.0,444.7 81.0,444.7 82.1,444.7 83.2,444.7 83.4,444.7 83.6,444.7 83.8,444.7 84.1,444.7 84.3,444.7 84.5,444.7 84.7,444.7 84.9,444.7 85.1,444.7 85.4,444.7 85.6,444.7 85.8,444.7 86.0,444.7 86.2,444.7 86.4,444.7 86.7,444.7 86.9,444.7 87.1,444.7 87.3,444.7 87.5,444.7 87.7,444.7 88.0,444.7 88.2,444.7 88.4,444.7 88.6,444.7 88.8,444.7 89.0,444.7 89.2,444.7 89.5,444.7 89.7,444.7 89.9,444.7 90.1,444.6 90.3,444.6 90.5,444.6 90.8,444.6 91.0,444.6 91.2,444.6 91.4,444.6 91.6,444.6 91.8,444.6 92.1,444.6 92.3,444.6 92.5,444.6 92.7,444.6 92.9,444.5 93.1,444.5 93.4,444.5 93.6,444.5 93.8,444.5 94.0,444.5 94.2,444.5 94.4,444.5 94.6,444.5 94.9,444.5 95.1,444.4 95.3,444.4 95.5,444.4 95.7,444.4 95.9,444.4 96.2,444.4 96.4,444.4 96.6,444.4 96.8,444.4 97.0,444.3 97.2,444.3 97.5,444.3 97.7,444.3 97.9,444.3 98.1,444.3 98.3,444.3 98.5,444.3 98.8,444.2 99.0,444.2 99.2,444.2 99.4,444.2 99.6,444.2 99.8,444.2 100.0,444.2 100.3,444.2 100.5,444.2 100.7,444.1 100.9,444.1 101.1,444.1 101.3,444.1 101.6,444.1 102.6,444.0 103.7,444.0 104.8,443.9 105.9,443.8 107.0,443.7 108.0,443.6 109.1,443.5 110.2,443.4 111.3,443.3 112.4,443.2 113.4,443.1 114.5,443.0 115.6,443.0 116.7,442.9 117.8,442.9 118.8,442.9 119.9,442.9 121.0,442.9 122.1,442.9 123.2,442.9 124.2,442.9 125.3,442.9 126.4,442.9 127.5,442.9 128.6,442.9 129.6,442.9 130.7,442.9 131.8,442.9 132.9,443.0 134.0,443.0 135.0,443.0 136.1,443.0 137.2,443.0 138.3,443.0 139.4,443.0 140.4,443.0 141.5,443.0 142.6,443.0 143.7,443.0 144.8,443.1 145.8,443.1 146.9,443.1 148.0,443.1 149.1,443.1 150.2,443.2 151.2,443.2 152.3,443.2 153.4,443.2 154.5,443.3 155.6,443.3 156.6,443.3 157.7,443.3 158.8,443.3 159.9,443.4 161.0,443.4 162.0,443.4 163.1,443.4 164.2,443.5 165.3,443.5 166.4,443.5 167.4,443.5 168.5,443.5 169.6,443.5 170.7,443.6 171.8,443.6 172.8,443.6 173.9,443.6 175.0,443.6" fill="none" stroke="#E87C40" stroke-width="0.85" stroke-linejoin="round"/>
<polyline points="45.4,444.7 46.5,444.7 47.6,444.7 48.6,444.7 49.7,444.7 50.8,444.7 51.9,444.7 53.0,444.7 54.0,444.7 55.1,444.7 56.2,444.7 57.3,444.7 58.4,444.7 59.4,444.7 60.5,444.7 61.6,444.7 62.7,444.7 63.8,444.7 64.8,444.7 65.9,444.7 67.0,444.7 68.1,444.7 69.2,444.7 70.2,444.7 71.3,444.7 72.4,444.7 73.5,444.7 74.6,444.7 75.6,444.7 76.7,444.7 77.8,444.7 78.9,444.7 80.0,444.7 81.0,444.7 82.1,444.7 83.2,444.7 83.4,444.7 83.6,444.7 83.8,444.7 84.1,444.7 84.3,444.7 84.5,444.7 84.7,444.7 84.9,444.7 85.1,444.7 85.4,444.7 85.6,444.7 85.8,444.7 86.0,444.7 86.2,444.6 86.4,444.4 86.7,444.1 86.9,443.7 87.1,443.2 87.3,442.7 87.5,442.1 87.7,441.6 88.0,441.1 88.2,440.6 88.4,440.2 88.6,439.9 88.8,439.6 89.0,439.4 89.2,439.1 89.5,438.9 89.7,438.6 89.9,438.4 90.1,438.1 90.3,437.9 90.5,437.7 90.8,437.4 91.0,437.2 91.2,437.1 91.4,436.9 91.6,436.7 91.8,436.6 92.1,436.5 92.3,436.4 92.5,436.3 92.7,436.2 92.9,436.2 93.1,436.2 93.4,436.2 93.6,436.2 93.8,436.3 94.0,436.3 94.2,436.4 94.4,436.5 94.6,436.5 94.9,436.6 95.1,436.7 95.3,436.8 95.5,436.9 95.7,437.0 95.9,437.1 96.2,437.2 96.4,437.3 96.6,437.5 96.8,437.6 97.0,437.7 97.2,437.8 97.5,437.9 97.7,438.0 97.9,438.1 98.1,438.2 98.3,438.4 98.5,438.5 98.8,438.6 99.0,438.8 99.2,438.9 99.4,439.0 99.6,439.2 99.8,439.3 100.0,439.5 100.3,439.6 100.5,439.8 100.7,439.9 100.9,440.1 101.1,440.2 101.3,440.4 101.6,440.5 102.6,441.1 103.7,441.8 104.8,442.3 105.9,442.6 107.0,443.0 108.0,443.2 109.1,443.3 110.2,443.3 111.3,443.4 112.4,443.5 113.4,443.5 114.5,443.5 115.6,443.5 116.7,443.5 117.8,443.5 118.8,443.4 119.9,443.4 121.0,443.4 122.1,443.4 123.2,443.3 124.2,443.3 125.3,443.3 126.4,443.3 127.5,443.2 128.6,443.2 129.6,443.2 130.7,443.2 131.8,443.2 132.9,443.2 134.0,443.2 135.0,443.2 136.1,443.2 137.2,443.2 138.3,443.2 139.4,443.2 140.4,443.2 141.5,443.2 142.6,443.3 143.7,443.3 144.8,443.3 145.8,443.3 146.9,443.3 148.0,443.3 149.1,443.3 150.2,443.4 151.2,443.4 152.3,443.4 153.4,443.4 154.5,443.4 155.6,443.5 156.6,443.5 157.7,443.5 158.8,443.5 159.9,443.5 161.0,443.6 162.0,443.6 163.1,443.6 164.2,443.6 165.3,443.6 166.4,443.7 167.4,443.7 168.5,443.7 169.6,443.7 170.7,443.7 171.8,443.7 172.8,443.8 173.9,443.8 175.0,443.8" fill="none" stroke="#D84A34" stroke-width="0.85" stroke-linejoin="round"/>
<polyline points="45.4,444.7 46.5,444.7 47.6,444.7 48.6,444.7 49.7,444.7 50.8,444.7 51.9,444.7 53.0,444.7 54.0,444.7 55.1,444.7 56.2,444.7 57.3,444.7 58.4,444.7 59.4,444.7 60.5,444.7 61.6,444.7 62.7,444.7 63.8,444.7 64.8,444.7 65.9,444.7 67.0,444.7 68.1,444.7 69.2,444.7 70.2,444.7 71.3,444.7 72.4,444.7 73.5,444.7 74.6,444.7 75.6,444.7 76.7,444.7 77.8,444.7 78.9,444.7 80.0,444.7 81.0,444.7 82.1,444.7 83.2,444.7 83.4,444.7 83.6,444.7 83.8,444.7 84.1,444.7 84.3,444.7 84.5,444.5 84.7,444.1 84.9,443.4 85.1,442.5 85.4,441.5 85.6,440.5 85.8,439.4 86.0,438.3 86.2,437.2 86.4,436.3 86.7,435.6 86.9,435.1 87.1,434.7 87.3,434.3 87.5,433.9 87.7,433.5 88.0,433.2 88.2,432.8 88.4,432.5 88.6,432.2 88.8,431.9 89.0,431.6 89.2,431.4 89.5,431.2 89.7,431.0 89.9,430.9 90.1,430.7 90.3,430.7 90.5,430.7 90.8,430.7 91.0,430.7 91.2,430.7 91.4,430.8 91.6,430.8 91.8,430.9 92.1,430.9 92.3,431.0 92.5,431.1 92.7,431.2 92.9,431.3 93.1,431.4 93.4,431.4 93.6,431.6 93.8,431.7 94.0,431.9 94.2,432.1 94.4,432.3 94.6,432.5 94.9,432.7 95.1,433.0 95.3,433.3 95.5,433.5 95.7,433.8 95.9,434.0 96.2,434.3 96.4,434.5 96.6,434.8 96.8,435.0 97.0,435.2 97.2,435.4 97.5,435.6 97.7,435.7 97.9,435.9 98.1,436.1 98.3,436.3 98.5,436.5 98.8,436.6 99.0,436.8 99.2,437.0 99.4,437.2 99.6,437.3 99.8,437.5 100.0,437.7 100.3,437.8 100.5,438.0 100.7,438.2 100.9,438.4 101.1,438.5 101.3,438.7 101.6,438.9 102.6,439.8 103.7,440.6 104.8,441.3 105.9,441.9 107.0,442.4 108.0,442.9 109.1,443.4 110.2,443.9 111.3,444.3 112.4,444.6 113.4,444.8 114.5,445.0 115.6,445.1 116.7,445.2 117.8,445.3 118.8,445.3 119.9,445.3 121.0,445.3 122.1,445.3 123.2,445.3 124.2,445.3 125.3,445.3 126.4,445.2 127.5,445.2 128.6,445.2 129.6,445.2 130.7,445.2 131.8,445.2 132.9,445.2 134.0,445.2 135.0,445.1 136.1,445.1 137.2,445.1 138.3,445.1 139.4,445.1 140.4,445.1 141.5,445.1 142.6,445.1 143.7,445.1 144.8,445.0 145.8,445.0 146.9,445.0 148.0,445.0 149.1,445.0 150.2,445.0 151.2,445.0 152.3,445.0 153.4,444.9 154.5,444.9 155.6,444.9 156.6,444.9 157.7,444.9 158.8,444.9 159.9,444.9 161.0,444.9 162.0,444.8 163.1,444.8 164.2,444.8 165.3,444.8 166.4,444.8 167.4,444.8 168.5,444.8 169.6,444.8 170.7,444.7 171.8,444.7 172.8,444.7 173.9,444.7 175.0,444.7" fill="none" stroke="#992A2A" stroke-width="0.85" stroke-linejoin="round"/>
</g>
<path d="M175.00,372.40V468.80" stroke="#5a5a5a" stroke-width="0.95" fill="none"/>
<path d="M45.40,468.80V372.40H175.00M45.40,468.80H175.00" stroke="#5a5a5a" stroke-width="0.95" fill="none"/>
<text x="45.40" y="478.10" font-size="6.2" fill="#333" stroke="#333" stroke-width="0.05" text-anchor="middle" font-weight="normal" font-family='"Liberation Sans", sans-serif' >0</text>
<text x="67.00" y="478.10" font-size="6.2" fill="#333" stroke="#333" stroke-width="0.05" text-anchor="middle" font-weight="normal" font-family='"Liberation Sans", sans-serif' >500</text>
<text x="88.60" y="478.10" font-size="6.2" fill="#333" stroke="#333" stroke-width="0.05" text-anchor="middle" font-weight="normal" font-family='"Liberation Sans", sans-serif' >1000</text>
<text x="110.20" y="478.10" font-size="6.2" fill="#333" stroke="#333" stroke-width="0.05" text-anchor="middle" font-weight="normal" font-family='"Liberation Sans", sans-serif' >1500</text>
<text x="131.80" y="478.10" font-size="6.2" fill="#333" stroke="#333" stroke-width="0.05" text-anchor="middle" font-weight="normal" font-family='"Liberation Sans", sans-serif' >2000</text>
<text x="153.40" y="478.10" font-size="6.2" fill="#333" stroke="#333" stroke-width="0.05" text-anchor="middle" font-weight="normal" font-family='"Liberation Sans", sans-serif' >2500</text>
<text x="175.00" y="478.10" font-size="6.2" fill="#333" stroke="#333" stroke-width="0.05" text-anchor="middle" font-weight="normal" font-family='"Liberation Sans", sans-serif' >3000</text>
<path d="M45.40,468.80v1.4M45.40,372.40v-1.4M67.00,468.80v1.4M67.00,372.40v-1.4M88.60,468.80v1.4M88.60,372.40v-1.4M110.20,468.80v1.4M110.20,372.40v-1.4M131.80,468.80v1.4M131.80,372.40v-1.4M153.40,468.80v1.4M153.40,372.40v-1.4M175.00,468.80v1.4M175.00,372.40v-1.4M45.40,468.80h-1.4M175.00,468.80h1.4M45.40,456.75h-1.4M175.00,456.75h1.4M45.40,444.70h-1.4M175.00,444.70h1.4M45.40,432.65h-1.4M175.00,432.65h1.4M45.40,420.60h-1.4M175.00,420.60h1.4M45.40,408.55h-1.4M175.00,408.55h1.4M45.40,396.50h-1.4M175.00,396.50h1.4M45.40,384.45h-1.4M175.00,384.45h1.4M45.40,372.40h-1.4M175.00,372.40h1.4" stroke="#5a5a5a" stroke-width="0.8" fill="none"/>
<text x="42.80" y="374.60" font-size="6.2" fill="#333" stroke="#333" stroke-width="0.05" text-anchor="end" font-weight="normal" font-family='"Liberation Sans", sans-serif' >1.12</text>
<text x="42.80" y="398.70" font-size="6.2" fill="#333" stroke="#333" stroke-width="0.05" text-anchor="end" font-weight="normal" font-family='"Liberation Sans", sans-serif' >1.08</text>
<text x="42.80" y="422.80" font-size="6.2" fill="#333" stroke="#333" stroke-width="0.05" text-anchor="end" font-weight="normal" font-family='"Liberation Sans", sans-serif' >1.04</text>
<text x="42.80" y="446.90" font-size="6.2" fill="#333" stroke="#333" stroke-width="0.05" text-anchor="end" font-weight="normal" font-family='"Liberation Sans", sans-serif' >1</text>
<text x="42.80" y="471.00" font-size="6.2" fill="#333" stroke="#333" stroke-width="0.05" text-anchor="end" font-weight="normal" font-family='"Liberation Sans", sans-serif' >0.96</text>
<text x="110.20" y="486.70" font-size="7.0" fill="#1a1a1a" stroke="#1a1a1a" stroke-width="0.12" text-anchor="middle" font-weight="bold" font-family='"Liberation Sans", sans-serif' >Time (s)</text>
<text transform="translate(28.10,420.60) rotate(-90)" font-size="7.0" font-weight="bold" fill="#1a1a1a" stroke="#1a1a1a" stroke-width="0.12" text-anchor="middle" font-family='"Liberation Sans", sans-serif'>Response</text>
<rect x="183.60" y="372.20" width="30.50" height="88.40" fill="#fff" />
<path d="M183.60,372.20V460.60M214.10,372.20V460.60" stroke="#bdbdbd" stroke-width="1.5" fill="none"/>
<path d="M183.10,372.20H214.60M183.10,460.60H214.60" stroke="#6a6a6a" stroke-width="0.9" fill="none"/>
<line x1="184.90" y1="377.50" x2="192.80" y2="377.50" stroke="#4A3A6A" stroke-width="0.8"/>
<text x="193.60" y="380.10" font-size="7.0" fill="#1a1a1a" stroke="#1a1a1a" stroke-width="0.22" text-anchor="start" font-weight="normal" font-family='"Liberation Sans", sans-serif' >PID#1</text>
<line x1="184.90" y1="385.50" x2="192.80" y2="385.50" stroke="#6A7EEA" stroke-width="0.8"/>
<text x="193.60" y="388.10" font-size="7.0" fill="#1a1a1a" stroke="#1a1a1a" stroke-width="0.22" text-anchor="start" font-weight="normal" font-family='"Liberation Sans", sans-serif' >EC#1</text>
<line x1="184.90" y1="394.50" x2="192.80" y2="394.50" stroke="#58B0F0" stroke-width="0.8"/>
<text x="193.60" y="397.10" font-size="7.0" fill="#1a1a1a" stroke="#1a1a1a" stroke-width="0.22" text-anchor="start" font-weight="normal" font-family='"Liberation Sans", sans-serif' >EC#2</text>
<line x1="184.90" y1="403.50" x2="192.80" y2="403.50" stroke="#58E0C0" stroke-width="0.8"/>
<text x="193.60" y="406.10" font-size="7.0" fill="#1a1a1a" stroke="#1a1a1a" stroke-width="0.22" text-anchor="start" font-weight="normal" font-family='"Liberation Sans", sans-serif' >EC#3</text>
<line x1="184.90" y1="412.50" x2="192.80" y2="412.50" stroke="#88EE78" stroke-width="0.8"/>
<text x="193.60" y="415.10" font-size="7.0" fill="#1a1a1a" stroke="#1a1a1a" stroke-width="0.22" text-anchor="start" font-weight="normal" font-family='"Liberation Sans", sans-serif' >EC#4</text>
<line x1="184.90" y1="420.50" x2="192.80" y2="420.50" stroke="#D4F080" stroke-width="0.8"/>
<text x="193.60" y="423.10" font-size="7.0" fill="#1a1a1a" stroke="#1a1a1a" stroke-width="0.22" text-anchor="start" font-weight="normal" font-family='"Liberation Sans", sans-serif' >EC#5</text>
<line x1="184.90" y1="429.50" x2="192.80" y2="429.50" stroke="#F0C058" stroke-width="0.8"/>
<text x="193.60" y="432.10" font-size="7.0" fill="#1a1a1a" stroke="#1a1a1a" stroke-width="0.22" text-anchor="start" font-weight="normal" font-family='"Liberation Sans", sans-serif' >EC#6</text>
<line x1="184.90" y1="438.50" x2="192.80" y2="438.50" stroke="#E87C40" stroke-width="0.8"/>
<text x="193.60" y="441.10" font-size="7.0" fill="#1a1a1a" stroke="#1a1a1a" stroke-width="0.22" text-anchor="start" font-weight="normal" font-family='"Liberation Sans", sans-serif' >EC#7</text>
<line x1="184.90" y1="447.50" x2="192.80" y2="447.50" stroke="#D84A34" stroke-width="0.8"/>
<text x="193.60" y="450.10" font-size="7.0" fill="#1a1a1a" stroke="#1a1a1a" stroke-width="0.22" text-anchor="start" font-weight="normal" font-family='"Liberation Sans", sans-serif' >EC#8</text>
<line x1="184.90" y1="455.50" x2="192.80" y2="455.50" stroke="#992A2A" stroke-width="0.8"/>
<text x="193.60" y="458.10" font-size="7.0" fill="#1a1a1a" stroke="#1a1a1a" stroke-width="0.22" text-anchor="start" font-weight="normal" font-family='"Liberation Sans", sans-serif' >EC#9</text>
</g>
<text x="274.30" y="233.90" font-size="10.35" fill="#111" stroke="#111" stroke-width="0.22" text-anchor="start" font-weight="normal" font-family='"Liberation Sans", sans-serif' >Gas sensor response (LC)</text>
<g>
<clipPath id="c269242"><rect x="269.4" y="242.4" width="129.6" height="98.0"/></clipPath>
<g clip-path="url(#c269242)">
<polyline points="269.4,284.5 270.5,281.9 271.6,280.6 272.6,280.1 273.7,279.8 274.8,279.5 275.9,279.2 277.0,278.8 278.0,278.4 279.1,278.0 280.2,277.6 281.3,277.2 282.4,276.9 283.4,276.5 284.5,276.1 285.6,275.7 286.7,275.3 287.8,275.0 288.8,274.6 289.9,274.2 291.0,273.8 292.1,273.3 293.2,272.8 294.2,272.3 295.3,271.8 296.4,271.2 297.5,270.6 298.6,270.1 299.6,269.5 300.7,269.0 301.8,268.5 302.9,268.1 304.0,267.7 305.0,267.3 306.1,267.1 307.2,267.0 307.4,266.9 307.6,266.9 307.8,266.9 308.1,266.9 308.3,266.9 308.5,267.1 308.7,267.9 308.9,268.9 309.1,270.3 309.4,272.0 309.6,273.7 309.8,275.6 310.0,277.6 310.2,279.4 310.4,281.2 310.7,282.7 310.9,284.1 311.1,285.2 311.3,286.4 311.5,287.6 311.7,288.8 312.0,290.0 312.2,291.1 312.4,292.2 312.6,293.3 312.8,294.2 313.0,295.1 313.2,295.9 313.5,296.6 313.7,297.1 313.9,297.5 314.1,297.9 314.3,298.2 314.5,298.5 314.8,298.8 315.0,299.0 315.2,299.3 315.4,299.6 315.6,299.8 315.8,300.0 316.1,300.3 316.3,300.5 316.5,300.7 316.7,300.8 316.9,301.0 317.1,301.1 317.4,301.3 317.6,301.4 317.8,301.5 318.0,301.6 318.2,301.6 318.4,301.7 318.6,301.7 318.9,301.8 319.1,301.8 319.3,301.9 319.5,301.9 319.7,302.0 319.9,302.0 320.2,302.0 320.4,302.1 320.6,302.1 320.8,302.1 321.0,302.2 321.2,302.2 321.5,302.2 321.7,302.2 321.9,302.3 322.1,302.3 322.3,302.3 322.5,302.3 322.8,302.4 323.0,302.4 323.2,302.4 323.4,302.4 323.6,302.4 323.8,302.4 324.0,302.4 324.3,302.4 324.5,302.4 324.7,302.4 324.9,302.4 325.1,302.4 325.3,302.4 325.6,302.4 326.6,302.4 327.7,302.3 328.8,302.2 329.9,302.1 331.0,302.0 332.0,301.9 333.1,301.7 334.2,301.6 335.3,301.4 336.4,301.3 337.4,301.1 338.5,300.9 339.6,300.6 340.7,300.4 341.8,300.1 342.8,299.8 343.9,299.4 345.0,299.1 346.1,298.7 347.2,298.4 348.2,298.0 349.3,297.6 350.4,297.3 351.5,296.9 352.6,296.6 353.6,296.2 354.7,295.9 355.8,295.6 356.9,295.3 358.0,295.0 359.0,294.7 360.1,294.4 361.2,294.1 362.3,293.7 363.4,293.4 364.4,293.1 365.5,292.8 366.6,292.5 367.7,292.2 368.8,291.9 369.8,291.6 370.9,291.3 372.0,291.0 373.1,290.7 374.2,290.4 375.2,290.1 376.3,289.8 377.4,289.5 378.5,289.2 379.6,288.9 380.6,288.6 381.7,288.3 382.8,288.0 383.9,287.7 385.0,287.3 386.0,287.0 387.1,286.7 388.2,286.4 389.3,286.1 390.4,285.8 391.4,285.5 392.5,285.2 393.6,284.9 394.7,284.6 395.8,284.2 396.8,283.9 397.9,283.6 399.0,283.3" fill="none" stroke="#37304F" stroke-width="1.1" stroke-linejoin="round"/>
<polyline points="269.4,270.6 270.5,270.5 271.6,270.3 272.6,270.2 273.7,270.1 274.8,269.9 275.9,269.8 277.0,269.7 278.0,269.5 279.1,269.4 280.2,269.3 281.3,269.2 282.4,269.0 283.4,268.9 284.5,268.8 285.6,268.7 286.7,268.6 287.8,268.5 288.8,268.4 289.9,268.3 291.0,268.2 292.1,268.1 293.2,267.9 294.2,267.8 295.3,267.7 296.4,267.6 297.5,267.5 298.6,267.4 299.6,267.3 300.7,267.2 301.8,267.2 302.9,267.1 304.0,267.0 305.0,267.0 306.1,266.9 307.2,266.9 307.4,266.9 307.6,266.9 307.8,266.9 308.1,266.9 308.3,266.9 308.5,267.3 308.7,268.3 308.9,269.9 309.1,272.0 309.4,274.3 309.6,276.8 309.8,279.3 310.0,281.7 310.2,283.9 310.4,285.7 310.7,287.0 310.9,287.7 311.1,288.1 311.3,288.4 311.5,288.7 311.7,289.0 312.0,289.2 312.2,289.5 312.4,289.7 312.6,289.9 312.8,290.1 313.0,290.3 313.2,290.4 313.5,290.6 313.7,290.7 313.9,290.9 314.1,291.0 314.3,291.1 314.5,291.3 314.8,291.4 315.0,291.5 315.2,291.7 315.4,291.8 315.6,291.9 315.8,292.0 316.1,292.1 316.3,292.2 316.5,292.4 316.7,292.5 316.9,292.6 317.1,292.7 317.4,292.8 317.6,292.9 317.8,293.0 318.0,293.1 318.2,293.2 318.4,293.3 318.6,293.3 318.9,293.4 319.1,293.5 319.3,293.6 319.5,293.7 319.7,293.7 319.9,293.8 320.2,293.9 320.4,294.0 320.6,294.0 320.8,294.1 321.0,294.1 321.2,294.2 321.5,294.3 321.7,294.3 321.9,294.4 322.1,294.5 322.3,294.5 322.5,294.6 322.8,294.7 323.0,294.7 323.2,294.8 323.4,294.9 323.6,294.9 323.8,295.0 324.0,295.0 324.3,295.1 324.5,295.2 324.7,295.2 324.9,295.3 325.1,295.3 325.3,295.4 325.6,295.5 326.6,295.7 327.7,295.9 328.8,296.0 329.9,296.1 331.0,296.1 332.0,296.0 333.1,296.0 334.2,296.0 335.3,296.0 336.4,295.9 337.4,295.9 338.5,295.8 339.6,295.7 340.7,295.5 341.8,295.2 342.8,294.9 343.9,294.5 345.0,294.1 346.1,293.7 347.2,293.4 348.2,293.0 349.3,292.5 350.4,292.0 351.5,291.5 352.6,291.0 353.6,290.4 354.7,289.9 355.8,289.4 356.9,289.0 358.0,288.5 359.0,288.0 360.1,287.6 361.2,287.1 362.3,286.7 363.4,286.2 364.4,285.8 365.5,285.4 366.6,284.9 367.7,284.5 368.8,284.1 369.8,283.6 370.9,283.2 372.0,282.7 373.1,282.3 374.2,281.9 375.2,281.4 376.3,281.0 377.4,280.6 378.5,280.2 379.6,279.8 380.6,279.5 381.7,279.2 382.8,278.8 383.9,278.5 385.0,278.3 386.0,278.0 387.1,277.7 388.2,277.5 389.3,277.2 390.4,277.0 391.4,276.7 392.5,276.5 393.6,276.2 394.7,276.0 395.8,275.7 396.8,275.5 397.9,275.2 399.0,275.0" fill="none" stroke="#4466E0" stroke-width="1.1" stroke-linejoin="round"/>
<polyline points="269.4,268.1 270.5,268.1 271.6,268.0 272.6,267.9 273.7,267.9 274.8,267.8 275.9,267.8 277.0,267.7 278.0,267.6 279.1,267.6 280.2,267.5 281.3,267.4 282.4,267.4 283.4,267.3 284.5,267.3 285.6,267.2 286.7,267.2 287.8,267.2 288.8,267.1 289.9,267.1 291.0,267.1 292.1,267.1 293.2,267.1 294.2,267.0 295.3,267.0 296.4,267.0 297.5,267.0 298.6,267.0 299.6,267.0 300.7,266.9 301.8,266.9 302.9,266.9 304.0,266.9 305.0,266.9 306.1,266.9 307.2,266.9 307.4,266.9 307.6,266.9 307.8,266.9 308.1,266.9 308.3,266.9 308.5,267.3 308.7,268.4 308.9,270.1 309.1,272.2 309.4,274.6 309.6,277.1 309.8,279.6 310.0,282.0 310.2,284.1 310.4,286.0 310.7,288.0 310.9,290.0 311.1,292.0 311.3,294.0 311.5,295.8 311.7,297.4 312.0,298.8 312.2,300.0 312.4,301.2 312.6,302.4 312.8,303.6 313.0,304.7 313.2,305.8 313.5,306.8 313.7,307.7 313.9,308.6 314.1,309.3 314.3,310.0 314.5,310.6 314.8,311.0 315.0,311.4 315.2,311.7 315.4,312.1 315.6,312.5 315.8,312.8 316.1,313.2 316.3,313.5 316.5,313.8 316.7,314.2 316.9,314.5 317.1,314.8 317.4,315.1 317.6,315.3 317.8,315.6 318.0,315.9 318.2,316.1 318.4,316.3 318.6,316.5 318.9,316.7 319.1,316.9 319.3,317.1 319.5,317.2 319.7,317.3 319.9,317.4 320.2,317.5 320.4,317.6 320.6,317.6 320.8,317.6 321.0,317.6 321.2,317.6 321.5,317.6 321.7,317.6 321.9,317.6 322.1,317.6 322.3,317.6 322.5,317.5 322.8,317.5 323.0,317.5 323.2,317.5 323.4,317.4 323.6,317.4 323.8,317.4 324.0,317.3 324.3,317.3 324.5,317.3 324.7,317.2 324.9,317.2 325.1,317.2 325.3,317.1 325.6,317.1 326.6,316.9 327.7,316.6 328.8,316.4 329.9,316.0 331.0,315.5 332.0,315.0 333.1,314.5 334.2,313.9 335.3,313.3 336.4,312.7 337.4,311.9 338.5,311.1 339.6,310.3 340.7,309.5 341.8,308.6 342.8,307.8 343.9,307.0 345.0,306.1 346.1,305.2 347.2,304.3 348.2,303.4 349.3,302.5 350.4,301.6 351.5,300.7 352.6,299.8 353.6,299.0 354.7,298.1 355.8,297.2 356.9,296.4 358.0,295.5 359.0,294.7 360.1,293.9 361.2,293.0 362.3,292.2 363.4,291.4 364.4,290.6 365.5,289.9 366.6,289.1 367.7,288.4 368.8,287.7 369.8,287.1 370.9,286.4 372.0,285.8 373.1,285.2 374.2,284.6 375.2,284.0 376.3,283.5 377.4,282.9 378.5,282.4 379.6,281.8 380.6,281.3 381.7,280.8 382.8,280.2 383.9,279.7 385.0,279.2 386.0,278.8 387.1,278.3 388.2,277.9 389.3,277.5 390.4,277.2 391.4,276.9 392.5,276.5 393.6,276.2 394.7,275.9 395.8,275.7 396.8,275.4 397.9,275.1 399.0,274.7" fill="none" stroke="#5CC6EE" stroke-width="1.1" stroke-linejoin="round"/>
<polyline points="269.4,268.6 270.5,268.5 271.6,268.5 272.6,268.4 273.7,268.3 274.8,268.2 275.9,268.2 277.0,268.1 278.0,268.0 279.1,267.9 280.2,267.9 281.3,267.8 282.4,267.7 283.4,267.7 284.5,267.6 285.6,267.5 286.7,267.5 287.8,267.4 288.8,267.4 289.9,267.4 291.0,267.3 292.1,267.3 293.2,267.2 294.2,267.2 295.3,267.2 296.4,267.1 297.5,267.1 298.6,267.1 299.6,267.0 300.7,267.0 301.8,267.0 302.9,267.0 304.0,266.9 305.0,266.9 306.1,266.9 307.2,266.9 307.4,266.9 307.6,266.9 307.8,266.9 308.1,266.9 308.3,266.9 308.5,267.2 308.7,268.0 308.9,269.3 309.1,270.9 309.4,272.7 309.6,274.7 309.8,276.7 310.0,278.7 310.2,280.5 310.4,282.1 310.7,283.3 310.9,284.1 311.1,284.5 311.3,285.0 311.5,285.3 311.7,285.7 312.0,285.9 312.2,286.2 312.4,286.4 312.6,286.5 312.8,286.6 313.0,286.7 313.2,286.8 313.5,286.9 313.7,287.0 313.9,287.1 314.1,287.2 314.3,287.3 314.5,287.4 314.8,287.5 315.0,287.6 315.2,287.6 315.4,287.7 315.6,287.8 315.8,287.8 316.1,287.9 316.3,288.0 316.5,288.0 316.7,288.1 316.9,288.1 317.1,288.2 317.4,288.2 317.6,288.3 317.8,288.3 318.0,288.4 318.2,288.4 318.4,288.5 318.6,288.5 318.9,288.5 319.1,288.6 319.3,288.6 319.5,288.7 319.7,288.7 319.9,288.7 320.2,288.8 320.4,288.8 320.6,288.9 320.8,288.9 321.0,288.9 321.2,289.0 321.5,289.0 321.7,289.1 321.9,289.1 322.1,289.1 322.3,289.2 322.5,289.2 322.8,289.2 323.0,289.3 323.2,289.3 323.4,289.4 323.6,289.4 323.8,289.4 324.0,289.4 324.3,289.5 324.5,289.5 324.7,289.5 324.9,289.6 325.1,289.6 325.3,289.6 325.6,289.7 326.6,289.8 327.7,289.9 328.8,289.9 329.9,289.9 331.0,289.9 332.0,289.9 333.1,289.8 334.2,289.7 335.3,289.6 336.4,289.5 337.4,289.3 338.5,289.2 339.6,289.0 340.7,288.8 341.8,288.4 342.8,288.1 343.9,287.7 345.0,287.3 346.1,286.9 347.2,286.5 348.2,286.1 349.3,285.6 350.4,285.2 351.5,284.7 352.6,284.2 353.6,283.7 354.7,283.3 355.8,282.8 356.9,282.4 358.0,282.0 359.0,281.6 360.1,281.2 361.2,280.8 362.3,280.5 363.4,280.1 364.4,279.7 365.5,279.4 366.6,279.1 367.7,278.7 368.8,278.4 369.8,278.1 370.9,277.8 372.0,277.5 373.1,277.2 374.2,277.0 375.2,276.7 376.3,276.4 377.4,276.2 378.5,275.9 379.6,275.7 380.6,275.5 381.7,275.2 382.8,275.0 383.9,274.8 385.0,274.6 386.0,274.4 387.1,274.2 388.2,274.0 389.3,273.8 390.4,273.6 391.4,273.4 392.5,273.2 393.6,273.0 394.7,272.8 395.8,272.6 396.8,272.4 397.9,272.2 399.0,272.0" fill="none" stroke="#6CEEA8" stroke-width="1.1" stroke-linejoin="round"/>
<polyline points="269.4,269.4 270.5,269.3 271.6,269.2 272.6,269.1 273.7,269.0 274.8,268.9 275.9,268.8 277.0,268.7 278.0,268.6 279.1,268.5 280.2,268.4 281.3,268.3 282.4,268.2 283.4,268.1 284.5,268.0 285.6,268.0 286.7,267.9 287.8,267.8 288.8,267.8 289.9,267.7 291.0,267.6 292.1,267.6 293.2,267.5 294.2,267.4 295.3,267.4 296.4,267.3 297.5,267.2 298.6,267.2 299.6,267.1 300.7,267.1 301.8,267.0 302.9,267.0 304.0,267.0 305.0,266.9 306.1,266.9 307.2,266.9 307.4,266.9 307.6,266.9 307.8,266.9 308.1,266.9 308.3,266.9 308.5,267.4 308.7,268.7 308.9,270.7 309.1,273.2 309.4,276.1 309.6,279.2 309.8,282.4 310.0,285.5 310.2,288.4 310.4,290.8 310.7,292.7 310.9,293.9 311.1,294.6 311.3,295.2 311.5,295.8 311.7,296.3 312.0,296.7 312.2,297.1 312.4,297.3 312.6,297.5 312.8,297.7 313.0,297.8 313.2,298.0 313.5,298.1 313.7,298.2 313.9,298.4 314.1,298.5 314.3,298.6 314.5,298.7 314.8,298.8 315.0,299.0 315.2,299.1 315.4,299.2 315.6,299.2 315.8,299.3 316.1,299.4 316.3,299.5 316.5,299.6 316.7,299.6 316.9,299.7 317.1,299.8 317.4,299.8 317.6,299.9 317.8,299.9 318.0,299.9 318.2,300.0 318.4,300.0 318.6,300.0 318.9,300.0 319.1,300.0 319.3,300.1 319.5,300.1 319.7,300.1 319.9,300.1 320.2,300.1 320.4,300.1 320.6,300.2 320.8,300.2 321.0,300.2 321.2,300.2 321.5,300.2 321.7,300.2 321.9,300.3 322.1,300.3 322.3,300.3 322.5,300.3 322.8,300.3 323.0,300.3 323.2,300.3 323.4,300.3 323.6,300.4 323.8,300.4 324.0,300.4 324.3,300.4 324.5,300.4 324.7,300.4 324.9,300.4 325.1,300.4 325.3,300.4 325.6,300.4 326.6,300.5 327.7,300.5 328.8,300.4 329.9,300.4 331.0,300.2 332.0,300.1 333.1,299.9 334.2,299.7 335.3,299.5 336.4,299.2 337.4,299.0 338.5,298.8 339.6,298.5 340.7,298.2 341.8,297.8 342.8,297.4 343.9,297.0 345.0,296.6 346.1,296.2 347.2,295.8 348.2,295.4 349.3,295.0 350.4,294.6 351.5,294.1 352.6,293.7 353.6,293.3 354.7,292.8 355.8,292.4 356.9,291.9 358.0,291.4 359.0,290.9 360.1,290.4 361.2,289.8 362.3,289.3 363.4,288.7 364.4,288.2 365.5,287.6 366.6,287.1 367.7,286.5 368.8,286.0 369.8,285.5 370.9,285.0 372.0,284.5 373.1,284.1 374.2,283.6 375.2,283.1 376.3,282.6 377.4,282.2 378.5,281.7 379.6,281.3 380.6,280.8 381.7,280.4 382.8,279.9 383.9,279.5 385.0,279.1 386.0,278.6 387.1,278.2 388.2,277.8 389.3,277.3 390.4,276.9 391.4,276.5 392.5,276.1 393.6,275.6 394.7,275.2 395.8,274.8 396.8,274.4 397.9,273.9 399.0,273.5" fill="none" stroke="#ABEE6C" stroke-width="1.1" stroke-linejoin="round"/>
<polyline points="269.4,269.4 270.5,269.3 271.6,269.2 272.6,269.1 273.7,269.0 274.8,268.9 275.9,268.8 277.0,268.7 278.0,268.6 279.1,268.5 280.2,268.4 281.3,268.3 282.4,268.2 283.4,268.1 284.5,268.0 285.6,268.0 286.7,267.9 287.8,267.8 288.8,267.8 289.9,267.7 291.0,267.6 292.1,267.6 293.2,267.5 294.2,267.4 295.3,267.4 296.4,267.3 297.5,267.2 298.6,267.2 299.6,267.1 300.7,267.1 301.8,267.0 302.9,267.0 304.0,267.0 305.0,266.9 306.1,266.9 307.2,266.9 307.4,266.9 307.6,266.9 307.8,266.9 308.1,266.9 308.3,266.9 308.5,267.2 308.7,268.0 308.9,269.3 309.1,270.9 309.4,272.7 309.6,274.7 309.8,276.7 310.0,278.7 310.2,280.5 310.4,282.1 310.7,283.3 310.9,284.1 311.1,284.5 311.3,285.0 311.5,285.4 311.7,285.8 312.0,286.2 312.2,286.5 312.4,286.8 312.6,287.1 312.8,287.3 313.0,287.5 313.2,287.6 313.5,287.7 313.7,287.8 313.9,287.9 314.1,288.0 314.3,288.0 314.5,288.1 314.8,288.2 315.0,288.2 315.2,288.3 315.4,288.4 315.6,288.4 315.8,288.5 316.1,288.5 316.3,288.6 316.5,288.7 316.7,288.7 316.9,288.8 317.1,288.8 317.4,288.9 317.6,288.9 317.8,288.9 318.0,289.0 318.2,289.0 318.4,289.1 318.6,289.1 318.9,289.1 319.1,289.2 319.3,289.2 319.5,289.2 319.7,289.3 319.9,289.3 320.2,289.3 320.4,289.3 320.6,289.4 320.8,289.4 321.0,289.4 321.2,289.4 321.5,289.5 321.7,289.5 321.9,289.5 322.1,289.5 322.3,289.6 322.5,289.6 322.8,289.6 323.0,289.6 323.2,289.6 323.4,289.7 323.6,289.7 323.8,289.7 324.0,289.7 324.3,289.7 324.5,289.8 324.7,289.8 324.9,289.8 325.1,289.8 325.3,289.8 325.6,289.9 326.6,289.9 327.7,290.0 328.8,290.1 329.9,290.1 331.0,290.2 332.0,290.2 333.1,290.1 334.2,290.1 335.3,289.9 336.4,289.8 337.4,289.6 338.5,289.4 339.6,289.2 340.7,288.9 341.8,288.7 342.8,288.4 343.9,288.0 345.0,287.5 346.1,287.1 347.2,286.6 348.2,286.2 349.3,285.8 350.4,285.4 351.5,284.9 352.6,284.5 353.6,284.1 354.7,283.6 355.8,283.2 356.9,282.8 358.0,282.4 359.0,282.0 360.1,281.6 361.2,281.2 362.3,280.9 363.4,280.5 364.4,280.1 365.5,279.8 366.6,279.4 367.7,279.0 368.8,278.7 369.8,278.4 370.9,278.0 372.0,277.7 373.1,277.4 374.2,277.1 375.2,276.8 376.3,276.5 377.4,276.3 378.5,276.0 379.6,275.8 380.6,275.6 381.7,275.3 382.8,275.1 383.9,274.9 385.0,274.7 386.0,274.5 387.1,274.3 388.2,274.1 389.3,274.0 390.4,273.8 391.4,273.6 392.5,273.4 393.6,273.2 394.7,273.0 395.8,272.9 396.8,272.7 397.9,272.5 399.0,272.3" fill="none" stroke="#DCCB57" stroke-width="1.1" stroke-linejoin="round"/>
<polyline points="269.4,270.6 270.5,270.5 271.6,270.3 272.6,270.2 273.7,270.1 274.8,269.9 275.9,269.8 277.0,269.7 278.0,269.5 279.1,269.4 280.2,269.3 281.3,269.2 282.4,269.0 283.4,268.9 284.5,268.8 285.6,268.7 286.7,268.6 287.8,268.5 288.8,268.4 289.9,268.3 291.0,268.2 292.1,268.1 293.2,267.9 294.2,267.8 295.3,267.7 296.4,267.6 297.5,267.5 298.6,267.4 299.6,267.3 300.7,267.2 301.8,267.2 302.9,267.1 304.0,267.0 305.0,267.0 306.1,266.9 307.2,266.9 307.4,266.9 307.6,266.9 307.8,266.9 308.1,266.9 308.3,266.9 308.5,267.3 308.7,268.5 308.9,270.3 309.1,272.6 309.4,275.2 309.6,278.0 309.8,280.9 310.0,283.7 310.2,286.3 310.4,288.5 310.7,290.3 310.9,291.4 311.1,292.1 311.3,292.7 311.5,293.3 311.7,293.8 312.0,294.2 312.2,294.6 312.4,294.8 312.6,295.1 312.8,295.3 313.0,295.5 313.2,295.7 313.5,295.8 313.7,296.0 313.9,296.2 314.1,296.3 314.3,296.5 314.5,296.6 314.8,296.7 315.0,296.8 315.2,296.9 315.4,297.0 315.6,297.0 315.8,297.0 316.1,297.0 316.3,297.0 316.5,297.0 316.7,297.0 316.9,297.0 317.1,297.0 317.4,297.0 317.6,297.0 317.8,297.0 318.0,297.0 318.2,297.0 318.4,297.0 318.6,297.0 318.9,297.0 319.1,297.0 319.3,297.0 319.5,297.0 319.7,297.0 319.9,297.0 320.2,297.0 320.4,296.9 320.6,296.9 320.8,296.9 321.0,296.9 321.2,296.9 321.5,296.9 321.7,296.9 321.9,296.9 322.1,296.9 322.3,296.9 322.5,296.8 322.8,296.8 323.0,296.8 323.2,296.8 323.4,296.8 323.6,296.8 323.8,296.8 324.0,296.7 324.3,296.7 324.5,296.7 324.7,296.6 324.9,296.6 325.1,296.5 325.3,296.5 325.6,296.4 326.6,296.1 327.7,295.7 328.8,295.2 329.9,294.8 331.0,294.3 332.0,293.9 333.1,293.4 334.2,292.9 335.3,292.4 336.4,291.8 337.4,291.3 338.5,290.7 339.6,290.1 340.7,289.6 341.8,289.0 342.8,288.5 343.9,287.9 345.0,287.4 346.1,286.8 347.2,286.3 348.2,285.7 349.3,285.2 350.4,284.7 351.5,284.1 352.6,283.7 353.6,283.2 354.7,282.7 355.8,282.3 356.9,281.9 358.0,281.6 359.0,281.2 360.1,280.8 361.2,280.5 362.3,280.1 363.4,279.8 364.4,279.5 365.5,279.2 366.6,278.8 367.7,278.5 368.8,278.2 369.8,277.9 370.9,277.6 372.0,277.4 373.1,277.1 374.2,276.8 375.2,276.5 376.3,276.3 377.4,276.0 378.5,275.8 379.6,275.5 380.6,275.3 381.7,275.1 382.8,274.8 383.9,274.6 385.0,274.4 386.0,274.2 387.1,274.0 388.2,273.8 389.3,273.6 390.4,273.4 391.4,273.2 392.5,273.0 393.6,272.8 394.7,272.6 395.8,272.4 396.8,272.2 397.9,272.0 399.0,271.8" fill="none" stroke="#F29A45" stroke-width="1.1" stroke-linejoin="round"/>
<polyline points="269.4,270.6 270.5,270.5 271.6,270.3 272.6,270.2 273.7,270.1 274.8,269.9 275.9,269.8 277.0,269.7 278.0,269.5 279.1,269.4 280.2,269.3 281.3,269.2 282.4,269.0 283.4,268.9 284.5,268.8 285.6,268.7 286.7,268.6 287.8,268.5 288.8,268.4 289.9,268.3 291.0,268.2 292.1,268.1 293.2,267.9 294.2,267.8 295.3,267.7 296.4,267.6 297.5,267.5 298.6,267.4 299.6,267.3 300.7,267.2 301.8,267.2 302.9,267.1 304.0,267.0 305.0,267.0 306.1,266.9 307.2,266.9 307.4,266.9 307.6,266.9 307.8,266.9 308.1,266.9 308.3,266.9 308.5,267.3 308.7,268.4 308.9,270.2 309.1,272.3 309.4,274.9 309.6,277.5 309.8,280.3 310.0,283.0 310.2,285.4 310.4,287.5 310.7,289.2 310.9,290.2 311.1,290.8 311.3,291.4 311.5,291.9 311.7,292.4 312.0,292.8 312.2,293.1 312.4,293.3 312.6,293.4 312.8,293.4 313.0,293.5 313.2,293.5 313.5,293.5 313.7,293.6 313.9,293.6 314.1,293.6 314.3,293.7 314.5,293.7 314.8,293.7 315.0,293.7 315.2,293.8 315.4,293.8 315.6,293.8 315.8,293.8 316.1,293.8 316.3,293.9 316.5,293.9 316.7,293.9 316.9,293.9 317.1,293.9 317.4,294.0 317.6,294.0 317.8,294.0 318.0,294.0 318.2,294.1 318.4,294.1 318.6,294.1 318.9,294.2 319.1,294.2 319.3,294.3 319.5,294.3 319.7,294.3 319.9,294.4 320.2,294.4 320.4,294.5 320.6,294.5 320.8,294.6 321.0,294.6 321.2,294.7 321.5,294.7 321.7,294.8 321.9,294.8 322.1,294.9 322.3,294.9 322.5,295.0 322.8,295.1 323.0,295.1 323.2,295.2 323.4,295.2 323.6,295.3 323.8,295.3 324.0,295.4 324.3,295.4 324.5,295.4 324.7,295.5 324.9,295.5 325.1,295.6 325.3,295.6 325.6,295.6 326.6,295.8 327.7,295.8 328.8,295.8 329.9,295.8 331.0,295.7 332.0,295.6 333.1,295.5 334.2,295.4 335.3,295.2 336.4,295.1 337.4,294.9 338.5,294.6 339.6,294.3 340.7,294.0 341.8,293.6 342.8,293.1 343.9,292.7 345.0,292.2 346.1,291.8 347.2,291.4 348.2,291.0 349.3,290.6 350.4,290.1 351.5,289.7 352.6,289.2 353.6,288.8 354.7,288.3 355.8,287.9 356.9,287.4 358.0,287.0 359.0,286.6 360.1,286.2 361.2,285.8 362.3,285.4 363.4,285.0 364.4,284.6 365.5,284.2 366.6,283.8 367.7,283.4 368.8,283.0 369.8,282.6 370.9,282.2 372.0,281.8 373.1,281.4 374.2,281.1 375.2,280.7 376.3,280.3 377.4,280.0 378.5,279.6 379.6,279.2 380.6,278.9 381.7,278.5 382.8,278.2 383.9,277.8 385.0,277.5 386.0,277.1 387.1,276.8 388.2,276.4 389.3,276.1 390.4,275.8 391.4,275.4 392.5,275.1 393.6,274.7 394.7,274.4 395.8,274.1 396.8,273.7 397.9,273.4 399.0,273.0" fill="none" stroke="#DF4B2D" stroke-width="1.1" stroke-linejoin="round"/>
<polyline points="269.4,271.8 270.5,271.6 271.6,271.5 272.6,271.3 273.7,271.2 274.8,271.0 275.9,270.8 277.0,270.7 278.0,270.5 279.1,270.3 280.2,270.2 281.3,270.0 282.4,269.9 283.4,269.7 284.5,269.6 285.6,269.4 286.7,269.3 287.8,269.1 288.8,269.0 289.9,268.8 291.0,268.7 292.1,268.6 293.2,268.4 294.2,268.2 295.3,268.1 296.4,267.9 297.5,267.8 298.6,267.6 299.6,267.5 300.7,267.4 301.8,267.3 302.9,267.2 304.0,267.1 305.0,267.0 306.1,266.9 307.2,266.9 307.4,266.9 307.6,266.9 307.8,266.9 308.1,266.9 308.3,266.9 308.5,267.1 308.7,267.7 308.9,268.5 309.1,269.5 309.4,270.5 309.6,271.5 309.8,272.4 310.0,273.0 310.2,273.5 310.4,274.0 310.7,274.4 310.9,274.9 311.1,275.3 311.3,275.6 311.5,276.0 311.7,276.3 312.0,276.5 312.2,276.6 312.4,276.7 312.6,276.8 312.8,276.9 313.0,276.9 313.2,277.0 313.5,277.1 313.7,277.1 313.9,277.2 314.1,277.2 314.3,277.3 314.5,277.4 314.8,277.4 315.0,277.4 315.2,277.5 315.4,277.5 315.6,277.6 315.8,277.6 316.1,277.6 316.3,277.7 316.5,277.7 316.7,277.7 316.9,277.8 317.1,277.8 317.4,277.8 317.6,277.8 317.8,277.9 318.0,277.9 318.2,277.9 318.4,277.9 318.6,277.9 318.9,278.0 319.1,278.0 319.3,278.0 319.5,278.0 319.7,278.0 319.9,278.1 320.2,278.1 320.4,278.1 320.6,278.1 320.8,278.1 321.0,278.1 321.2,278.2 321.5,278.2 321.7,278.2 321.9,278.2 322.1,278.2 322.3,278.2 322.5,278.3 322.8,278.3 323.0,278.3 323.2,278.3 323.4,278.3 323.6,278.3 323.8,278.4 324.0,278.4 324.3,278.4 324.5,278.4 324.7,278.4 324.9,278.4 325.1,278.5 325.3,278.5 325.6,278.5 326.6,278.6 327.7,278.6 328.8,278.7 329.9,278.7 331.0,278.8 332.0,278.8 333.1,278.9 334.2,278.9 335.3,278.9 336.4,278.9 337.4,278.9 338.5,278.9 339.6,278.9 340.7,278.8 341.8,278.8 342.8,278.7 343.9,278.7 345.0,278.6 346.1,278.5 347.2,278.5 348.2,278.4 349.3,278.3 350.4,278.2 351.5,278.2 352.6,278.1 353.6,278.0 354.7,277.9 355.8,277.9 356.9,277.8 358.0,277.7 359.0,277.7 360.1,277.6 361.2,277.5 362.3,277.5 363.4,277.4 364.4,277.3 365.5,277.2 366.6,277.2 367.7,277.1 368.8,277.0 369.8,276.9 370.9,276.8 372.0,276.7 373.1,276.6 374.2,276.5 375.2,276.4 376.3,276.3 377.4,276.2 378.5,276.1 379.6,276.0 380.6,275.9 381.7,275.7 382.8,275.6 383.9,275.4 385.0,275.3 386.0,275.1 387.1,274.9 388.2,274.8 389.3,274.6 390.4,274.4 391.4,274.2 392.5,274.1 393.6,273.9 394.7,273.7 395.8,273.5 396.8,273.4 397.9,273.2 399.0,273.0" fill="none" stroke="#9B3030" stroke-width="1.1" stroke-linejoin="round"/>
</g>
<path d="M399.00,242.40V340.40" stroke="#b4b4b4" stroke-width="1.7" fill="none"/>
<path d="M269.40,340.40V242.40H399.00M269.40,340.40H399.00" stroke="#5a5a5a" stroke-width="0.95" fill="none"/>
<text x="269.40" y="349.70" font-size="6.2" fill="#333" stroke="#333" stroke-width="0.05" text-anchor="middle" font-weight="normal" font-family='"Liberation Sans", sans-serif' >0</text>
<text x="291.00" y="349.70" font-size="6.2" fill="#333" stroke="#333" stroke-width="0.05" text-anchor="middle" font-weight="normal" font-family='"Liberation Sans", sans-serif' >500</text>
<text x="312.60" y="349.70" font-size="6.2" fill="#333" stroke="#333" stroke-width="0.05" text-anchor="middle" font-weight="normal" font-family='"Liberation Sans", sans-serif' >1000</text>
<text x="334.20" y="349.70" font-size="6.2" fill="#333" stroke="#333" stroke-width="0.05" text-anchor="middle" font-weight="normal" font-family='"Liberation Sans", sans-serif' >1500</text>
<text x="355.80" y="349.70" font-size="6.2" fill="#333" stroke="#333" stroke-width="0.05" text-anchor="middle" font-weight="normal" font-family='"Liberation Sans", sans-serif' >2000</text>
<text x="377.40" y="349.70" font-size="6.2" fill="#333" stroke="#333" stroke-width="0.05" text-anchor="middle" font-weight="normal" font-family='"Liberation Sans", sans-serif' >2500</text>
<text x="399.00" y="349.70" font-size="6.2" fill="#333" stroke="#333" stroke-width="0.05" text-anchor="middle" font-weight="normal" font-family='"Liberation Sans", sans-serif' >3000</text>
<path d="M269.40,340.40v1.4M269.40,242.40v-1.4M291.00,340.40v1.4M291.00,242.40v-1.4M312.60,340.40v1.4M312.60,242.40v-1.4M334.20,340.40v1.4M334.20,242.40v-1.4M355.80,340.40v1.4M355.80,242.40v-1.4M377.40,340.40v1.4M377.40,242.40v-1.4M399.00,340.40v1.4M399.00,242.40v-1.4M269.40,340.40h-1.4M399.00,340.40h1.4M269.40,328.15h-1.4M399.00,328.15h1.4M269.40,315.90h-1.4M399.00,315.90h1.4M269.40,303.65h-1.4M399.00,303.65h1.4M269.40,291.40h-1.4M399.00,291.40h1.4M269.40,279.15h-1.4M399.00,279.15h1.4M269.40,266.90h-1.4M399.00,266.90h1.4M269.40,254.65h-1.4M399.00,254.65h1.4M269.40,242.40h-1.4M399.00,242.40h1.4" stroke="#5a5a5a" stroke-width="0.8" fill="none"/>
<text x="266.80" y="244.60" font-size="6.2" fill="#333" stroke="#333" stroke-width="0.05" text-anchor="end" font-weight="normal" font-family='"Liberation Sans", sans-serif' >1.1</text>
<text x="266.80" y="269.10" font-size="6.2" fill="#333" stroke="#333" stroke-width="0.05" text-anchor="end" font-weight="normal" font-family='"Liberation Sans", sans-serif' >1</text>
<text x="266.80" y="293.60" font-size="6.2" fill="#333" stroke="#333" stroke-width="0.05" text-anchor="end" font-weight="normal" font-family='"Liberation Sans", sans-serif' >0.9</text>
<text x="266.80" y="318.10" font-size="6.2" fill="#333" stroke="#333" stroke-width="0.05" text-anchor="end" font-weight="normal" font-family='"Liberation Sans", sans-serif' >0.8</text>
<text x="266.80" y="342.60" font-size="6.2" fill="#333" stroke="#333" stroke-width="0.05" text-anchor="end" font-weight="normal" font-family='"Liberation Sans", sans-serif' >0.7</text>
<text x="334.20" y="358.30" font-size="7.0" fill="#1a1a1a" stroke="#1a1a1a" stroke-width="0.12" text-anchor="middle" font-weight="bold" font-family='"Liberation Sans", sans-serif' >Time (s)</text>
<text transform="translate(255.30,291.40) rotate(-90)" font-size="7.0" font-weight="bold" fill="#1a1a1a" stroke="#1a1a1a" stroke-width="0.12" text-anchor="middle" font-family='"Liberation Sans", sans-serif'>Response</text>
<rect x="408.10" y="242.40" width="34.80" height="80.40" fill="#fff" />
<path d="M442.90,242.40V322.80M408.10,322.80H443.50" stroke="#bdbdbd" stroke-width="1.5" fill="none"/>
<path d="M408.10,322.80V242.40H442.90" stroke="#6a6a6a" stroke-width="0.9" fill="none"/>
<line x1="409.10" y1="247.50" x2="417.30" y2="247.50" stroke="#37304F" stroke-width="1.0"/>
<text x="417.80" y="250.10" font-size="7.0" fill="#1a1a1a" stroke="#1a1a1a" stroke-width="0.22" text-anchor="start" font-weight="normal" font-family='"Liberation Sans", sans-serif' >SMO#1</text>
<line x1="409.10" y1="256.50" x2="417.30" y2="256.50" stroke="#4466E0" stroke-width="1.0"/>
<text x="417.80" y="259.10" font-size="7.0" fill="#1a1a1a" stroke="#1a1a1a" stroke-width="0.22" text-anchor="start" font-weight="normal" font-family='"Liberation Sans", sans-serif' >SMO#2</text>
<line x1="409.10" y1="265.50" x2="417.30" y2="265.50" stroke="#5CC6EE" stroke-width="1.0"/>
<text x="417.80" y="268.10" font-size="7.0" fill="#1a1a1a" stroke="#1a1a1a" stroke-width="0.22" text-anchor="start" font-weight="normal" font-family='"Liberation Sans", sans-serif' >SMO#3</text>
<line x1="409.10" y1="274.50" x2="417.30" y2="274.50" stroke="#6CEEA8" stroke-width="1.0"/>
<text x="417.80" y="277.10" font-size="7.0" fill="#1a1a1a" stroke="#1a1a1a" stroke-width="0.22" text-anchor="start" font-weight="normal" font-family='"Liberation Sans", sans-serif' >SMO#4</text>
<line x1="409.10" y1="283.50" x2="417.30" y2="283.50" stroke="#ABEE6C" stroke-width="1.0"/>
<text x="417.80" y="286.10" font-size="7.0" fill="#1a1a1a" stroke="#1a1a1a" stroke-width="0.22" text-anchor="start" font-weight="normal" font-family='"Liberation Sans", sans-serif' >SMO#5</text>
<line x1="409.10" y1="291.50" x2="417.30" y2="291.50" stroke="#DCCB57" stroke-width="1.0"/>
<text x="417.80" y="294.10" font-size="7.0" fill="#1a1a1a" stroke="#1a1a1a" stroke-width="0.22" text-anchor="start" font-weight="normal" font-family='"Liberation Sans", sans-serif' >SMO#6</text>
<line x1="409.10" y1="300.50" x2="417.30" y2="300.50" stroke="#F29A45" stroke-width="1.0"/>
<text x="417.80" y="303.10" font-size="7.0" fill="#1a1a1a" stroke="#1a1a1a" stroke-width="0.22" text-anchor="start" font-weight="normal" font-family='"Liberation Sans", sans-serif' >SMO#7</text>
<line x1="409.10" y1="309.50" x2="417.30" y2="309.50" stroke="#DF4B2D" stroke-width="1.0"/>
<text x="417.80" y="312.10" font-size="7.0" fill="#1a1a1a" stroke="#1a1a1a" stroke-width="0.22" text-anchor="start" font-weight="normal" font-family='"Liberation Sans", sans-serif' >SMO#8</text>
<line x1="409.10" y1="318.50" x2="417.30" y2="318.50" stroke="#9B3030" stroke-width="1.0"/>
<text x="417.80" y="321.10" font-size="7.0" fill="#1a1a1a" stroke="#1a1a1a" stroke-width="0.22" text-anchor="start" font-weight="normal" font-family='"Liberation Sans", sans-serif' >SMO#9</text>
</g>
<g>
<clipPath id="c269372"><rect x="269.4" y="372.4" width="129.6" height="96.4"/></clipPath>
<g clip-path="url(#c269372)">
<polyline points="269.4,444.7 270.5,444.7 271.6,444.7 272.6,444.7 273.7,444.7 274.8,444.7 275.9,444.7 277.0,444.7 278.0,444.7 279.1,444.7 280.2,444.7 281.3,444.7 282.4,444.7 283.4,444.7 284.5,444.7 285.6,444.7 286.7,444.7 287.8,444.7 288.8,444.7 289.9,444.7 291.0,444.7 292.1,444.7 293.2,444.7 294.2,444.7 295.3,444.7 296.4,444.7 297.5,444.7 298.6,444.7 299.6,444.7 300.7,444.7 301.8,444.7 302.9,444.7 304.0,444.7 305.0,444.7 306.1,444.7 307.2,444.7 307.4,444.7 307.6,444.7 307.8,444.7 308.1,444.7 308.3,444.7 308.5,444.7 308.7,444.7 308.9,444.7 309.1,444.7 309.4,444.7 309.6,444.7 309.8,444.7 310.0,444.7 310.2,444.7 310.4,444.7 310.7,444.7 310.9,444.7 311.1,444.7 311.3,444.7 311.5,444.7 311.7,444.6 312.0,444.6 312.2,444.6 312.4,444.6 312.6,444.6 312.8,444.5 313.0,444.5 313.2,444.5 313.5,444.4 313.7,444.4 313.9,444.4 314.1,444.4 314.3,444.3 314.5,444.3 314.8,444.3 315.0,444.2 315.2,444.2 315.4,444.2 315.6,444.2 315.8,444.2 316.1,444.1 316.3,444.1 316.5,444.1 316.7,444.1 316.9,444.1 317.1,444.1 317.4,444.1 317.6,444.1 317.8,444.1 318.0,444.1 318.2,444.1 318.4,444.1 318.6,444.1 318.9,444.1 319.1,444.1 319.3,444.1 319.5,444.1 319.7,444.1 319.9,444.1 320.2,444.1 320.4,444.1 320.6,444.1 320.8,444.1 321.0,444.0 321.2,444.0 321.5,444.0 321.7,444.0 321.9,444.0 322.1,444.0 322.3,444.0 322.5,444.0 322.8,444.0 323.0,444.0 323.2,444.0 323.4,444.0 323.6,444.0 323.8,444.0 324.0,444.0 324.3,444.0 324.5,444.0 324.7,444.0 324.9,444.0 325.1,444.0 325.3,444.0 325.6,444.0 326.6,444.0 327.7,444.0 328.8,444.0 329.9,444.0 331.0,444.0 332.0,444.0 333.1,444.0 334.2,444.0 335.3,444.0 336.4,444.0 337.4,444.0 338.5,444.0 339.6,444.0 340.7,444.0 341.8,444.0 342.8,444.0 343.9,444.0 345.0,444.1 346.1,444.1 347.2,444.1 348.2,444.1 349.3,444.1 350.4,444.1 351.5,444.2 352.6,444.2 353.6,444.2 354.7,444.2 355.8,444.2 356.9,444.2 358.0,444.3 359.0,444.3 360.1,444.3 361.2,444.3 362.3,444.3 363.4,444.4 364.4,444.4 365.5,444.4 366.6,444.4 367.7,444.4 368.8,444.5 369.8,444.5 370.9,444.5 372.0,444.5 373.1,444.5 374.2,444.5 375.2,444.5 376.3,444.5 377.4,444.6 378.5,444.6 379.6,444.6 380.6,444.6 381.7,444.6 382.8,444.6 383.9,444.6 385.0,444.6 386.0,444.6 387.1,444.6 388.2,444.6 389.3,444.6 390.4,444.6 391.4,444.7 392.5,444.7 393.6,444.7 394.7,444.7 395.8,444.7 396.8,444.7 397.9,444.7 399.0,444.7" fill="none" stroke="#4A3A6A" stroke-width="0.85" stroke-linejoin="round"/>
<polyline points="269.4,444.7 270.5,444.7 271.6,444.7 272.6,444.7 273.7,444.7 274.8,444.7 275.9,444.7 277.0,444.7 278.0,444.7 279.1,444.7 280.2,444.7 281.3,444.7 282.4,444.7 283.4,444.7 284.5,444.7 285.6,444.7 286.7,444.7 287.8,444.7 288.8,444.7 289.9,444.7 291.0,444.7 292.1,444.7 293.2,444.7 294.2,444.7 295.3,444.7 296.4,444.7 297.5,444.7 298.6,444.7 299.6,444.7 300.7,444.7 301.8,444.7 302.9,444.7 304.0,444.7 305.0,444.7 306.1,444.7 307.2,444.7 307.4,444.7 307.6,444.7 307.8,444.7 308.1,444.7 308.3,444.7 308.5,444.7 308.7,444.7 308.9,444.7 309.1,444.7 309.4,444.7 309.6,444.7 309.8,444.7 310.0,444.7 310.2,444.7 310.4,444.7 310.7,444.7 310.9,444.7 311.1,444.7 311.3,444.7 311.5,444.7 311.7,444.7 312.0,444.7 312.2,444.7 312.4,444.8 312.6,444.8 312.8,444.8 313.0,444.8 313.2,444.8 313.5,444.8 313.7,444.8 313.9,444.9 314.1,444.9 314.3,444.9 314.5,444.9 314.8,444.9 315.0,444.9 315.2,444.9 315.4,444.9 315.6,445.0 315.8,445.0 316.1,445.0 316.3,445.0 316.5,445.0 316.7,445.0 316.9,445.0 317.1,445.0 317.4,445.0 317.6,445.0 317.8,445.0 318.0,445.0 318.2,445.0 318.4,445.0 318.6,445.0 318.9,445.0 319.1,445.0 319.3,445.0 319.5,445.0 319.7,445.0 319.9,445.0 320.2,445.0 320.4,445.0 320.6,445.0 320.8,445.0 321.0,445.0 321.2,445.0 321.5,445.1 321.7,445.1 321.9,445.1 322.1,445.1 322.3,445.1 322.5,445.1 322.8,445.1 323.0,445.1 323.2,445.1 323.4,445.1 323.6,445.1 323.8,445.1 324.0,445.1 324.3,445.1 324.5,445.1 324.7,445.1 324.9,445.1 325.1,445.1 325.3,445.1 325.6,445.1 326.6,445.1 327.7,445.1 328.8,445.1 329.9,445.1 331.0,445.1 332.0,445.1 333.1,445.1 334.2,445.1 335.3,445.1 336.4,445.1 337.4,445.1 338.5,445.1 339.6,445.1 340.7,445.1 341.8,445.1 342.8,445.1 343.9,445.1 345.0,445.1 346.1,445.1 347.2,445.1 348.2,445.1 349.3,445.0 350.4,445.0 351.5,445.0 352.6,445.0 353.6,445.0 354.7,445.0 355.8,445.0 356.9,445.0 358.0,445.0 359.0,445.0 360.1,445.0 361.2,445.0 362.3,445.0 363.4,445.0 364.4,445.0 365.5,445.0 366.6,445.0 367.7,444.9 368.8,444.9 369.8,444.9 370.9,444.9 372.0,444.9 373.1,444.9 374.2,444.9 375.2,444.9 376.3,444.9 377.4,444.9 378.5,444.9 379.6,444.9 380.6,444.9 381.7,444.9 382.8,444.9 383.9,444.9 385.0,444.9 386.0,444.9 387.1,444.9 388.2,444.9 389.3,444.9 390.4,444.9 391.4,444.9 392.5,444.8 393.6,444.8 394.7,444.8 395.8,444.8 396.8,444.8 397.9,444.8 399.0,444.8" fill="none" stroke="#6A7EEA" stroke-width="0.85" stroke-linejoin="round"/>
<polyline points="269.4,444.7 270.5,444.7 271.6,444.7 272.6,444.7 273.7,444.7 274.8,444.7 275.9,444.7 277.0,444.7 278.0,444.7 279.1,444.7 280.2,444.7 281.3,444.7 282.4,444.7 283.4,444.7 284.5,444.7 285.6,444.7 286.7,444.7 287.8,444.7 288.8,444.7 289.9,444.7 291.0,444.7 292.1,444.7 293.2,444.7 294.2,444.7 295.3,444.7 296.4,444.7 297.5,444.7 298.6,444.7 299.6,444.7 300.7,444.7 301.8,444.7 302.9,444.7 304.0,444.7 305.0,444.7 306.1,444.7 307.2,444.7 307.4,444.7 307.6,444.7 307.8,444.7 308.1,444.7 308.3,444.7 308.5,444.7 308.7,444.7 308.9,444.7 309.1,444.7 309.4,444.8 309.6,445.0 309.8,445.4 310.0,445.8 310.2,446.3 310.4,446.9 310.7,447.3 310.9,447.8 311.1,448.1 311.3,448.3 311.5,448.4 311.7,448.6 312.0,448.7 312.2,448.8 312.4,448.9 312.6,449.0 312.8,449.1 313.0,449.2 313.2,449.2 313.5,449.3 313.7,449.3 313.9,449.4 314.1,449.4 314.3,449.4 314.5,449.4 314.8,449.3 315.0,449.3 315.2,449.2 315.4,449.1 315.6,448.9 315.8,448.8 316.1,448.7 316.3,448.5 316.5,448.3 316.7,448.2 316.9,448.0 317.1,447.9 317.4,447.7 317.6,447.6 317.8,447.4 318.0,447.2 318.2,447.0 318.4,446.9 318.6,446.7 318.9,446.5 319.1,446.3 319.3,446.1 319.5,445.9 319.7,445.7 319.9,445.5 320.2,445.3 320.4,445.2 320.6,445.0 320.8,444.9 321.0,444.8 321.2,444.7 321.5,444.6 321.7,444.5 321.9,444.5 322.1,444.4 322.3,444.3 322.5,444.3 322.8,444.2 323.0,444.1 323.2,444.1 323.4,444.0 323.6,443.9 323.8,443.9 324.0,443.8 324.3,443.8 324.5,443.7 324.7,443.7 324.9,443.6 325.1,443.6 325.3,443.5 325.6,443.5 326.6,443.3 327.7,443.2 328.8,443.1 329.9,443.1 331.0,443.0 332.0,442.9 333.1,442.9 334.2,442.8 335.3,442.8 336.4,442.7 337.4,442.7 338.5,442.7 339.6,442.6 340.7,442.6 341.8,442.6 342.8,442.6 343.9,442.6 345.0,442.6 346.1,442.6 347.2,442.6 348.2,442.7 349.3,442.7 350.4,442.7 351.5,442.7 352.6,442.8 353.6,442.8 354.7,442.9 355.8,442.9 356.9,442.9 358.0,443.0 359.0,443.1 360.1,443.1 361.2,443.2 362.3,443.3 363.4,443.4 364.4,443.5 365.5,443.6 366.6,443.7 367.7,443.7 368.8,443.8 369.8,443.9 370.9,443.9 372.0,444.0 373.1,444.0 374.2,444.1 375.2,444.1 376.3,444.2 377.4,444.2 378.5,444.3 379.6,444.3 380.6,444.4 381.7,444.4 382.8,444.4 383.9,444.4 385.0,444.5 386.0,444.5 387.1,444.5 388.2,444.5 389.3,444.5 390.4,444.6 391.4,444.6 392.5,444.6 393.6,444.6 394.7,444.6 395.8,444.6 396.8,444.7 397.9,444.7 399.0,444.7" fill="none" stroke="#58B0F0" stroke-width="0.85" stroke-linejoin="round"/>
<polyline points="269.4,444.7 270.5,444.7 271.6,444.7 272.6,444.7 273.7,444.7 274.8,444.7 275.9,444.7 277.0,444.7 278.0,444.7 279.1,444.7 280.2,444.7 281.3,444.7 282.4,444.7 283.4,444.7 284.5,444.7 285.6,444.7 286.7,444.7 287.8,444.7 288.8,444.7 289.9,444.7 291.0,444.7 292.1,444.7 293.2,444.7 294.2,444.7 295.3,444.7 296.4,444.7 297.5,444.7 298.6,444.7 299.6,444.7 300.7,444.7 301.8,444.7 302.9,444.7 304.0,444.7 305.0,444.7 306.1,444.7 307.2,444.7 307.4,444.7 307.6,444.7 307.8,444.7 308.1,444.7 308.3,444.7 308.5,444.7 308.7,444.7 308.9,444.7 309.1,444.7 309.4,444.7 309.6,444.7 309.8,444.7 310.0,444.7 310.2,444.7 310.4,444.7 310.7,444.7 310.9,444.7 311.1,444.7 311.3,444.7 311.5,444.7 311.7,444.6 312.0,444.6 312.2,444.6 312.4,444.6 312.6,444.5 312.8,444.5 313.0,444.5 313.2,444.4 313.5,444.4 313.7,444.4 313.9,444.3 314.1,444.3 314.3,444.2 314.5,444.2 314.8,444.2 315.0,444.1 315.2,444.1 315.4,444.0 315.6,444.0 315.8,444.0 316.1,443.9 316.3,443.9 316.5,443.8 316.7,443.8 316.9,443.8 317.1,443.7 317.4,443.7 317.6,443.7 317.8,443.6 318.0,443.6 318.2,443.6 318.4,443.5 318.6,443.5 318.9,443.5 319.1,443.5 319.3,443.5 319.5,443.5 319.7,443.5 319.9,443.4 320.2,443.4 320.4,443.4 320.6,443.4 320.8,443.4 321.0,443.4 321.2,443.4 321.5,443.4 321.7,443.3 321.9,443.3 322.1,443.3 322.3,443.3 322.5,443.3 322.8,443.3 323.0,443.3 323.2,443.3 323.4,443.2 323.6,443.2 323.8,443.2 324.0,443.2 324.3,443.2 324.5,443.2 324.7,443.2 324.9,443.2 325.1,443.1 325.3,443.1 325.6,443.1 326.6,443.1 327.7,443.0 328.8,443.0 329.9,443.0 331.0,442.9 332.0,442.9 333.1,442.9 334.2,442.9 335.3,442.9 336.4,442.9 337.4,442.9 338.5,442.9 339.6,442.9 340.7,442.9 341.8,443.0 342.8,443.0 343.9,443.0 345.0,443.0 346.1,443.1 347.2,443.1 348.2,443.1 349.3,443.1 350.4,443.2 351.5,443.2 352.6,443.2 353.6,443.3 354.7,443.3 355.8,443.4 356.9,443.4 358.0,443.5 359.0,443.6 360.1,443.6 361.2,443.7 362.3,443.8 363.4,443.8 364.4,443.9 365.5,444.0 366.6,444.0 367.7,444.1 368.8,444.1 369.8,444.1 370.9,444.2 372.0,444.2 373.1,444.2 374.2,444.3 375.2,444.3 376.3,444.3 377.4,444.3 378.5,444.4 379.6,444.4 380.6,444.4 381.7,444.4 382.8,444.5 383.9,444.5 385.0,444.5 386.0,444.5 387.1,444.5 388.2,444.6 389.3,444.6 390.4,444.6 391.4,444.6 392.5,444.6 393.6,444.6 394.7,444.6 395.8,444.7 396.8,444.7 397.9,444.7 399.0,444.7" fill="none" stroke="#58E0C0" stroke-width="0.85" stroke-linejoin="round"/>
<polyline points="269.4,444.7 270.5,444.7 271.6,444.7 272.6,444.7 273.7,444.7 274.8,444.7 275.9,444.7 277.0,444.7 278.0,444.7 279.1,444.7 280.2,444.7 281.3,444.7 282.4,444.7 283.4,444.7 284.5,444.7 285.6,444.7 286.7,444.7 287.8,444.7 288.8,444.7 289.9,444.7 291.0,444.7 292.1,444.7 293.2,444.7 294.2,444.7 295.3,444.7 296.4,444.7 297.5,444.7 298.6,444.7 299.6,444.7 300.7,444.7 301.8,444.7 302.9,444.7 304.0,444.7 305.0,444.7 306.1,444.7 307.2,444.7 307.4,444.7 307.6,444.7 307.8,444.7 308.1,444.7 308.3,444.7 308.5,444.7 308.7,444.7 308.9,444.7 309.1,444.7 309.4,444.7 309.6,444.7 309.8,444.7 310.0,444.7 310.2,444.7 310.4,444.7 310.7,444.7 310.9,444.7 311.1,444.7 311.3,444.6 311.5,444.6 311.7,444.6 312.0,444.5 312.2,444.5 312.4,444.5 312.6,444.4 312.8,444.4 313.0,444.3 313.2,444.3 313.5,444.2 313.7,444.1 313.9,444.1 314.1,444.0 314.3,444.0 314.5,443.9 314.8,443.9 315.0,443.8 315.2,443.8 315.4,443.7 315.6,443.7 315.8,443.6 316.1,443.6 316.3,443.6 316.5,443.5 316.7,443.5 316.9,443.5 317.1,443.5 317.4,443.5 317.6,443.5 317.8,443.4 318.0,443.4 318.2,443.4 318.4,443.4 318.6,443.4 318.9,443.4 319.1,443.4 319.3,443.4 319.5,443.3 319.7,443.3 319.9,443.3 320.2,443.3 320.4,443.3 320.6,443.3 320.8,443.3 321.0,443.3 321.2,443.3 321.5,443.2 321.7,443.2 321.9,443.2 322.1,443.2 322.3,443.2 322.5,443.2 322.8,443.2 323.0,443.2 323.2,443.2 323.4,443.2 323.6,443.1 323.8,443.1 324.0,443.1 324.3,443.1 324.5,443.1 324.7,443.1 324.9,443.1 325.1,443.1 325.3,443.1 325.6,443.1 326.6,443.0 327.7,443.0 328.8,443.0 329.9,442.9 331.0,442.9 332.0,442.9 333.1,442.9 334.2,442.9 335.3,442.9 336.4,442.9 337.4,442.9 338.5,442.9 339.6,442.9 340.7,442.9 341.8,443.0 342.8,443.0 343.9,443.0 345.0,443.0 346.1,443.1 347.2,443.1 348.2,443.1 349.3,443.1 350.4,443.2 351.5,443.2 352.6,443.2 353.6,443.3 354.7,443.3 355.8,443.4 356.9,443.4 358.0,443.5 359.0,443.6 360.1,443.6 361.2,443.7 362.3,443.8 363.4,443.8 364.4,443.9 365.5,444.0 366.6,444.0 367.7,444.1 368.8,444.1 369.8,444.1 370.9,444.2 372.0,444.2 373.1,444.2 374.2,444.3 375.2,444.3 376.3,444.3 377.4,444.3 378.5,444.4 379.6,444.4 380.6,444.4 381.7,444.4 382.8,444.5 383.9,444.5 385.0,444.5 386.0,444.5 387.1,444.5 388.2,444.6 389.3,444.6 390.4,444.6 391.4,444.6 392.5,444.6 393.6,444.6 394.7,444.6 395.8,444.7 396.8,444.7 397.9,444.7 399.0,444.7" fill="none" stroke="#88EE78" stroke-width="0.85" stroke-linejoin="round"/>
<polyline points="269.4,444.7 270.5,444.7 271.6,444.7 272.6,444.7 273.7,444.7 274.8,444.7 275.9,444.7 277.0,444.7 278.0,444.7 279.1,444.7 280.2,444.7 281.3,444.7 282.4,444.7 283.4,444.7 284.5,444.7 285.6,444.7 286.7,444.7 287.8,444.7 288.8,444.7 289.9,444.7 291.0,444.7 292.1,444.7 293.2,444.7 294.2,444.7 295.3,444.7 296.4,444.7 297.5,444.7 298.6,444.7 299.6,444.7 300.7,444.7 301.8,444.7 302.9,444.7 304.0,444.7 305.0,444.7 306.1,444.7 307.2,444.7 307.4,444.7 307.6,444.7 307.8,444.7 308.1,444.7 308.3,444.7 308.5,444.7 308.7,444.7 308.9,444.7 309.1,444.7 309.4,444.7 309.6,444.7 309.8,444.7 310.0,444.7 310.2,444.7 310.4,444.7 310.7,444.7 310.9,444.7 311.1,444.7 311.3,444.7 311.5,444.7 311.7,444.7 312.0,444.6 312.2,444.6 312.4,444.6 312.6,444.6 312.8,444.6 313.0,444.6 313.2,444.5 313.5,444.5 313.7,444.5 313.9,444.5 314.1,444.4 314.3,444.4 314.5,444.4 314.8,444.4 315.0,444.3 315.2,444.3 315.4,444.3 315.6,444.2 315.8,444.2 316.1,444.2 316.3,444.1 316.5,444.1 316.7,444.1 316.9,444.1 317.1,444.0 317.4,444.0 317.6,444.0 317.8,443.9 318.0,443.9 318.2,443.9 318.4,443.9 318.6,443.8 318.9,443.8 319.1,443.8 319.3,443.8 319.5,443.7 319.7,443.7 319.9,443.7 320.2,443.7 320.4,443.7 320.6,443.6 320.8,443.6 321.0,443.6 321.2,443.6 321.5,443.6 321.7,443.6 321.9,443.6 322.1,443.6 322.3,443.6 322.5,443.6 322.8,443.6 323.0,443.5 323.2,443.5 323.4,443.5 323.6,443.5 323.8,443.5 324.0,443.5 324.3,443.5 324.5,443.5 324.7,443.5 324.9,443.5 325.1,443.5 325.3,443.5 325.6,443.5 326.6,443.4 327.7,443.4 328.8,443.4 329.9,443.3 331.0,443.3 332.0,443.3 333.1,443.2 334.2,443.2 335.3,443.2 336.4,443.2 337.4,443.2 338.5,443.2 339.6,443.2 340.7,443.2 341.8,443.2 342.8,443.2 343.9,443.2 345.0,443.3 346.1,443.3 347.2,443.3 348.2,443.3 349.3,443.3 350.4,443.4 351.5,443.4 352.6,443.4 353.6,443.4 354.7,443.5 355.8,443.5 356.9,443.5 358.0,443.6 359.0,443.6 360.1,443.6 361.2,443.7 362.3,443.7 363.4,443.7 364.4,443.8 365.5,443.8 366.6,443.9 367.7,443.9 368.8,444.0 369.8,444.0 370.9,444.0 372.0,444.1 373.1,444.1 374.2,444.1 375.2,444.2 376.3,444.2 377.4,444.2 378.5,444.2 379.6,444.3 380.6,444.3 381.7,444.3 382.8,444.3 383.9,444.4 385.0,444.4 386.0,444.4 387.1,444.4 388.2,444.5 389.3,444.5 390.4,444.5 391.4,444.5 392.5,444.6 393.6,444.6 394.7,444.6 395.8,444.6 396.8,444.7 397.9,444.7 399.0,444.7" fill="none" stroke="#D4F080" stroke-width="0.85" stroke-linejoin="round"/>
<polyline points="269.4,444.7 270.5,444.7 271.6,444.7 272.6,444.7 273.7,444.7 274.8,444.7 275.9,444.7 277.0,444.7 278.0,444.7 279.1,444.7 280.2,444.7 281.3,444.7 282.4,444.7 283.4,444.7 284.5,444.7 285.6,444.7 286.7,444.7 287.8,444.7 288.8,444.7 289.9,444.7 291.0,444.7 292.1,444.7 293.2,444.7 294.2,444.7 295.3,444.7 296.4,444.7 297.5,444.7 298.6,444.7 299.6,444.7 300.7,444.7 301.8,444.7 302.9,444.7 304.0,444.7 305.0,444.7 306.1,444.7 307.2,444.7 307.4,444.7 307.6,444.7 307.8,444.7 308.1,444.7 308.3,444.7 308.5,444.7 308.7,444.7 308.9,444.7 309.1,444.7 309.4,444.7 309.6,444.7 309.8,444.7 310.0,444.7 310.2,444.7 310.4,444.7 310.7,444.7 310.9,444.7 311.1,444.7 311.3,444.7 311.5,444.7 311.7,444.7 312.0,444.7 312.2,444.7 312.4,444.6 312.6,444.6 312.8,444.6 313.0,444.6 313.2,444.6 313.5,444.6 313.7,444.6 313.9,444.6 314.1,444.5 314.3,444.5 314.5,444.5 314.8,444.5 315.0,444.5 315.2,444.4 315.4,444.4 315.6,444.4 315.8,444.4 316.1,444.4 316.3,444.4 316.5,444.3 316.7,444.3 316.9,444.3 317.1,444.3 317.4,444.3 317.6,444.2 317.8,444.2 318.0,444.2 318.2,444.2 318.4,444.2 318.6,444.1 318.9,444.1 319.1,444.1 319.3,444.1 319.5,444.1 319.7,444.1 319.9,444.0 320.2,444.0 320.4,444.0 320.6,444.0 320.8,444.0 321.0,444.0 321.2,444.0 321.5,444.0 321.7,444.0 321.9,444.0 322.1,443.9 322.3,443.9 322.5,443.9 322.8,443.9 323.0,443.9 323.2,443.9 323.4,443.9 323.6,443.9 323.8,443.9 324.0,443.9 324.3,443.9 324.5,443.8 324.7,443.8 324.9,443.8 325.1,443.8 325.3,443.8 325.6,443.8 326.6,443.8 327.7,443.7 328.8,443.7 329.9,443.7 331.0,443.6 332.0,443.6 333.1,443.6 334.2,443.5 335.3,443.5 336.4,443.5 337.4,443.5 338.5,443.5 339.6,443.5 340.7,443.5 341.8,443.5 342.8,443.5 343.9,443.5 345.0,443.5 346.1,443.5 347.2,443.5 348.2,443.5 349.3,443.5 350.4,443.6 351.5,443.6 352.6,443.6 353.6,443.6 354.7,443.6 355.8,443.6 356.9,443.6 358.0,443.6 359.0,443.7 360.1,443.7 361.2,443.7 362.3,443.8 363.4,443.8 364.4,443.8 365.5,443.9 366.6,443.9 367.7,443.9 368.8,444.0 369.8,444.0 370.9,444.0 372.0,444.1 373.1,444.1 374.2,444.1 375.2,444.2 376.3,444.2 377.4,444.2 378.5,444.2 379.6,444.3 380.6,444.3 381.7,444.3 382.8,444.3 383.9,444.4 385.0,444.4 386.0,444.4 387.1,444.4 388.2,444.5 389.3,444.5 390.4,444.5 391.4,444.5 392.5,444.6 393.6,444.6 394.7,444.6 395.8,444.6 396.8,444.7 397.9,444.7 399.0,444.7" fill="none" stroke="#F0C058" stroke-width="0.85" stroke-linejoin="round"/>
<polyline points="269.4,444.7 270.5,444.7 271.6,444.7 272.6,444.7 273.7,444.7 274.8,444.7 275.9,444.7 277.0,444.7 278.0,444.7 279.1,444.7 280.2,444.7 281.3,444.7 282.4,444.7 283.4,444.7 284.5,444.7 285.6,444.7 286.7,444.7 287.8,444.7 288.8,444.7 289.9,444.7 291.0,444.7 292.1,444.7 293.2,444.7 294.2,444.7 295.3,444.7 296.4,444.7 297.5,444.7 298.6,444.7 299.6,444.7 300.7,444.7 301.8,444.7 302.9,444.7 304.0,444.7 305.0,444.7 306.1,444.7 307.2,444.7 307.4,444.7 307.6,444.7 307.8,444.7 308.1,444.7 308.3,444.7 308.5,444.7 308.7,444.7 308.9,444.7 309.1,444.7 309.4,444.7 309.6,444.7 309.8,444.7 310.0,444.7 310.2,444.7 310.4,444.7 310.7,444.7 310.9,444.7 311.1,444.7 311.3,444.7 311.5,444.7 311.7,444.7 312.0,444.7 312.2,444.6 312.4,444.6 312.6,444.6 312.8,444.6 313.0,444.6 313.2,444.6 313.5,444.6 313.7,444.5 313.9,444.5 314.1,444.5 314.3,444.5 314.5,444.5 314.8,444.4 315.0,444.4 315.2,444.4 315.4,444.4 315.6,444.3 315.8,444.3 316.1,444.3 316.3,444.3 316.5,444.2 316.7,444.2 316.9,444.2 317.1,444.2 317.4,444.1 317.6,444.1 317.8,444.1 318.0,444.1 318.2,444.0 318.4,444.0 318.6,444.0 318.9,444.0 319.1,444.0 319.3,443.9 319.5,443.9 319.7,443.9 319.9,443.9 320.2,443.9 320.4,443.8 320.6,443.8 320.8,443.8 321.0,443.8 321.2,443.8 321.5,443.8 321.7,443.8 321.9,443.8 322.1,443.8 322.3,443.7 322.5,443.7 322.8,443.7 323.0,443.7 323.2,443.7 323.4,443.7 323.6,443.7 323.8,443.7 324.0,443.7 324.3,443.6 324.5,443.6 324.7,443.6 324.9,443.6 325.1,443.6 325.3,443.6 325.6,443.6 326.6,443.5 327.7,443.5 328.8,443.4 329.9,443.4 331.0,443.3 332.0,443.3 333.1,443.3 334.2,443.2 335.3,443.2 336.4,443.2 337.4,443.2 338.5,443.2 339.6,443.2 340.7,443.2 341.8,443.2 342.8,443.2 343.9,443.2 345.0,443.2 346.1,443.2 347.2,443.2 348.2,443.3 349.3,443.3 350.4,443.3 351.5,443.3 352.6,443.3 353.6,443.3 354.7,443.4 355.8,443.4 356.9,443.4 358.0,443.4 359.0,443.4 360.1,443.5 361.2,443.5 362.3,443.6 363.4,443.6 364.4,443.6 365.5,443.7 366.6,443.7 367.7,443.8 368.8,443.8 369.8,443.9 370.9,443.9 372.0,443.9 373.1,444.0 374.2,444.0 375.2,444.0 376.3,444.1 377.4,444.1 378.5,444.1 379.6,444.2 380.6,444.2 381.7,444.2 382.8,444.3 383.9,444.3 385.0,444.3 386.0,444.3 387.1,444.4 388.2,444.4 389.3,444.4 390.4,444.5 391.4,444.5 392.5,444.5 393.6,444.5 394.7,444.6 395.8,444.6 396.8,444.6 397.9,444.7 399.0,444.7" fill="none" stroke="#E87C40" stroke-width="0.85" stroke-linejoin="round"/>
<polyline points="269.4,444.7 270.5,444.7 271.6,444.7 272.6,444.7 273.7,444.7 274.8,444.7 275.9,444.7 277.0,444.7 278.0,444.7 279.1,444.7 280.2,444.7 281.3,444.7 282.4,444.7 283.4,444.7 284.5,444.7 285.6,444.7 286.7,444.7 287.8,444.7 288.8,444.7 289.9,444.7 291.0,444.7 292.1,444.7 293.2,444.7 294.2,444.7 295.3,444.7 296.4,444.7 297.5,444.7 298.6,444.7 299.6,444.7 300.7,444.7 301.8,444.7 302.9,444.7 304.0,444.7 305.0,444.7 306.1,444.7 307.2,444.7 307.4,444.7 307.6,444.7 307.8,444.7 308.1,444.7 308.3,444.7 308.5,444.7 308.7,444.7 308.9,444.7 309.1,444.7 309.4,444.7 309.6,444.7 309.8,444.7 310.0,444.7 310.2,444.7 310.4,444.6 310.7,444.6 310.9,444.6 311.1,444.5 311.3,444.5 311.5,444.4 311.7,444.3 312.0,444.3 312.2,444.2 312.4,444.2 312.6,444.1 312.8,444.0 313.0,443.9 313.2,443.9 313.5,443.8 313.7,443.6 313.9,443.5 314.1,443.4 314.3,443.3 314.5,443.2 314.8,443.0 315.0,442.9 315.2,442.7 315.4,442.6 315.6,442.5 315.8,442.3 316.1,442.2 316.3,442.1 316.5,441.9 316.7,441.8 316.9,441.7 317.1,441.6 317.4,441.5 317.6,441.3 317.8,441.2 318.0,441.1 318.2,441.0 318.4,440.9 318.6,440.7 318.9,440.6 319.1,440.5 319.3,440.4 319.5,440.3 319.7,440.2 319.9,440.1 320.2,440.0 320.4,439.9 320.6,439.8 320.8,439.7 321.0,439.6 321.2,439.6 321.5,439.5 321.7,439.4 321.9,439.4 322.1,439.3 322.3,439.2 322.5,439.2 322.8,439.1 323.0,439.1 323.2,439.0 323.4,439.0 323.6,439.0 323.8,439.0 324.0,439.0 324.3,439.0 324.5,439.0 324.7,439.0 324.9,439.1 325.1,439.1 325.3,439.2 325.6,439.2 326.6,439.5 327.7,439.8 328.8,439.9 329.9,440.1 331.0,440.2 332.0,440.4 333.1,440.5 334.2,440.6 335.3,440.7 336.4,440.8 337.4,440.9 338.5,441.0 339.6,441.1 340.7,441.2 341.8,441.3 342.8,441.4 343.9,441.5 345.0,441.6 346.1,441.7 347.2,441.8 348.2,441.9 349.3,442.1 350.4,442.2 351.5,442.3 352.6,442.4 353.6,442.5 354.7,442.6 355.8,442.7 356.9,442.8 358.0,442.8 359.0,442.9 360.1,443.0 361.2,443.1 362.3,443.2 363.4,443.3 364.4,443.4 365.5,443.5 366.6,443.6 367.7,443.7 368.8,443.7 369.8,443.8 370.9,443.9 372.0,443.9 373.1,444.0 374.2,444.0 375.2,444.1 376.3,444.1 377.4,444.1 378.5,444.1 379.6,444.2 380.6,444.2 381.7,444.2 382.8,444.2 383.9,444.2 385.0,444.2 386.0,444.3 387.1,444.3 388.2,444.3 389.3,444.3 390.4,444.3 391.4,444.3 392.5,444.3 393.6,444.3 394.7,444.3 395.8,444.4 396.8,444.4 397.9,444.4 399.0,444.4" fill="none" stroke="#D84A34" stroke-width="0.85" stroke-linejoin="round"/>
<polyline points="269.4,444.7 270.5,444.7 271.6,444.7 272.6,444.7 273.7,444.7 274.8,444.7 275.9,444.7 277.0,444.7 278.0,444.7 279.1,444.7 280.2,444.7 281.3,444.7 282.4,444.7 283.4,444.7 284.5,444.7 285.6,444.7 286.7,444.7 287.8,444.7 288.8,444.7 289.9,444.7 291.0,444.7 292.1,444.7 293.2,444.7 294.2,444.7 295.3,444.7 296.4,444.7 297.5,444.7 298.6,444.7 299.6,444.7 300.7,444.7 301.8,444.7 302.9,444.7 304.0,444.7 305.0,444.7 306.1,444.7 307.2,444.7 307.4,444.7 307.6,444.7 307.8,444.7 308.1,444.7 308.3,444.7 308.5,444.7 308.7,444.2 308.9,442.7 309.1,440.5 309.4,437.6 309.6,434.3 309.8,430.8 310.0,427.1 310.2,423.5 310.4,420.1 310.7,417.0 310.9,414.6 311.1,412.4 311.3,410.2 311.5,407.9 311.7,405.8 312.0,403.7 312.2,401.8 312.4,400.2 312.6,398.8 312.8,397.8 313.0,397.1 313.2,396.7 313.5,396.3 313.7,396.0 313.9,395.7 314.1,395.4 314.3,395.3 314.5,395.2 314.8,395.1 315.0,395.1 315.2,395.2 315.4,395.4 315.6,395.5 315.8,395.7 316.1,396.0 316.3,396.2 316.5,396.5 316.7,396.8 316.9,397.1 317.1,397.4 317.4,397.8 317.6,398.1 317.8,398.5 318.0,399.0 318.2,399.4 318.4,399.9 318.6,400.4 318.9,400.9 319.1,401.5 319.3,402.0 319.5,402.6 319.7,403.2 319.9,403.8 320.2,404.4 320.4,405.0 320.6,405.7 320.8,406.3 321.0,406.9 321.2,407.6 321.5,408.2 321.7,408.9 321.9,409.5 322.1,410.1 322.3,410.8 322.5,411.4 322.8,412.0 323.0,412.6 323.2,413.1 323.4,413.7 323.6,414.3 323.8,414.8 324.0,415.3 324.3,415.8 324.5,416.3 324.7,416.7 324.9,417.2 325.1,417.7 325.3,418.1 325.6,418.6 326.6,420.8 327.7,422.9 328.8,424.9 329.9,426.6 331.0,428.2 332.0,429.7 333.1,431.1 334.2,432.3 335.3,433.3 336.4,434.0 337.4,434.8 338.5,435.4 339.6,436.1 340.7,436.6 341.8,437.1 342.8,437.6 343.9,437.9 345.0,438.2 346.1,438.4 347.2,438.6 348.2,438.7 349.3,438.8 350.4,438.9 351.5,438.9 352.6,438.9 353.6,438.9 354.7,438.9 355.8,439.0 356.9,439.0 358.0,439.0 359.0,439.0 360.1,439.0 361.2,439.0 362.3,439.0 363.4,439.0 364.4,439.0 365.5,439.0 366.6,439.0 367.7,439.0 368.8,439.0 369.8,439.0 370.9,439.0 372.0,439.0 373.1,439.0 374.2,439.0 375.2,439.0 376.3,439.0 377.4,439.0 378.5,439.0 379.6,439.0 380.6,439.0 381.7,439.0 382.8,439.0 383.9,439.0 385.0,439.0 386.0,439.0 387.1,439.0 388.2,439.0 389.3,439.0 390.4,439.0 391.4,439.0 392.5,439.0 393.6,439.0 394.7,439.0 395.8,439.0 396.8,439.0 397.9,439.0 399.0,439.0" fill="none" stroke="#992A2A" stroke-width="0.85" stroke-linejoin="round"/>
</g>
<path d="M399.00,372.40V468.80" stroke="#5a5a5a" stroke-width="0.95" fill="none"/>
<path d="M269.40,468.80V372.40H399.00M269.40,468.80H399.00" stroke="#5a5a5a" stroke-width="0.95" fill="none"/>
<text x="269.40" y="478.10" font-size="6.2" fill="#333" stroke="#333" stroke-width="0.05" text-anchor="middle" font-weight="normal" font-family='"Liberation Sans", sans-serif' >0</text>
<text x="291.00" y="478.10" font-size="6.2" fill="#333" stroke="#333" stroke-width="0.05" text-anchor="middle" font-weight="normal" font-family='"Liberation Sans", sans-serif' >500</text>
<text x="312.60" y="478.10" font-size="6.2" fill="#333" stroke="#333" stroke-width="0.05" text-anchor="middle" font-weight="normal" font-family='"Liberation Sans", sans-serif' >1000</text>
<text x="334.20" y="478.10" font-size="6.2" fill="#333" stroke="#333" stroke-width="0.05" text-anchor="middle" font-weight="normal" font-family='"Liberation Sans", sans-serif' >1500</text>
<text x="355.80" y="478.10" font-size="6.2" fill="#333" stroke="#333" stroke-width="0.05" text-anchor="middle" font-weight="normal" font-family='"Liberation Sans", sans-serif' >2000</text>
<text x="377.40" y="478.10" font-size="6.2" fill="#333" stroke="#333" stroke-width="0.05" text-anchor="middle" font-weight="normal" font-family='"Liberation Sans", sans-serif' >2500</text>
<text x="399.00" y="478.10" font-size="6.2" fill="#333" stroke="#333" stroke-width="0.05" text-anchor="middle" font-weight="normal" font-family='"Liberation Sans", sans-serif' >3000</text>
<path d="M269.40,468.80v1.4M269.40,372.40v-1.4M291.00,468.80v1.4M291.00,372.40v-1.4M312.60,468.80v1.4M312.60,372.40v-1.4M334.20,468.80v1.4M334.20,372.40v-1.4M355.80,468.80v1.4M355.80,372.40v-1.4M377.40,468.80v1.4M377.40,372.40v-1.4M399.00,468.80v1.4M399.00,372.40v-1.4M269.40,468.80h-1.4M399.00,468.80h1.4M269.40,456.75h-1.4M399.00,456.75h1.4M269.40,444.70h-1.4M399.00,444.70h1.4M269.40,432.65h-1.4M399.00,432.65h1.4M269.40,420.60h-1.4M399.00,420.60h1.4M269.40,408.55h-1.4M399.00,408.55h1.4M269.40,396.50h-1.4M399.00,396.50h1.4M269.40,384.45h-1.4M399.00,384.45h1.4M269.40,372.40h-1.4M399.00,372.40h1.4" stroke="#5a5a5a" stroke-width="0.8" fill="none"/>
<text x="266.80" y="374.60" font-size="6.2" fill="#333" stroke="#333" stroke-width="0.05" text-anchor="end" font-weight="normal" font-family='"Liberation Sans", sans-serif' >1.12</text>
<text x="266.80" y="398.70" font-size="6.2" fill="#333" stroke="#333" stroke-width="0.05" text-anchor="end" font-weight="normal" font-family='"Liberation Sans", sans-serif' >1.08</text>
<text x="266.80" y="422.80" font-size="6.2" fill="#333" stroke="#333" stroke-width="0.05" text-anchor="end" font-weight="normal" font-family='"Liberation Sans", sans-serif' >1.04</text>
<text x="266.80" y="446.90" font-size="6.2" fill="#333" stroke="#333" stroke-width="0.05" text-anchor="end" font-weight="normal" font-family='"Liberation Sans", sans-serif' >1</text>
<text x="266.80" y="471.00" font-size="6.2" fill="#333" stroke="#333" stroke-width="0.05" text-anchor="end" font-weight="normal" font-family='"Liberation Sans", sans-serif' >0.96</text>
<text x="334.20" y="486.70" font-size="7.0" fill="#1a1a1a" stroke="#1a1a1a" stroke-width="0.12" text-anchor="middle" font-weight="bold" font-family='"Liberation Sans", sans-serif' >Time (s)</text>
<text transform="translate(252.10,420.60) rotate(-90)" font-size="7.0" font-weight="bold" fill="#1a1a1a" stroke="#1a1a1a" stroke-width="0.12" text-anchor="middle" font-family='"Liberation Sans", sans-serif'>Response</text>
<rect x="407.90" y="372.20" width="30.50" height="88.40" fill="#fff" />
<path d="M407.90,372.20V460.60M438.40,372.20V460.60" stroke="#bdbdbd" stroke-width="1.5" fill="none"/>
<path d="M407.40,372.20H438.90M407.40,460.60H438.90" stroke="#6a6a6a" stroke-width="0.9" fill="none"/>
<line x1="409.20" y1="377.50" x2="417.10" y2="377.50" stroke="#4A3A6A" stroke-width="0.8"/>
<text x="417.90" y="380.10" font-size="7.0" fill="#1a1a1a" stroke="#1a1a1a" stroke-width="0.22" text-anchor="start" font-weight="normal" font-family='"Liberation Sans", sans-serif' >PID#1</text>
<line x1="409.20" y1="385.50" x2="417.10" y2="385.50" stroke="#6A7EEA" stroke-width="0.8"/>
<text x="417.90" y="388.10" font-size="7.0" fill="#1a1a1a" stroke="#1a1a1a" stroke-width="0.22" text-anchor="start" font-weight="normal" font-family='"Liberation Sans", sans-serif' >EC#1</text>
<line x1="409.20" y1="394.50" x2="417.10" y2="394.50" stroke="#58B0F0" stroke-width="0.8"/>
<text x="417.90" y="397.10" font-size="7.0" fill="#1a1a1a" stroke="#1a1a1a" stroke-width="0.22" text-anchor="start" font-weight="normal" font-family='"Liberation Sans", sans-serif' >EC#2</text>
<line x1="409.20" y1="403.50" x2="417.10" y2="403.50" stroke="#58E0C0" stroke-width="0.8"/>
<text x="417.90" y="406.10" font-size="7.0" fill="#1a1a1a" stroke="#1a1a1a" stroke-width="0.22" text-anchor="start" font-weight="normal" font-family='"Liberation Sans", sans-serif' >EC#3</text>
<line x1="409.20" y1="412.50" x2="417.10" y2="412.50" stroke="#88EE78" stroke-width="0.8"/>
<text x="417.90" y="415.10" font-size="7.0" fill="#1a1a1a" stroke="#1a1a1a" stroke-width="0.22" text-anchor="start" font-weight="normal" font-family='"Liberation Sans", sans-serif' >EC#4</text>
<line x1="409.20" y1="420.50" x2="417.10" y2="420.50" stroke="#D4F080" stroke-width="0.8"/>
<text x="417.90" y="423.10" font-size="7.0" fill="#1a1a1a" stroke="#1a1a1a" stroke-width="0.22" text-anchor="start" font-weight="normal" font-family='"Liberation Sans", sans-serif' >EC#5</text>
<line x1="409.20" y1="429.50" x2="417.10" y2="429.50" stroke="#F0C058" stroke-width="0.8"/>
<text x="417.90" y="432.10" font-size="7.0" fill="#1a1a1a" stroke="#1a1a1a" stroke-width="0.22" text-anchor="start" font-weight="normal" font-family='"Liberation Sans", sans-serif' >EC#6</text>
<line x1="409.20" y1="438.50" x2="417.10" y2="438.50" stroke="#E87C40" stroke-width="0.8"/>
<text x="417.90" y="441.10" font-size="7.0" fill="#1a1a1a" stroke="#1a1a1a" stroke-width="0.22" text-anchor="start" font-weight="normal" font-family='"Liberation Sans", sans-serif' >EC#7</text>
<line x1="409.20" y1="447.50" x2="417.10" y2="447.50" stroke="#D84A34" stroke-width="0.8"/>
<text x="417.90" y="450.10" font-size="7.0" fill="#1a1a1a" stroke="#1a1a1a" stroke-width="0.22" text-anchor="start" font-weight="normal" font-family='"Liberation Sans", sans-serif' >EC#8</text>
<line x1="409.20" y1="455.50" x2="417.10" y2="455.50" stroke="#992A2A" stroke-width="0.8"/>
<text x="417.90" y="458.10" font-size="7.0" fill="#1a1a1a" stroke="#1a1a1a" stroke-width="0.22" text-anchor="start" font-weight="normal" font-family='"Liberation Sans", sans-serif' >EC#9</text>
</g>
<text x="496.30" y="233.90" font-size="10.35" fill="#111" stroke="#111" stroke-width="0.22" text-anchor="start" font-weight="normal" font-family='"Liberation Sans", sans-serif' >Gas sensor response (GC)</text>
<g>
<clipPath id="c492242"><rect x="492.3" y="242.4" width="129.6" height="98.0"/></clipPath>
<g clip-path="url(#c492242)">
<polyline points="492.3,284.5 493.4,283.5 494.5,282.6 495.5,282.0 496.6,281.4 497.7,280.9 498.8,280.5 499.9,280.0 500.9,279.6 502.0,279.2 503.1,278.8 504.2,278.4 505.3,277.9 506.3,277.5 507.4,277.1 508.5,276.6 509.6,276.2 510.7,275.8 511.7,275.4 512.8,274.9 513.9,274.5 515.0,274.1 516.1,273.7 517.1,273.2 518.2,272.8 519.3,272.3 520.4,271.9 521.5,271.5 522.5,271.0 523.6,270.6 524.7,270.1 525.8,269.6 526.9,269.1 527.9,268.6 529.0,268.1 530.1,267.4 530.3,267.2 530.5,267.1 530.7,267.0 531.0,266.9 531.2,266.9 531.4,267.3 531.6,268.4 531.8,270.1 532.0,272.3 532.3,274.8 532.5,277.6 532.7,280.4 532.9,283.2 533.1,285.8 533.3,288.1 533.6,290.0 533.8,291.4 534.0,292.4 534.2,293.5 534.4,294.4 534.6,295.3 534.9,296.2 535.1,297.0 535.3,297.8 535.5,298.5 535.7,299.1 535.9,299.7 536.1,300.2 536.4,300.7 536.6,301.0 536.8,301.3 537.0,301.6 537.2,301.8 537.4,302.1 537.7,302.3 537.9,302.6 538.1,302.8 538.3,303.0 538.5,303.1 538.7,303.3 539.0,303.5 539.2,303.6 539.4,303.8 539.6,303.9 539.8,304.0 540.0,304.0 540.3,304.1 540.5,304.2 540.7,304.2 540.9,304.2 541.1,304.3 541.3,304.3 541.5,304.4 541.8,304.4 542.0,304.4 542.2,304.5 542.4,304.5 542.6,304.6 542.8,304.6 543.1,304.6 543.3,304.6 543.5,304.7 543.7,304.7 543.9,304.7 544.1,304.7 544.4,304.8 544.6,304.8 544.8,304.8 545.0,304.8 545.2,304.8 545.4,304.8 545.7,304.9 545.9,304.9 546.1,304.9 546.3,304.9 546.5,304.9 546.7,304.9 546.9,304.9 547.2,304.9 547.4,304.9 547.6,304.9 547.8,304.9 548.0,304.8 548.2,304.8 548.5,304.8 549.5,304.7 550.6,304.7 551.7,304.5 552.8,304.4 553.9,304.3 554.9,304.1 556.0,304.0 557.1,303.7 558.2,303.5 559.3,303.2 560.3,302.9 561.4,302.6 562.5,302.2 563.6,301.9 564.7,301.6 565.7,301.3 566.8,301.0 567.9,300.7 569.0,300.4 570.1,300.1 571.1,299.8 572.2,299.5 573.3,299.2 574.4,298.9 575.5,298.6 576.5,298.3 577.6,298.0 578.7,297.8 579.8,297.5 580.9,297.2 581.9,296.9 583.0,296.6 584.1,296.3 585.2,296.1 586.3,295.8 587.3,295.5 588.4,295.2 589.5,294.9 590.6,294.7 591.7,294.4 592.7,294.1 593.8,293.8 594.9,293.6 596.0,293.3 597.1,293.0 598.1,292.7 599.2,292.4 600.3,292.1 601.4,291.8 602.5,291.5 603.5,291.2 604.6,290.9 605.7,290.6 606.8,290.3 607.9,290.0 608.9,289.6 610.0,289.3 611.1,288.9 612.2,288.6 613.3,288.2 614.3,287.9 615.4,287.5 616.5,287.1 617.6,286.8 618.7,286.4 619.7,286.0 620.8,285.6 621.9,285.3" fill="none" stroke="#37304F" stroke-width="1.1" stroke-linejoin="round"/>
<polyline points="492.3,269.4 493.4,269.2 494.5,269.0 495.5,268.8 496.6,268.6 497.7,268.4 498.8,268.2 499.9,268.0 500.9,267.8 502.0,267.7 503.1,267.6 504.2,267.6 505.3,267.5 506.3,267.5 507.4,267.4 508.5,267.4 509.6,267.3 510.7,267.3 511.7,267.3 512.8,267.2 513.9,267.2 515.0,267.2 516.1,267.1 517.1,267.1 518.2,267.1 519.3,267.1 520.4,267.0 521.5,267.0 522.5,267.0 523.6,267.0 524.7,267.0 525.8,266.9 526.9,266.9 527.9,266.9 529.0,266.9 530.1,266.9 530.3,266.9 530.5,266.9 530.7,266.9 531.0,266.9 531.2,266.9 531.4,267.2 531.6,268.0 531.8,269.2 532.0,270.8 532.3,272.6 532.5,274.5 532.7,276.5 532.9,278.5 533.1,280.3 533.3,281.9 533.6,283.2 533.8,284.1 534.0,284.6 534.2,285.2 534.4,285.7 534.6,286.1 534.9,286.5 535.1,286.8 535.3,287.0 535.5,287.2 535.7,287.4 535.9,287.6 536.1,287.7 536.4,287.9 536.6,288.0 536.8,288.2 537.0,288.3 537.2,288.4 537.4,288.6 537.7,288.7 537.9,288.8 538.1,288.9 538.3,289.0 538.5,289.1 538.7,289.2 539.0,289.3 539.2,289.4 539.4,289.5 539.6,289.6 539.8,289.7 540.0,289.8 540.3,289.9 540.5,290.0 540.7,290.1 540.9,290.2 541.1,290.2 541.3,290.3 541.5,290.4 541.8,290.5 542.0,290.6 542.2,290.7 542.4,290.7 542.6,290.8 542.8,290.9 543.1,291.0 543.3,291.1 543.5,291.2 543.7,291.2 543.9,291.3 544.1,291.4 544.4,291.5 544.6,291.6 544.8,291.7 545.0,291.7 545.2,291.8 545.4,291.9 545.7,292.0 545.9,292.1 546.1,292.1 546.3,292.2 546.5,292.3 546.7,292.3 546.9,292.4 547.2,292.5 547.4,292.6 547.6,292.6 547.8,292.7 548.0,292.8 548.2,292.8 548.5,292.9 549.5,293.1 550.6,293.4 551.7,293.5 552.8,293.7 553.9,293.9 554.9,294.0 556.0,294.1 557.1,294.1 558.2,294.1 559.3,293.9 560.3,293.7 561.4,293.5 562.5,293.2 563.6,293.0 564.7,292.7 565.7,292.4 566.8,292.0 567.9,291.5 569.0,291.0 570.1,290.5 571.1,290.0 572.2,289.4 573.3,288.9 574.4,288.4 575.5,287.8 576.5,287.3 577.6,286.7 578.7,286.2 579.8,285.6 580.9,285.1 581.9,284.6 583.0,284.1 584.1,283.6 585.2,283.1 586.3,282.6 587.3,282.1 588.4,281.6 589.5,281.2 590.6,280.7 591.7,280.3 592.7,279.9 593.8,279.4 594.9,279.0 596.0,278.7 597.1,278.3 598.1,277.9 599.2,277.6 600.3,277.2 601.4,276.9 602.5,276.6 603.5,276.2 604.6,275.9 605.7,275.6 606.8,275.3 607.9,275.0 608.9,274.7 610.0,274.5 611.1,274.2 612.2,273.9 613.3,273.7 614.3,273.5 615.4,273.2 616.5,273.0 617.6,272.7 618.7,272.5 619.7,272.3 620.8,272.0 621.9,271.8" fill="none" stroke="#4466E0" stroke-width="1.1" stroke-linejoin="round"/>
<polyline points="492.3,268.6 493.4,268.5 494.5,268.3 495.5,268.1 496.6,268.0 497.7,267.8 498.8,267.6 499.9,267.5 500.9,267.4 502.0,267.3 503.1,267.3 504.2,267.3 505.3,267.2 506.3,267.2 507.4,267.2 508.5,267.2 509.6,267.2 510.7,267.2 511.7,267.2 512.8,267.2 513.9,267.2 515.0,267.2 516.1,267.1 517.1,267.1 518.2,267.1 519.3,267.1 520.4,267.1 521.5,267.0 522.5,267.0 523.6,267.0 524.7,267.0 525.8,267.0 526.9,266.9 527.9,266.9 529.0,266.9 530.1,266.9 530.3,266.9 530.5,266.9 530.7,266.9 531.0,266.9 531.2,266.9 531.4,267.4 531.6,268.6 531.8,270.5 532.0,272.9 532.3,275.6 532.5,278.5 532.7,281.3 532.9,284.1 533.1,286.5 533.3,288.9 533.6,291.6 533.8,294.2 534.0,296.5 534.2,298.3 534.4,299.3 534.6,300.3 534.9,301.2 535.1,302.1 535.3,302.9 535.5,303.7 535.7,304.5 535.9,305.2 536.1,305.9 536.4,306.5 536.6,307.1 536.8,307.6 537.0,308.1 537.2,308.6 537.4,309.0 537.7,309.3 537.9,309.7 538.1,309.9 538.3,310.2 538.5,310.5 538.7,310.8 539.0,311.0 539.2,311.3 539.4,311.6 539.6,311.8 539.8,312.1 540.0,312.3 540.3,312.6 540.5,312.8 540.7,313.0 540.9,313.2 541.1,313.4 541.3,313.6 541.5,313.8 541.8,314.0 542.0,314.1 542.2,314.3 542.4,314.4 542.6,314.5 542.8,314.6 543.1,314.7 543.3,314.8 543.5,314.8 543.7,314.9 543.9,314.9 544.1,314.9 544.4,314.9 544.6,314.9 544.8,314.9 545.0,314.9 545.2,314.9 545.4,314.9 545.7,314.8 545.9,314.8 546.1,314.8 546.3,314.8 546.5,314.8 546.7,314.7 546.9,314.7 547.2,314.7 547.4,314.6 547.6,314.6 547.8,314.5 548.0,314.5 548.2,314.5 548.5,314.4 549.5,314.2 550.6,313.9 551.7,313.6 552.8,313.1 553.9,312.5 554.9,311.9 556.0,311.2 557.1,310.5 558.2,309.8 559.3,309.0 560.3,308.2 561.4,307.3 562.5,306.4 563.6,305.5 564.7,304.5 565.7,303.7 566.8,302.7 567.9,301.8 569.0,300.9 570.1,299.9 571.1,299.0 572.2,298.1 573.3,297.2 574.4,296.3 575.5,295.5 576.5,294.7 577.6,293.9 578.7,293.1 579.8,292.4 580.9,291.6 581.9,290.9 583.0,290.2 584.1,289.5 585.2,288.8 586.3,288.1 587.3,287.4 588.4,286.7 589.5,286.0 590.6,285.4 591.7,284.8 592.7,284.2 593.8,283.6 594.9,283.0 596.0,282.5 597.1,281.9 598.1,281.4 599.2,280.9 600.3,280.4 601.4,279.9 602.5,279.4 603.5,279.0 604.6,278.5 605.7,278.1 606.8,277.6 607.9,277.2 608.9,276.8 610.0,276.4 611.1,276.0 612.2,275.6 613.3,275.2 614.3,274.8 615.4,274.4 616.5,274.1 617.6,273.7 618.7,273.4 619.7,273.0 620.8,272.7 621.9,272.3" fill="none" stroke="#5CC6EE" stroke-width="1.1" stroke-linejoin="round"/>
<polyline points="492.3,268.6 493.4,268.5 494.5,268.3 495.5,268.1 496.6,268.0 497.7,267.8 498.8,267.6 499.9,267.5 500.9,267.4 502.0,267.3 503.1,267.3 504.2,267.3 505.3,267.2 506.3,267.2 507.4,267.2 508.5,267.2 509.6,267.2 510.7,267.2 511.7,267.2 512.8,267.2 513.9,267.2 515.0,267.2 516.1,267.1 517.1,267.1 518.2,267.1 519.3,267.1 520.4,267.1 521.5,267.0 522.5,267.0 523.6,267.0 524.7,267.0 525.8,267.0 526.9,266.9 527.9,266.9 529.0,266.9 530.1,266.9 530.3,266.9 530.5,266.9 530.7,266.9 531.0,266.9 531.2,266.9 531.4,267.1 531.6,267.7 531.8,268.7 532.0,269.9 532.3,271.3 532.5,272.8 532.7,274.4 532.9,275.9 533.1,277.3 533.3,278.6 533.6,279.6 533.8,280.4 534.0,280.9 534.2,281.4 534.4,281.9 534.6,282.3 534.9,282.7 535.1,283.0 535.3,283.2 535.5,283.3 535.7,283.4 535.9,283.5 536.1,283.6 536.4,283.6 536.6,283.7 536.8,283.8 537.0,283.9 537.2,283.9 537.4,284.0 537.7,284.1 537.9,284.1 538.1,284.2 538.3,284.3 538.5,284.3 538.7,284.4 539.0,284.4 539.2,284.5 539.4,284.5 539.6,284.6 539.8,284.6 540.0,284.7 540.3,284.7 540.5,284.8 540.7,284.8 540.9,284.9 541.1,284.9 541.3,285.0 541.5,285.0 541.8,285.1 542.0,285.1 542.2,285.1 542.4,285.2 542.6,285.2 542.8,285.2 543.1,285.3 543.3,285.3 543.5,285.4 543.7,285.4 543.9,285.4 544.1,285.4 544.4,285.5 544.6,285.5 544.8,285.5 545.0,285.6 545.2,285.6 545.4,285.6 545.7,285.7 545.9,285.7 546.1,285.7 546.3,285.7 546.5,285.8 546.7,285.8 546.9,285.8 547.2,285.8 547.4,285.9 547.6,285.9 547.8,285.9 548.0,286.0 548.2,286.0 548.5,286.0 549.5,286.1 550.6,286.2 551.7,286.3 552.8,286.4 553.9,286.5 554.9,286.5 556.0,286.5 557.1,286.3 558.2,286.2 559.3,285.9 560.3,285.7 561.4,285.4 562.5,285.1 563.6,284.8 564.7,284.5 565.7,284.1 566.8,283.7 567.9,283.3 569.0,282.9 570.1,282.4 571.1,282.0 572.2,281.6 573.3,281.2 574.4,280.8 575.5,280.4 576.5,280.0 577.6,279.6 578.7,279.2 579.8,278.8 580.9,278.4 581.9,278.0 583.0,277.7 584.1,277.3 585.2,277.0 586.3,276.6 587.3,276.3 588.4,275.9 589.5,275.6 590.6,275.3 591.7,274.9 592.7,274.6 593.8,274.3 594.9,274.0 596.0,273.8 597.1,273.5 598.1,273.2 599.2,273.0 600.3,272.8 601.4,272.5 602.5,272.3 603.5,272.1 604.6,271.9 605.7,271.7 606.8,271.5 607.9,271.3 608.9,271.1 610.0,270.9 611.1,270.7 612.2,270.5 613.3,270.4 614.3,270.2 615.4,270.0 616.5,269.9 617.6,269.7 618.7,269.6 619.7,269.4 620.8,269.3 621.9,269.1" fill="none" stroke="#6CEEA8" stroke-width="1.1" stroke-linejoin="round"/>
<polyline points="492.3,269.4 493.4,269.2 494.5,269.0 495.5,268.8 496.6,268.6 497.7,268.4 498.8,268.2 499.9,268.0 500.9,267.8 502.0,267.7 503.1,267.6 504.2,267.6 505.3,267.5 506.3,267.5 507.4,267.4 508.5,267.4 509.6,267.3 510.7,267.3 511.7,267.3 512.8,267.2 513.9,267.2 515.0,267.2 516.1,267.1 517.1,267.1 518.2,267.1 519.3,267.1 520.4,267.0 521.5,267.0 522.5,267.0 523.6,267.0 524.7,267.0 525.8,266.9 526.9,266.9 527.9,266.9 529.0,266.9 530.1,266.9 530.3,266.9 530.5,266.9 530.7,266.9 531.0,266.9 531.2,266.9 531.4,267.4 531.6,268.7 531.8,270.7 532.0,273.2 532.3,276.1 532.5,279.2 532.7,282.4 532.9,285.5 533.1,288.4 533.3,290.8 533.6,292.7 533.8,293.9 534.0,294.6 534.2,295.2 534.4,295.8 534.6,296.3 534.9,296.8 535.1,297.1 535.3,297.4 535.5,297.5 535.7,297.6 535.9,297.7 536.1,297.8 536.4,297.9 536.6,298.0 536.8,298.1 537.0,298.2 537.2,298.3 537.4,298.3 537.7,298.4 537.9,298.5 538.1,298.6 538.3,298.6 538.5,298.7 538.7,298.8 539.0,298.8 539.2,298.9 539.4,298.9 539.6,299.0 539.8,299.0 540.0,299.1 540.3,299.1 540.5,299.1 540.7,299.2 540.9,299.2 541.1,299.2 541.3,299.2 541.5,299.2 541.8,299.2 542.0,299.2 542.2,299.2 542.4,299.2 542.6,299.2 542.8,299.2 543.1,299.2 543.3,299.2 543.5,299.2 543.7,299.2 543.9,299.2 544.1,299.2 544.4,299.1 544.6,299.1 544.8,299.1 545.0,299.1 545.2,299.1 545.4,299.0 545.7,299.0 545.9,299.0 546.1,299.0 546.3,298.9 546.5,298.9 546.7,298.9 546.9,298.8 547.2,298.8 547.4,298.8 547.6,298.7 547.8,298.7 548.0,298.7 548.2,298.6 548.5,298.6 549.5,298.4 550.6,298.3 551.7,298.1 552.8,297.8 553.9,297.5 554.9,297.2 556.0,296.9 557.1,296.5 558.2,296.2 559.3,295.8 560.3,295.4 561.4,295.0 562.5,294.6 563.6,294.2 564.7,293.8 565.7,293.3 566.8,292.8 567.9,292.4 569.0,291.9 570.1,291.4 571.1,290.9 572.2,290.4 573.3,289.8 574.4,289.3 575.5,288.7 576.5,288.2 577.6,287.6 578.7,287.1 579.8,286.5 580.9,286.0 581.9,285.5 583.0,285.0 584.1,284.5 585.2,284.0 586.3,283.5 587.3,283.1 588.4,282.6 589.5,282.1 590.6,281.7 591.7,281.2 592.7,280.8 593.8,280.4 594.9,280.0 596.0,279.6 597.1,279.2 598.1,278.8 599.2,278.4 600.3,278.0 601.4,277.7 602.5,277.3 603.5,277.0 604.6,276.6 605.7,276.3 606.8,276.0 607.9,275.6 608.9,275.3 610.0,275.0 611.1,274.7 612.2,274.4 613.3,274.1 614.3,273.8 615.4,273.5 616.5,273.3 617.6,273.0 618.7,272.7 619.7,272.4 620.8,272.1 621.9,271.8" fill="none" stroke="#ABEE6C" stroke-width="1.1" stroke-linejoin="round"/>
<polyline points="492.3,269.4 493.4,269.2 494.5,269.0 495.5,268.8 496.6,268.6 497.7,268.4 498.8,268.2 499.9,268.0 500.9,267.8 502.0,267.7 503.1,267.6 504.2,267.6 505.3,267.5 506.3,267.5 507.4,267.4 508.5,267.4 509.6,267.3 510.7,267.3 511.7,267.3 512.8,267.2 513.9,267.2 515.0,267.2 516.1,267.1 517.1,267.1 518.2,267.1 519.3,267.1 520.4,267.0 521.5,267.0 522.5,267.0 523.6,267.0 524.7,267.0 525.8,266.9 526.9,266.9 527.9,266.9 529.0,266.9 530.1,266.9 530.3,266.9 530.5,266.9 530.7,266.9 531.0,266.9 531.2,266.9 531.4,267.2 531.6,267.9 531.8,269.0 532.0,270.5 532.3,272.1 532.5,273.9 532.7,275.8 532.9,277.6 533.1,279.3 533.3,280.8 533.6,282.0 533.8,282.8 534.0,283.4 534.2,284.0 534.4,284.5 534.6,284.9 534.9,285.3 535.1,285.6 535.3,285.8 535.5,286.0 535.7,286.1 535.9,286.2 536.1,286.4 536.4,286.5 536.6,286.6 536.8,286.7 537.0,286.8 537.2,286.9 537.4,287.0 537.7,287.1 537.9,287.2 538.1,287.3 538.3,287.4 538.5,287.5 538.7,287.6 539.0,287.7 539.2,287.8 539.4,287.9 539.6,288.0 539.8,288.0 540.0,288.1 540.3,288.2 540.5,288.3 540.7,288.3 540.9,288.4 541.1,288.5 541.3,288.6 541.5,288.6 541.8,288.7 542.0,288.8 542.2,288.8 542.4,288.9 542.6,288.9 542.8,289.0 543.1,289.0 543.3,289.1 543.5,289.1 543.7,289.2 543.9,289.2 544.1,289.3 544.4,289.3 544.6,289.4 544.8,289.4 545.0,289.5 545.2,289.5 545.4,289.5 545.7,289.6 545.9,289.6 546.1,289.6 546.3,289.7 546.5,289.7 546.7,289.7 546.9,289.7 547.2,289.8 547.4,289.8 547.6,289.8 547.8,289.8 548.0,289.9 548.2,289.9 548.5,289.9 549.5,290.0 550.6,290.1 551.7,290.2 552.8,290.2 553.9,290.1 554.9,290.1 556.0,289.9 557.1,289.8 558.2,289.6 559.3,289.4 560.3,289.2 561.4,288.9 562.5,288.7 563.6,288.5 564.7,288.2 565.7,287.9 566.8,287.5 567.9,287.2 569.0,286.9 570.1,286.5 571.1,286.1 572.2,285.7 573.3,285.3 574.4,284.9 575.5,284.5 576.5,284.0 577.6,283.6 578.7,283.2 579.8,282.7 580.9,282.3 581.9,281.9 583.0,281.6 584.1,281.2 585.2,280.8 586.3,280.4 587.3,280.0 588.4,279.6 589.5,279.3 590.6,278.9 591.7,278.5 592.7,278.2 593.8,277.9 594.9,277.5 596.0,277.2 597.1,276.9 598.1,276.6 599.2,276.3 600.3,276.0 601.4,275.7 602.5,275.4 603.5,275.1 604.6,274.9 605.7,274.6 606.8,274.3 607.9,274.0 608.9,273.8 610.0,273.5 611.1,273.2 612.2,272.9 613.3,272.6 614.3,272.3 615.4,272.0 616.5,271.8 617.6,271.5 618.7,271.2 619.7,270.9 620.8,270.6 621.9,270.3" fill="none" stroke="#DCCB57" stroke-width="1.1" stroke-linejoin="round"/>
<polyline points="492.3,270.6 493.4,270.3 494.5,270.1 495.5,269.8 496.6,269.5 497.7,269.3 498.8,269.0 499.9,268.8 500.9,268.6 502.0,268.4 503.1,268.2 504.2,268.1 505.3,268.0 506.3,267.9 507.4,267.8 508.5,267.6 509.6,267.5 510.7,267.4 511.7,267.4 512.8,267.3 513.9,267.2 515.0,267.2 516.1,267.1 517.1,267.1 518.2,267.1 519.3,267.1 520.4,267.0 521.5,267.0 522.5,267.0 523.6,267.0 524.7,267.0 525.8,266.9 526.9,266.9 527.9,266.9 529.0,266.9 530.1,266.9 530.3,266.9 530.5,266.9 530.7,266.9 531.0,266.9 531.2,266.9 531.4,267.4 531.6,268.7 531.8,270.7 532.0,273.3 532.3,276.2 532.5,279.3 532.7,282.5 532.9,285.6 533.1,288.5 533.3,290.9 533.6,292.7 533.8,293.9 534.0,294.5 534.2,295.2 534.4,295.8 534.6,296.4 534.9,297.0 535.1,297.5 535.3,297.9 535.5,298.4 535.7,298.7 535.9,299.0 536.1,299.2 536.4,299.4 536.6,299.5 536.8,299.5 537.0,299.5 537.2,299.5 537.4,299.5 537.7,299.5 537.9,299.5 538.1,299.5 538.3,299.5 538.5,299.5 538.7,299.5 539.0,299.4 539.2,299.4 539.4,299.4 539.6,299.4 539.8,299.4 540.0,299.4 540.3,299.4 540.5,299.4 540.7,299.4 540.9,299.4 541.1,299.3 541.3,299.3 541.5,299.3 541.8,299.3 542.0,299.3 542.2,299.3 542.4,299.3 542.6,299.3 542.8,299.2 543.1,299.2 543.3,299.2 543.5,299.2 543.7,299.2 543.9,299.1 544.1,299.1 544.4,299.1 544.6,299.0 544.8,299.0 545.0,299.0 545.2,298.9 545.4,298.9 545.7,298.8 545.9,298.8 546.1,298.7 546.3,298.7 546.5,298.6 546.7,298.6 546.9,298.5 547.2,298.5 547.4,298.4 547.6,298.4 547.8,298.3 548.0,298.2 548.2,298.2 548.5,298.1 549.5,297.8 550.6,297.4 551.7,297.1 552.8,296.8 553.9,296.5 554.9,296.1 556.0,295.8 557.1,295.4 558.2,295.0 559.3,294.6 560.3,294.2 561.4,293.8 562.5,293.3 563.6,292.8 564.7,292.3 565.7,291.8 566.8,291.2 567.9,290.7 569.0,290.1 570.1,289.6 571.1,289.0 572.2,288.5 573.3,287.9 574.4,287.4 575.5,286.9 576.5,286.3 577.6,285.8 578.7,285.3 579.8,284.8 580.9,284.3 581.9,283.8 583.0,283.3 584.1,282.9 585.2,282.4 586.3,282.0 587.3,281.6 588.4,281.1 589.5,280.7 590.6,280.3 591.7,279.9 592.7,279.5 593.8,279.2 594.9,278.8 596.0,278.4 597.1,278.1 598.1,277.7 599.2,277.4 600.3,277.0 601.4,276.7 602.5,276.4 603.5,276.1 604.6,275.8 605.7,275.4 606.8,275.1 607.9,274.8 608.9,274.5 610.0,274.2 611.1,273.9 612.2,273.6 613.3,273.3 614.3,272.9 615.4,272.6 616.5,272.3 617.6,272.0 618.7,271.7 619.7,271.4 620.8,271.1 621.9,270.8" fill="none" stroke="#F29A45" stroke-width="1.1" stroke-linejoin="round"/>
<polyline points="492.3,270.6 493.4,270.3 494.5,270.1 495.5,269.8 496.6,269.5 497.7,269.3 498.8,269.0 499.9,268.8 500.9,268.6 502.0,268.4 503.1,268.2 504.2,268.1 505.3,268.0 506.3,267.9 507.4,267.8 508.5,267.6 509.6,267.5 510.7,267.4 511.7,267.4 512.8,267.3 513.9,267.2 515.0,267.2 516.1,267.1 517.1,267.1 518.2,267.1 519.3,267.1 520.4,267.0 521.5,267.0 522.5,267.0 523.6,267.0 524.7,267.0 525.8,266.9 526.9,266.9 527.9,266.9 529.0,266.9 530.1,266.9 530.3,266.9 530.5,266.9 530.7,266.9 531.0,266.9 531.2,266.9 531.4,267.3 531.6,268.5 531.8,270.2 532.0,272.4 532.3,275.0 532.5,277.7 532.7,280.5 532.9,283.1 533.1,285.6 533.3,287.7 533.6,289.2 533.8,290.2 534.0,290.7 534.2,291.2 534.4,291.6 534.6,291.9 534.9,292.1 535.1,292.1 535.3,292.2 535.5,292.2 535.7,292.2 535.9,292.2 536.1,292.2 536.4,292.2 536.6,292.3 536.8,292.3 537.0,292.3 537.2,292.3 537.4,292.3 537.7,292.3 537.9,292.3 538.1,292.3 538.3,292.4 538.5,292.4 538.7,292.4 539.0,292.4 539.2,292.4 539.4,292.4 539.6,292.4 539.8,292.4 540.0,292.4 540.3,292.4 540.5,292.4 540.7,292.4 540.9,292.5 541.1,292.5 541.3,292.5 541.5,292.5 541.8,292.5 542.0,292.5 542.2,292.5 542.4,292.5 542.6,292.5 542.8,292.5 543.1,292.6 543.3,292.6 543.5,292.6 543.7,292.6 543.9,292.6 544.1,292.6 544.4,292.6 544.6,292.7 544.8,292.7 545.0,292.7 545.2,292.7 545.4,292.8 545.7,292.8 545.9,292.8 546.1,292.9 546.3,292.9 546.5,293.0 546.7,293.0 546.9,293.0 547.2,293.1 547.4,293.1 547.6,293.2 547.8,293.2 548.0,293.3 548.2,293.3 548.5,293.3 549.5,293.6 550.6,293.8 551.7,294.0 552.8,294.2 553.9,294.3 554.9,294.3 556.0,294.3 557.1,294.2 558.2,294.0 559.3,293.8 560.3,293.5 561.4,293.2 562.5,292.9 563.6,292.6 564.7,292.3 565.7,291.9 566.8,291.5 567.9,291.0 569.0,290.5 570.1,289.9 571.1,289.4 572.2,288.9 573.3,288.5 574.4,288.0 575.5,287.5 576.5,287.0 577.6,286.5 578.7,286.0 579.8,285.5 580.9,285.0 581.9,284.5 583.0,284.1 584.1,283.6 585.2,283.1 586.3,282.7 587.3,282.2 588.4,281.8 589.5,281.4 590.6,280.9 591.7,280.5 592.7,280.1 593.8,279.7 594.9,279.3 596.0,278.9 597.1,278.5 598.1,278.2 599.2,277.8 600.3,277.4 601.4,277.1 602.5,276.8 603.5,276.4 604.6,276.1 605.7,275.7 606.8,275.4 607.9,275.1 608.9,274.7 610.0,274.4 611.1,274.1 612.2,273.7 613.3,273.4 614.3,273.1 615.4,272.8 616.5,272.4 617.6,272.1 618.7,271.8 619.7,271.5 620.8,271.1 621.9,270.8" fill="none" stroke="#DF4B2D" stroke-width="1.1" stroke-linejoin="round"/>
<polyline points="492.3,270.6 493.4,270.3 494.5,270.1 495.5,269.8 496.6,269.5 497.7,269.3 498.8,269.0 499.9,268.8 500.9,268.6 502.0,268.4 503.1,268.2 504.2,268.1 505.3,268.0 506.3,267.9 507.4,267.8 508.5,267.6 509.6,267.5 510.7,267.4 511.7,267.4 512.8,267.3 513.9,267.2 515.0,267.2 516.1,267.1 517.1,267.1 518.2,267.1 519.3,267.1 520.4,267.0 521.5,267.0 522.5,267.0 523.6,267.0 524.7,267.0 525.8,266.9 526.9,266.9 527.9,266.9 529.0,266.9 530.1,266.9 530.3,266.9 530.5,266.9 530.7,266.9 531.0,266.9 531.2,266.9 531.4,267.0 531.6,267.3 531.8,267.8 532.0,268.3 532.3,268.9 532.5,269.5 532.7,270.1 532.9,270.6 533.1,271.0 533.3,271.5 533.6,272.0 533.8,272.4 534.0,272.8 534.2,273.0 534.4,273.0 534.6,273.1 534.9,273.1 535.1,273.2 535.3,273.2 535.5,273.2 535.7,273.3 535.9,273.3 536.1,273.4 536.4,273.4 536.6,273.4 536.8,273.5 537.0,273.5 537.2,273.5 537.4,273.6 537.7,273.6 537.9,273.6 538.1,273.6 538.3,273.7 538.5,273.7 538.7,273.7 539.0,273.8 539.2,273.8 539.4,273.8 539.6,273.8 539.8,273.9 540.0,273.9 540.3,273.9 540.5,273.9 540.7,274.0 540.9,274.0 541.1,274.0 541.3,274.0 541.5,274.0 541.8,274.1 542.0,274.1 542.2,274.1 542.4,274.1 542.6,274.1 542.8,274.1 543.1,274.1 543.3,274.2 543.5,274.2 543.7,274.2 543.9,274.2 544.1,274.2 544.4,274.2 544.6,274.2 544.8,274.2 545.0,274.2 545.2,274.2 545.4,274.2 545.7,274.2 545.9,274.2 546.1,274.2 546.3,274.2 546.5,274.2 546.7,274.2 546.9,274.2 547.2,274.2 547.4,274.2 547.6,274.2 547.8,274.2 548.0,274.2 548.2,274.2 548.5,274.2 549.5,274.2 550.6,274.2 551.7,274.2 552.8,274.2 553.9,274.2 554.9,274.2 556.0,274.2 557.1,274.2 558.2,274.2 559.3,274.2 560.3,274.2 561.4,274.2 562.5,274.2 563.6,274.2 564.7,274.2 565.7,274.2 566.8,274.2 567.9,274.2 569.0,274.1 570.1,274.0 571.1,273.9 572.2,273.8 573.3,273.7 574.4,273.6 575.5,273.5 576.5,273.4 577.6,273.4 578.7,273.3 579.8,273.2 580.9,273.1 581.9,273.0 583.0,273.0 584.1,272.9 585.2,272.8 586.3,272.8 587.3,272.7 588.4,272.6 589.5,272.5 590.6,272.5 591.7,272.4 592.7,272.3 593.8,272.3 594.9,272.2 596.0,272.1 597.1,272.0 598.1,272.0 599.2,271.9 600.3,271.8 601.4,271.7 602.5,271.6 603.5,271.6 604.6,271.5 605.7,271.4 606.8,271.3 607.9,271.2 608.9,271.1 610.0,271.0 611.1,271.0 612.2,270.9 613.3,270.8 614.3,270.7 615.4,270.6 616.5,270.5 617.6,270.4 618.7,270.3 619.7,270.3 620.8,270.2 621.9,270.1" fill="none" stroke="#9B3030" stroke-width="1.1" stroke-linejoin="round"/>
</g>
<path d="M621.90,242.40V340.40" stroke="#b4b4b4" stroke-width="1.7" fill="none"/>
<path d="M492.30,340.40V242.40H621.90M492.30,340.40H621.90" stroke="#5a5a5a" stroke-width="0.95" fill="none"/>
<text x="492.30" y="349.70" font-size="6.2" fill="#333" stroke="#333" stroke-width="0.05" text-anchor="middle" font-weight="normal" font-family='"Liberation Sans", sans-serif' >0</text>
<text x="513.90" y="349.70" font-size="6.2" fill="#333" stroke="#333" stroke-width="0.05" text-anchor="middle" font-weight="normal" font-family='"Liberation Sans", sans-serif' >500</text>
<text x="535.50" y="349.70" font-size="6.2" fill="#333" stroke="#333" stroke-width="0.05" text-anchor="middle" font-weight="normal" font-family='"Liberation Sans", sans-serif' >1000</text>
<text x="557.10" y="349.70" font-size="6.2" fill="#333" stroke="#333" stroke-width="0.05" text-anchor="middle" font-weight="normal" font-family='"Liberation Sans", sans-serif' >1500</text>
<text x="578.70" y="349.70" font-size="6.2" fill="#333" stroke="#333" stroke-width="0.05" text-anchor="middle" font-weight="normal" font-family='"Liberation Sans", sans-serif' >2000</text>
<text x="600.30" y="349.70" font-size="6.2" fill="#333" stroke="#333" stroke-width="0.05" text-anchor="middle" font-weight="normal" font-family='"Liberation Sans", sans-serif' >2500</text>
<text x="621.90" y="349.70" font-size="6.2" fill="#333" stroke="#333" stroke-width="0.05" text-anchor="middle" font-weight="normal" font-family='"Liberation Sans", sans-serif' >3000</text>
<path d="M492.30,340.40v1.4M492.30,242.40v-1.4M513.90,340.40v1.4M513.90,242.40v-1.4M535.50,340.40v1.4M535.50,242.40v-1.4M557.10,340.40v1.4M557.10,242.40v-1.4M578.70,340.40v1.4M578.70,242.40v-1.4M600.30,340.40v1.4M600.30,242.40v-1.4M621.90,340.40v1.4M621.90,242.40v-1.4M492.30,340.40h-1.4M621.90,340.40h1.4M492.30,328.15h-1.4M621.90,328.15h1.4M492.30,315.90h-1.4M621.90,315.90h1.4M492.30,303.65h-1.4M621.90,303.65h1.4M492.30,291.40h-1.4M621.90,291.40h1.4M492.30,279.15h-1.4M621.90,279.15h1.4M492.30,266.90h-1.4M621.90,266.90h1.4M492.30,254.65h-1.4M621.90,254.65h1.4M492.30,242.40h-1.4M621.90,242.40h1.4" stroke="#5a5a5a" stroke-width="0.8" fill="none"/>
<text x="489.70" y="244.60" font-size="6.2" fill="#333" stroke="#333" stroke-width="0.05" text-anchor="end" font-weight="normal" font-family='"Liberation Sans", sans-serif' >1.1</text>
<text x="489.70" y="269.10" font-size="6.2" fill="#333" stroke="#333" stroke-width="0.05" text-anchor="end" font-weight="normal" font-family='"Liberation Sans", sans-serif' >1</text>
<text x="489.70" y="293.60" font-size="6.2" fill="#333" stroke="#333" stroke-width="0.05" text-anchor="end" font-weight="normal" font-family='"Liberation Sans", sans-serif' >0.9</text>
<text x="489.70" y="318.10" font-size="6.2" fill="#333" stroke="#333" stroke-width="0.05" text-anchor="end" font-weight="normal" font-family='"Liberation Sans", sans-serif' >0.8</text>
<text x="489.70" y="342.60" font-size="6.2" fill="#333" stroke="#333" stroke-width="0.05" text-anchor="end" font-weight="normal" font-family='"Liberation Sans", sans-serif' >0.7</text>
<text x="557.10" y="358.30" font-size="7.0" fill="#1a1a1a" stroke="#1a1a1a" stroke-width="0.12" text-anchor="middle" font-weight="bold" font-family='"Liberation Sans", sans-serif' >Time (s)</text>
<text transform="translate(478.20,291.40) rotate(-90)" font-size="7.0" font-weight="bold" fill="#1a1a1a" stroke="#1a1a1a" stroke-width="0.12" text-anchor="middle" font-family='"Liberation Sans", sans-serif'>Response</text>
<rect x="631.30" y="242.40" width="34.80" height="80.40" fill="#fff" />
<path d="M666.10,242.40V322.80M631.30,322.80H666.70" stroke="#bdbdbd" stroke-width="1.5" fill="none"/>
<path d="M631.30,322.80V242.40H666.10" stroke="#6a6a6a" stroke-width="0.9" fill="none"/>
<line x1="632.30" y1="247.50" x2="640.50" y2="247.50" stroke="#37304F" stroke-width="1.0"/>
<text x="641.00" y="250.10" font-size="7.0" fill="#1a1a1a" stroke="#1a1a1a" stroke-width="0.22" text-anchor="start" font-weight="normal" font-family='"Liberation Sans", sans-serif' >SMO#1</text>
<line x1="632.30" y1="256.50" x2="640.50" y2="256.50" stroke="#4466E0" stroke-width="1.0"/>
<text x="641.00" y="259.10" font-size="7.0" fill="#1a1a1a" stroke="#1a1a1a" stroke-width="0.22" text-anchor="start" font-weight="normal" font-family='"Liberation Sans", sans-serif' >SMO#2</text>
<line x1="632.30" y1="265.50" x2="640.50" y2="265.50" stroke="#5CC6EE" stroke-width="1.0"/>
<text x="641.00" y="268.10" font-size="7.0" fill="#1a1a1a" stroke="#1a1a1a" stroke-width="0.22" text-anchor="start" font-weight="normal" font-family='"Liberation Sans", sans-serif' >SMO#3</text>
<line x1="632.30" y1="274.50" x2="640.50" y2="274.50" stroke="#6CEEA8" stroke-width="1.0"/>
<text x="641.00" y="277.10" font-size="7.0" fill="#1a1a1a" stroke="#1a1a1a" stroke-width="0.22" text-anchor="start" font-weight="normal" font-family='"Liberation Sans", sans-serif' >SMO#4</text>
<line x1="632.30" y1="283.50" x2="640.50" y2="283.50" stroke="#ABEE6C" stroke-width="1.0"/>
<text x="641.00" y="286.10" font-size="7.0" fill="#1a1a1a" stroke="#1a1a1a" stroke-width="0.22" text-anchor="start" font-weight="normal" font-family='"Liberation Sans", sans-serif' >SMO#5</text>
<line x1="632.30" y1="291.50" x2="640.50" y2="291.50" stroke="#DCCB57" stroke-width="1.0"/>
<text x="641.00" y="294.10" font-size="7.0" fill="#1a1a1a" stroke="#1a1a1a" stroke-width="0.22" text-anchor="start" font-weight="normal" font-family='"Liberation Sans", sans-serif' >SMO#6</text>
<line x1="632.30" y1="300.50" x2="640.50" y2="300.50" stroke="#F29A45" stroke-width="1.0"/>
<text x="641.00" y="303.10" font-size="7.0" fill="#1a1a1a" stroke="#1a1a1a" stroke-width="0.22" text-anchor="start" font-weight="normal" font-family='"Liberation Sans", sans-serif' >SMO#7</text>
<line x1="632.30" y1="309.50" x2="640.50" y2="309.50" stroke="#DF4B2D" stroke-width="1.0"/>
<text x="641.00" y="312.10" font-size="7.0" fill="#1a1a1a" stroke="#1a1a1a" stroke-width="0.22" text-anchor="start" font-weight="normal" font-family='"Liberation Sans", sans-serif' >SMO#8</text>
<line x1="632.30" y1="318.50" x2="640.50" y2="318.50" stroke="#9B3030" stroke-width="1.0"/>
<text x="641.00" y="321.10" font-size="7.0" fill="#1a1a1a" stroke="#1a1a1a" stroke-width="0.22" text-anchor="start" font-weight="normal" font-family='"Liberation Sans", sans-serif' >SMO#9</text>
</g>
<g>
<clipPath id="c492372"><rect x="492.3" y="372.4" width="129.6" height="96.4"/></clipPath>
<g clip-path="url(#c492372)">
<polyline points="492.3,444.7 493.4,444.7 494.5,444.7 495.5,444.7 496.6,444.7 497.7,444.7 498.8,444.7 499.9,444.7 500.9,444.7 502.0,444.7 503.1,444.7 504.2,444.7 505.3,444.7 506.3,444.7 507.4,444.7 508.5,444.7 509.6,444.7 510.7,444.7 511.7,444.7 512.8,444.7 513.9,444.7 515.0,444.7 516.1,444.7 517.1,444.7 518.2,444.7 519.3,444.7 520.4,444.7 521.5,444.7 522.5,444.7 523.6,444.7 524.7,444.7 525.8,444.7 526.9,444.7 527.9,444.7 529.0,444.7 530.1,444.7 530.3,444.7 530.5,444.7 530.7,444.7 531.0,444.7 531.2,444.7 531.4,444.7 531.6,444.7 531.8,444.7 532.0,444.7 532.3,444.7 532.5,444.7 532.7,444.7 532.9,444.7 533.1,444.7 533.3,444.7 533.6,444.7 533.8,444.7 534.0,444.7 534.2,444.7 534.4,444.7 534.6,444.7 534.9,444.7 535.1,444.6 535.3,444.6 535.5,444.6 535.7,444.6 535.9,444.6 536.1,444.6 536.4,444.5 536.6,444.5 536.8,444.5 537.0,444.5 537.2,444.5 537.4,444.4 537.7,444.4 537.9,444.4 538.1,444.4 538.3,444.3 538.5,444.3 538.7,444.3 539.0,444.3 539.2,444.2 539.4,444.2 539.6,444.2 539.8,444.2 540.0,444.1 540.3,444.1 540.5,444.1 540.7,444.1 540.9,444.0 541.1,444.0 541.3,444.0 541.5,444.0 541.8,443.9 542.0,443.9 542.2,443.9 542.4,443.9 542.6,443.9 542.8,443.9 543.1,443.8 543.3,443.8 543.5,443.8 543.7,443.8 543.9,443.8 544.1,443.8 544.4,443.8 544.6,443.8 544.8,443.8 545.0,443.8 545.2,443.8 545.4,443.8 545.7,443.8 545.9,443.7 546.1,443.7 546.3,443.7 546.5,443.7 546.7,443.7 546.9,443.7 547.2,443.7 547.4,443.7 547.6,443.7 547.8,443.7 548.0,443.7 548.2,443.7 548.5,443.7 549.5,443.7 550.6,443.6 551.7,443.6 552.8,443.6 553.9,443.6 554.9,443.5 556.0,443.5 557.1,443.5 558.2,443.5 559.3,443.5 560.3,443.5 561.4,443.5 562.5,443.5 563.6,443.5 564.7,443.5 565.7,443.5 566.8,443.5 567.9,443.6 569.0,443.6 570.1,443.6 571.1,443.6 572.2,443.7 573.3,443.7 574.4,443.7 575.5,443.8 576.5,443.8 577.6,443.8 578.7,443.9 579.8,443.9 580.9,443.9 581.9,444.0 583.0,444.0 584.1,444.0 585.2,444.0 586.3,444.1 587.3,444.1 588.4,444.1 589.5,444.1 590.6,444.2 591.7,444.2 592.7,444.2 593.8,444.2 594.9,444.3 596.0,444.3 597.1,444.3 598.1,444.3 599.2,444.3 600.3,444.4 601.4,444.4 602.5,444.4 603.5,444.4 604.6,444.4 605.7,444.5 606.8,444.5 607.9,444.5 608.9,444.5 610.0,444.5 611.1,444.6 612.2,444.6 613.3,444.6 614.3,444.6 615.4,444.6 616.5,444.6 617.6,444.6 618.7,444.7 619.7,444.7 620.8,444.7 621.9,444.7" fill="none" stroke="#4A3A6A" stroke-width="0.85" stroke-linejoin="round"/>
<polyline points="492.3,444.7 493.4,444.7 494.5,444.7 495.5,444.7 496.6,444.7 497.7,444.7 498.8,444.7 499.9,444.7 500.9,444.7 502.0,444.7 503.1,444.7 504.2,444.7 505.3,444.7 506.3,444.7 507.4,444.7 508.5,444.7 509.6,444.7 510.7,444.7 511.7,444.7 512.8,444.7 513.9,444.7 515.0,444.7 516.1,444.7 517.1,444.7 518.2,444.7 519.3,444.7 520.4,444.7 521.5,444.7 522.5,444.7 523.6,444.7 524.7,444.7 525.8,444.7 526.9,444.7 527.9,444.7 529.0,444.7 530.1,444.7 530.3,444.7 530.5,444.7 530.7,444.7 531.0,444.7 531.2,444.7 531.4,444.7 531.6,444.7 531.8,444.7 532.0,444.7 532.3,444.7 532.5,444.7 532.7,444.7 532.9,444.7 533.1,444.7 533.3,444.7 533.6,444.7 533.8,444.7 534.0,444.7 534.2,444.7 534.4,444.7 534.6,444.8 534.9,444.8 535.1,444.8 535.3,444.8 535.5,444.9 535.7,444.9 535.9,444.9 536.1,444.9 536.4,445.0 536.6,445.0 536.8,445.0 537.0,445.1 537.2,445.1 537.4,445.1 537.7,445.1 537.9,445.2 538.1,445.2 538.3,445.2 538.5,445.2 538.7,445.3 539.0,445.3 539.2,445.3 539.4,445.3 539.6,445.3 539.8,445.3 540.0,445.3 540.3,445.3 540.5,445.3 540.7,445.3 540.9,445.3 541.1,445.3 541.3,445.3 541.5,445.3 541.8,445.3 542.0,445.3 542.2,445.3 542.4,445.3 542.6,445.3 542.8,445.3 543.1,445.3 543.3,445.3 543.5,445.3 543.7,445.3 543.9,445.3 544.1,445.3 544.4,445.3 544.6,445.3 544.8,445.3 545.0,445.3 545.2,445.3 545.4,445.3 545.7,445.3 545.9,445.3 546.1,445.3 546.3,445.3 546.5,445.3 546.7,445.3 546.9,445.3 547.2,445.3 547.4,445.3 547.6,445.3 547.8,445.3 548.0,445.3 548.2,445.3 548.5,445.3 549.5,445.3 550.6,445.3 551.7,445.3 552.8,445.3 553.9,445.3 554.9,445.3 556.0,445.3 557.1,445.3 558.2,445.3 559.3,445.3 560.3,445.2 561.4,445.2 562.5,445.1 563.6,445.1 564.7,445.0 565.7,445.0 566.8,445.0 567.9,445.0 569.0,445.0 570.1,445.0 571.1,445.0 572.2,444.9 573.3,444.9 574.4,444.9 575.5,444.9 576.5,444.9 577.6,444.9 578.7,444.9 579.8,444.9 580.9,444.9 581.9,444.9 583.0,444.9 584.1,444.9 585.2,444.9 586.3,444.9 587.3,444.9 588.4,444.8 589.5,444.8 590.6,444.8 591.7,444.8 592.7,444.8 593.8,444.8 594.9,444.8 596.0,444.8 597.1,444.8 598.1,444.8 599.2,444.8 600.3,444.8 601.4,444.8 602.5,444.8 603.5,444.8 604.6,444.8 605.7,444.8 606.8,444.8 607.9,444.8 608.9,444.8 610.0,444.8 611.1,444.8 612.2,444.7 613.3,444.7 614.3,444.7 615.4,444.7 616.5,444.7 617.6,444.7 618.7,444.7 619.7,444.7 620.8,444.7 621.9,444.7" fill="none" stroke="#6A7EEA" stroke-width="0.85" stroke-linejoin="round"/>
<polyline points="492.3,444.7 493.4,444.7 494.5,444.7 495.5,444.7 496.6,444.7 497.7,444.7 498.8,444.7 499.9,444.7 500.9,444.7 502.0,444.7 503.1,444.7 504.2,444.7 505.3,444.7 506.3,444.7 507.4,444.7 508.5,444.7 509.6,444.7 510.7,444.7 511.7,444.7 512.8,444.7 513.9,444.7 515.0,444.7 516.1,444.7 517.1,444.7 518.2,444.7 519.3,444.7 520.4,444.7 521.5,444.7 522.5,444.7 523.6,444.7 524.7,444.7 525.8,444.7 526.9,444.7 527.9,444.7 529.0,444.7 530.1,444.7 530.3,444.7 530.5,444.7 530.7,444.7 531.0,444.7 531.2,444.7 531.4,444.7 531.6,444.7 531.8,444.7 532.0,444.8 532.3,445.2 532.5,445.8 532.7,446.5 532.9,447.3 533.1,448.2 533.3,449.1 533.6,450.0 533.8,450.7 534.0,451.4 534.2,451.9 534.4,452.3 534.6,452.8 534.9,453.2 535.1,453.6 535.3,454.0 535.5,454.4 535.7,454.7 535.9,455.0 536.1,455.2 536.4,455.4 536.6,455.5 536.8,455.5 537.0,455.5 537.2,455.4 537.4,455.3 537.7,455.2 537.9,455.0 538.1,454.7 538.3,454.5 538.5,454.2 538.7,454.0 539.0,453.7 539.2,453.4 539.4,453.1 539.6,452.8 539.8,452.5 540.0,452.3 540.3,452.0 540.5,451.6 540.7,451.3 540.9,450.9 541.1,450.6 541.3,450.2 541.5,449.8 541.8,449.4 542.0,449.1 542.2,448.7 542.4,448.3 542.6,448.0 542.8,447.7 543.1,447.4 543.3,447.1 543.5,446.8 543.7,446.6 543.9,446.3 544.1,446.0 544.4,445.8 544.6,445.5 544.8,445.3 545.0,445.0 545.2,444.8 545.4,444.6 545.7,444.4 545.9,444.2 546.1,444.1 546.3,443.9 546.5,443.8 546.7,443.8 546.9,443.8 547.2,443.7 547.4,443.7 547.6,443.7 547.8,443.6 548.0,443.6 548.2,443.6 548.5,443.5 549.5,443.4 550.6,443.3 551.7,443.2 552.8,443.1 553.9,443.0 554.9,442.9 556.0,442.9 557.1,442.9 558.2,442.9 559.3,442.9 560.3,442.9 561.4,442.9 562.5,443.0 563.6,443.0 564.7,443.0 565.7,443.1 566.8,443.1 567.9,443.1 569.0,443.2 570.1,443.2 571.1,443.2 572.2,443.3 573.3,443.3 574.4,443.4 575.5,443.5 576.5,443.5 577.6,443.6 578.7,443.7 579.8,443.7 580.9,443.8 581.9,443.9 583.0,443.9 584.1,444.0 585.2,444.0 586.3,444.1 587.3,444.1 588.4,444.1 589.5,444.2 590.6,444.2 591.7,444.2 592.7,444.2 593.8,444.3 594.9,444.3 596.0,444.3 597.1,444.3 598.1,444.3 599.2,444.4 600.3,444.4 601.4,444.4 602.5,444.4 603.5,444.4 604.6,444.5 605.7,444.5 606.8,444.5 607.9,444.5 608.9,444.5 610.0,444.5 611.1,444.6 612.2,444.6 613.3,444.6 614.3,444.6 615.4,444.6 616.5,444.6 617.6,444.6 618.7,444.7 619.7,444.7 620.8,444.7 621.9,444.7" fill="none" stroke="#58B0F0" stroke-width="0.85" stroke-linejoin="round"/>
<polyline points="492.3,444.7 493.4,444.7 494.5,444.7 495.5,444.7 496.6,444.7 497.7,444.7 498.8,444.7 499.9,444.7 500.9,444.7 502.0,444.7 503.1,444.7 504.2,444.7 505.3,444.7 506.3,444.7 507.4,444.7 508.5,444.7 509.6,444.7 510.7,444.7 511.7,444.7 512.8,444.7 513.9,444.7 515.0,444.7 516.1,444.7 517.1,444.7 518.2,444.7 519.3,444.7 520.4,444.7 521.5,444.7 522.5,444.7 523.6,444.7 524.7,444.7 525.8,444.7 526.9,444.7 527.9,444.7 529.0,444.7 530.1,444.7 530.3,444.7 530.5,444.7 530.7,444.7 531.0,444.7 531.2,444.7 531.4,444.7 531.6,444.7 531.8,444.7 532.0,444.7 532.3,444.7 532.5,444.7 532.7,444.7 532.9,444.7 533.1,444.7 533.3,444.7 533.6,444.7 533.8,444.7 534.0,444.7 534.2,444.7 534.4,444.6 534.6,444.6 534.9,444.6 535.1,444.6 535.3,444.5 535.5,444.5 535.7,444.5 535.9,444.4 536.1,444.4 536.4,444.3 536.6,444.3 536.8,444.2 537.0,444.2 537.2,444.1 537.4,444.1 537.7,444.0 537.9,444.0 538.1,443.9 538.3,443.9 538.5,443.8 538.7,443.8 539.0,443.7 539.2,443.7 539.4,443.6 539.6,443.6 539.8,443.5 540.0,443.5 540.3,443.4 540.5,443.4 540.7,443.3 540.9,443.3 541.1,443.3 541.3,443.3 541.5,443.2 541.8,443.2 542.0,443.2 542.2,443.2 542.4,443.2 542.6,443.2 542.8,443.1 543.1,443.1 543.3,443.1 543.5,443.1 543.7,443.1 543.9,443.1 544.1,443.1 544.4,443.0 544.6,443.0 544.8,443.0 545.0,443.0 545.2,443.0 545.4,443.0 545.7,443.0 545.9,443.0 546.1,442.9 546.3,442.9 546.5,442.9 546.7,442.9 546.9,442.9 547.2,442.9 547.4,442.9 547.6,442.9 547.8,442.9 548.0,442.8 548.2,442.8 548.5,442.8 549.5,442.8 550.6,442.7 551.7,442.7 552.8,442.7 553.9,442.6 554.9,442.6 556.0,442.6 557.1,442.6 558.2,442.6 559.3,442.6 560.3,442.6 561.4,442.7 562.5,442.7 563.6,442.7 564.7,442.8 565.7,442.8 566.8,442.9 567.9,442.9 569.0,443.0 570.1,443.0 571.1,443.1 572.2,443.1 573.3,443.1 574.4,443.2 575.5,443.2 576.5,443.3 577.6,443.3 578.7,443.4 579.8,443.4 580.9,443.5 581.9,443.5 583.0,443.6 584.1,443.6 585.2,443.7 586.3,443.7 587.3,443.8 588.4,443.8 589.5,443.9 590.6,443.9 591.7,444.0 592.7,444.0 593.8,444.1 594.9,444.1 596.0,444.1 597.1,444.2 598.1,444.2 599.2,444.3 600.3,444.3 601.4,444.3 602.5,444.4 603.5,444.4 604.6,444.4 605.7,444.4 606.8,444.5 607.9,444.5 608.9,444.5 610.0,444.5 611.1,444.6 612.2,444.6 613.3,444.6 614.3,444.6 615.4,444.6 616.5,444.6 617.6,444.6 618.7,444.7 619.7,444.7 620.8,444.7 621.9,444.7" fill="none" stroke="#58E0C0" stroke-width="0.85" stroke-linejoin="round"/>
<polyline points="492.3,444.7 493.4,444.7 494.5,444.7 495.5,444.7 496.6,444.7 497.7,444.7 498.8,444.7 499.9,444.7 500.9,444.7 502.0,444.7 503.1,444.7 504.2,444.7 505.3,444.7 506.3,444.7 507.4,444.7 508.5,444.7 509.6,444.7 510.7,444.7 511.7,444.7 512.8,444.7 513.9,444.7 515.0,444.7 516.1,444.7 517.1,444.7 518.2,444.7 519.3,444.7 520.4,444.7 521.5,444.7 522.5,444.7 523.6,444.7 524.7,444.7 525.8,444.7 526.9,444.7 527.9,444.7 529.0,444.7 530.1,444.7 530.3,444.7 530.5,444.7 530.7,444.7 531.0,444.7 531.2,444.7 531.4,444.7 531.6,444.7 531.8,444.7 532.0,444.7 532.3,444.7 532.5,444.7 532.7,444.7 532.9,444.7 533.1,444.7 533.3,444.7 533.6,444.7 533.8,444.7 534.0,444.7 534.2,444.6 534.4,444.6 534.6,444.5 534.9,444.5 535.1,444.4 535.3,444.3 535.5,444.3 535.7,444.2 535.9,444.1 536.1,444.0 536.4,444.0 536.6,443.9 536.8,443.8 537.0,443.7 537.2,443.6 537.4,443.6 537.7,443.5 537.9,443.4 538.1,443.3 538.3,443.3 538.5,443.2 538.7,443.1 539.0,443.0 539.2,442.9 539.4,442.8 539.6,442.7 539.8,442.6 540.0,442.5 540.3,442.4 540.5,442.4 540.7,442.3 540.9,442.3 541.1,442.3 541.3,442.3 541.5,442.3 541.8,442.3 542.0,442.3 542.2,442.4 542.4,442.4 542.6,442.4 542.8,442.4 543.1,442.5 543.3,442.5 543.5,442.6 543.7,442.6 543.9,442.6 544.1,442.7 544.4,442.7 544.6,442.7 544.8,442.8 545.0,442.8 545.2,442.8 545.4,442.8 545.7,442.9 545.9,442.9 546.1,442.9 546.3,442.9 546.5,442.9 546.7,442.9 546.9,442.9 547.2,442.9 547.4,442.9 547.6,442.9 547.8,442.9 548.0,442.9 548.2,442.9 548.5,442.9 549.5,442.8 550.6,442.8 551.7,442.7 552.8,442.7 553.9,442.7 554.9,442.6 556.0,442.6 557.1,442.6 558.2,442.6 559.3,442.6 560.3,442.6 561.4,442.7 562.5,442.7 563.6,442.7 564.7,442.8 565.7,442.8 566.8,442.9 567.9,442.9 569.0,443.0 570.1,443.0 571.1,443.1 572.2,443.1 573.3,443.1 574.4,443.2 575.5,443.2 576.5,443.3 577.6,443.3 578.7,443.4 579.8,443.4 580.9,443.5 581.9,443.5 583.0,443.6 584.1,443.6 585.2,443.7 586.3,443.7 587.3,443.8 588.4,443.8 589.5,443.9 590.6,443.9 591.7,444.0 592.7,444.0 593.8,444.1 594.9,444.1 596.0,444.1 597.1,444.2 598.1,444.2 599.2,444.3 600.3,444.3 601.4,444.3 602.5,444.4 603.5,444.4 604.6,444.4 605.7,444.4 606.8,444.5 607.9,444.5 608.9,444.5 610.0,444.5 611.1,444.6 612.2,444.6 613.3,444.6 614.3,444.6 615.4,444.6 616.5,444.6 617.6,444.6 618.7,444.7 619.7,444.7 620.8,444.7 621.9,444.7" fill="none" stroke="#88EE78" stroke-width="0.85" stroke-linejoin="round"/>
<polyline points="492.3,444.7 493.4,444.7 494.5,444.7 495.5,444.7 496.6,444.7 497.7,444.7 498.8,444.7 499.9,444.7 500.9,444.7 502.0,444.7 503.1,444.7 504.2,444.7 505.3,444.7 506.3,444.7 507.4,444.7 508.5,444.7 509.6,444.7 510.7,444.7 511.7,444.7 512.8,444.7 513.9,444.7 515.0,444.7 516.1,444.7 517.1,444.7 518.2,444.7 519.3,444.7 520.4,444.7 521.5,444.7 522.5,444.7 523.6,444.7 524.7,444.7 525.8,444.7 526.9,444.7 527.9,444.7 529.0,444.7 530.1,444.7 530.3,444.7 530.5,444.7 530.7,444.7 531.0,444.7 531.2,444.7 531.4,444.7 531.6,444.7 531.8,444.7 532.0,444.7 532.3,444.7 532.5,444.7 532.7,444.7 532.9,444.7 533.1,444.7 533.3,444.7 533.6,444.7 533.8,444.7 534.0,444.6 534.2,444.6 534.4,444.6 534.6,444.5 534.9,444.5 535.1,444.4 535.3,444.3 535.5,444.2 535.7,444.1 535.9,444.1 536.1,444.0 536.4,443.9 536.6,443.8 536.8,443.7 537.0,443.6 537.2,443.5 537.4,443.4 537.7,443.4 537.9,443.3 538.1,443.2 538.3,443.1 538.5,443.1 538.7,443.0 539.0,443.0 539.2,442.9 539.4,442.9 539.6,442.9 539.8,442.9 540.0,442.9 540.3,442.9 540.5,442.9 540.7,442.9 540.9,442.9 541.1,442.9 541.3,442.9 541.5,442.9 541.8,443.0 542.0,443.0 542.2,443.0 542.4,443.0 542.6,443.0 542.8,443.0 543.1,443.0 543.3,443.1 543.5,443.1 543.7,443.1 543.9,443.1 544.1,443.1 544.4,443.1 544.6,443.1 544.8,443.2 545.0,443.2 545.2,443.2 545.4,443.2 545.7,443.2 545.9,443.2 546.1,443.2 546.3,443.2 546.5,443.2 546.7,443.2 546.9,443.2 547.2,443.2 547.4,443.2 547.6,443.2 547.8,443.2 548.0,443.2 548.2,443.2 548.5,443.2 549.5,443.2 550.6,443.1 551.7,443.1 552.8,443.1 553.9,443.0 554.9,443.0 556.0,443.0 557.1,443.0 558.2,442.9 559.3,442.9 560.3,442.9 561.4,442.9 562.5,442.9 563.6,442.9 564.7,442.9 565.7,443.0 566.8,443.0 567.9,443.0 569.0,443.1 570.1,443.1 571.1,443.2 572.2,443.2 573.3,443.3 574.4,443.3 575.5,443.4 576.5,443.4 577.6,443.5 578.7,443.5 579.8,443.5 580.9,443.6 581.9,443.6 583.0,443.6 584.1,443.7 585.2,443.7 586.3,443.8 587.3,443.8 588.4,443.8 589.5,443.9 590.6,443.9 591.7,444.0 592.7,444.0 593.8,444.0 594.9,444.1 596.0,444.1 597.1,444.1 598.1,444.2 599.2,444.2 600.3,444.2 601.4,444.3 602.5,444.3 603.5,444.3 604.6,444.4 605.7,444.4 606.8,444.4 607.9,444.5 608.9,444.5 610.0,444.5 611.1,444.5 612.2,444.6 613.3,444.6 614.3,444.6 615.4,444.6 616.5,444.6 617.6,444.6 618.7,444.7 619.7,444.7 620.8,444.7 621.9,444.7" fill="none" stroke="#D4F080" stroke-width="0.85" stroke-linejoin="round"/>
<polyline points="492.3,444.7 493.4,444.7 494.5,444.7 495.5,444.7 496.6,444.7 497.7,444.7 498.8,444.7 499.9,444.7 500.9,444.7 502.0,444.7 503.1,444.7 504.2,444.7 505.3,444.7 506.3,444.7 507.4,444.7 508.5,444.7 509.6,444.7 510.7,444.7 511.7,444.7 512.8,444.7 513.9,444.7 515.0,444.7 516.1,444.7 517.1,444.7 518.2,444.7 519.3,444.7 520.4,444.7 521.5,444.7 522.5,444.7 523.6,444.7 524.7,444.7 525.8,444.7 526.9,444.7 527.9,444.7 529.0,444.7 530.1,444.7 530.3,444.7 530.5,444.7 530.7,444.7 531.0,444.7 531.2,444.7 531.4,444.7 531.6,444.7 531.8,444.7 532.0,444.7 532.3,444.7 532.5,444.7 532.7,444.7 532.9,444.7 533.1,444.7 533.3,444.7 533.6,444.7 533.8,444.7 534.0,444.7 534.2,444.7 534.4,444.7 534.6,444.7 534.9,444.7 535.1,444.7 535.3,444.6 535.5,444.6 535.7,444.6 535.9,444.6 536.1,444.6 536.4,444.6 536.6,444.5 536.8,444.5 537.0,444.5 537.2,444.5 537.4,444.5 537.7,444.4 537.9,444.4 538.1,444.4 538.3,444.4 538.5,444.4 538.7,444.3 539.0,444.3 539.2,444.3 539.4,444.3 539.6,444.2 539.8,444.2 540.0,444.2 540.3,444.2 540.5,444.1 540.7,444.1 540.9,444.1 541.1,444.1 541.3,444.0 541.5,444.0 541.8,444.0 542.0,444.0 542.2,444.0 542.4,443.9 542.6,443.9 542.8,443.9 543.1,443.9 543.3,443.9 543.5,443.8 543.7,443.8 543.9,443.8 544.1,443.8 544.4,443.8 544.6,443.8 544.8,443.8 545.0,443.7 545.2,443.7 545.4,443.7 545.7,443.7 545.9,443.7 546.1,443.7 546.3,443.7 546.5,443.6 546.7,443.6 546.9,443.6 547.2,443.6 547.4,443.6 547.6,443.6 547.8,443.5 548.0,443.5 548.2,443.5 548.5,443.5 549.5,443.4 550.6,443.3 551.7,443.3 552.8,443.2 553.9,443.1 554.9,443.1 556.0,443.0 557.1,443.0 558.2,442.9 559.3,442.9 560.3,442.9 561.4,442.9 562.5,442.9 563.6,442.9 564.7,442.9 565.7,442.9 566.8,443.0 567.9,443.0 569.0,443.0 570.1,443.1 571.1,443.1 572.2,443.1 573.3,443.2 574.4,443.2 575.5,443.3 576.5,443.3 577.6,443.3 578.7,443.4 579.8,443.4 580.9,443.4 581.9,443.5 583.0,443.5 584.1,443.6 585.2,443.6 586.3,443.6 587.3,443.7 588.4,443.7 589.5,443.7 590.6,443.8 591.7,443.8 592.7,443.9 593.8,443.9 594.9,443.9 596.0,444.0 597.1,444.0 598.1,444.0 599.2,444.1 600.3,444.1 601.4,444.2 602.5,444.2 603.5,444.2 604.6,444.3 605.7,444.3 606.8,444.3 607.9,444.4 608.9,444.4 610.0,444.4 611.1,444.5 612.2,444.5 613.3,444.5 614.3,444.5 615.4,444.6 616.5,444.6 617.6,444.6 618.7,444.6 619.7,444.7 620.8,444.7 621.9,444.7" fill="none" stroke="#F0C058" stroke-width="0.85" stroke-linejoin="round"/>
<polyline points="492.3,444.7 493.4,444.7 494.5,444.7 495.5,444.7 496.6,444.7 497.7,444.7 498.8,444.7 499.9,444.7 500.9,444.7 502.0,444.7 503.1,444.7 504.2,444.7 505.3,444.7 506.3,444.7 507.4,444.7 508.5,444.7 509.6,444.7 510.7,444.7 511.7,444.7 512.8,444.7 513.9,444.7 515.0,444.7 516.1,444.7 517.1,444.7 518.2,444.7 519.3,444.7 520.4,444.7 521.5,444.7 522.5,444.7 523.6,444.7 524.7,444.7 525.8,444.7 526.9,444.7 527.9,444.7 529.0,444.7 530.1,444.7 530.3,444.7 530.5,444.7 530.7,444.7 531.0,444.7 531.2,444.7 531.4,444.7 531.6,444.7 531.8,444.7 532.0,444.7 532.3,444.7 532.5,444.7 532.7,444.7 532.9,444.7 533.1,444.7 533.3,444.7 533.6,444.7 533.8,444.7 534.0,444.7 534.2,444.7 534.4,444.7 534.6,444.7 534.9,444.7 535.1,444.6 535.3,444.6 535.5,444.6 535.7,444.6 535.9,444.6 536.1,444.6 536.4,444.5 536.6,444.5 536.8,444.5 537.0,444.5 537.2,444.5 537.4,444.4 537.7,444.4 537.9,444.4 538.1,444.3 538.3,444.3 538.5,444.3 538.7,444.3 539.0,444.2 539.2,444.2 539.4,444.2 539.6,444.1 539.8,444.1 540.0,444.1 540.3,444.0 540.5,444.0 540.7,444.0 540.9,443.9 541.1,443.9 541.3,443.9 541.5,443.8 541.8,443.8 542.0,443.7 542.2,443.7 542.4,443.7 542.6,443.6 542.8,443.6 543.1,443.6 543.3,443.5 543.5,443.5 543.7,443.5 543.9,443.4 544.1,443.4 544.4,443.4 544.6,443.3 544.8,443.3 545.0,443.3 545.2,443.2 545.4,443.2 545.7,443.2 545.9,443.2 546.1,443.1 546.3,443.1 546.5,443.1 546.7,443.0 546.9,443.0 547.2,443.0 547.4,443.0 547.6,443.0 547.8,442.9 548.0,442.9 548.2,442.9 548.5,442.9 549.5,442.8 550.6,442.7 551.7,442.7 552.8,442.6 553.9,442.5 554.9,442.5 556.0,442.4 557.1,442.4 558.2,442.3 559.3,442.3 560.3,442.3 561.4,442.3 562.5,442.3 563.6,442.3 564.7,442.3 565.7,442.4 566.8,442.4 567.9,442.4 569.0,442.5 570.1,442.5 571.1,442.6 572.2,442.6 573.3,442.7 574.4,442.7 575.5,442.8 576.5,442.8 577.6,442.8 578.7,442.9 579.8,442.9 580.9,443.0 581.9,443.0 583.0,443.1 584.1,443.1 585.2,443.2 586.3,443.2 587.3,443.2 588.4,443.3 589.5,443.3 590.6,443.4 591.7,443.4 592.7,443.5 593.8,443.5 594.9,443.6 596.0,443.6 597.1,443.7 598.1,443.7 599.2,443.8 600.3,443.8 601.4,443.8 602.5,443.9 603.5,443.9 604.6,444.0 605.7,444.0 606.8,444.1 607.9,444.1 608.9,444.2 610.0,444.2 611.1,444.2 612.2,444.3 613.3,444.3 614.3,444.4 615.4,444.4 616.5,444.5 617.6,444.5 618.7,444.6 619.7,444.6 620.8,444.7 621.9,444.7" fill="none" stroke="#E87C40" stroke-width="0.85" stroke-linejoin="round"/>
<polyline points="492.3,444.7 493.4,444.7 494.5,444.7 495.5,444.7 496.6,444.7 497.7,444.7 498.8,444.7 499.9,444.7 500.9,444.7 502.0,444.7 503.1,444.7 504.2,444.7 505.3,444.7 506.3,444.7 507.4,444.7 508.5,444.7 509.6,444.7 510.7,444.7 511.7,444.7 512.8,444.7 513.9,444.7 515.0,444.7 516.1,444.7 517.1,444.7 518.2,444.7 519.3,444.7 520.4,444.7 521.5,444.7 522.5,444.7 523.6,444.7 524.7,444.7 525.8,444.7 526.9,444.7 527.9,444.7 529.0,444.7 530.1,444.7 530.3,444.7 530.5,444.7 530.7,444.7 531.0,444.7 531.2,444.7 531.4,444.7 531.6,444.7 531.8,444.7 532.0,444.7 532.3,444.7 532.5,444.7 532.7,444.7 532.9,444.7 533.1,444.7 533.3,444.7 533.6,444.7 533.8,444.7 534.0,444.7 534.2,444.6 534.4,444.6 534.6,444.5 534.9,444.4 535.1,444.3 535.3,444.1 535.5,444.0 535.7,443.8 535.9,443.7 536.1,443.5 536.4,443.3 536.6,443.1 536.8,443.0 537.0,442.8 537.2,442.6 537.4,442.4 537.7,442.3 537.9,442.1 538.1,441.9 538.3,441.7 538.5,441.5 538.7,441.3 539.0,441.1 539.2,440.8 539.4,440.6 539.6,440.4 539.8,440.2 540.0,440.0 540.3,439.8 540.5,439.6 540.7,439.5 540.9,439.4 541.1,439.3 541.3,439.3 541.5,439.4 541.8,439.7 542.0,440.3 542.2,441.0 542.4,441.7 542.6,442.4 542.8,442.9 543.1,443.3 543.3,443.5 543.5,443.5 543.7,443.4 543.9,443.3 544.1,443.2 544.4,443.0 544.6,442.8 544.8,442.7 545.0,442.5 545.2,442.4 545.4,442.3 545.7,442.2 545.9,442.1 546.1,442.0 546.3,441.9 546.5,441.9 546.7,441.8 546.9,441.7 547.2,441.6 547.4,441.5 547.6,441.4 547.8,441.4 548.0,441.3 548.2,441.2 548.5,441.1 549.5,440.9 550.6,440.8 551.7,440.8 552.8,440.8 553.9,440.8 554.9,440.9 556.0,440.9 557.1,440.9 558.2,441.0 559.3,441.1 560.3,441.1 561.4,441.2 562.5,441.2 563.6,441.3 564.7,441.3 565.7,441.4 566.8,441.4 567.9,441.5 569.0,441.5 570.1,441.6 571.1,441.6 572.2,441.7 573.3,441.8 574.4,441.8 575.5,441.9 576.5,441.9 577.6,442.0 578.7,442.0 579.8,442.1 580.9,442.2 581.9,442.2 583.0,442.3 584.1,442.4 585.2,442.4 586.3,442.5 587.3,442.6 588.4,442.6 589.5,442.7 590.6,442.8 591.7,442.8 592.7,442.9 593.8,443.0 594.9,443.0 596.0,443.1 597.1,443.2 598.1,443.2 599.2,443.3 600.3,443.4 601.4,443.4 602.5,443.5 603.5,443.6 604.6,443.6 605.7,443.7 606.8,443.7 607.9,443.8 608.9,443.9 610.0,443.9 611.1,444.0 612.2,444.0 613.3,444.1 614.3,444.2 615.4,444.2 616.5,444.3 617.6,444.3 618.7,444.4 619.7,444.4 620.8,444.5 621.9,444.5" fill="none" stroke="#D84A34" stroke-width="0.85" stroke-linejoin="round"/>
<polyline points="492.3,444.7 493.4,444.7 494.5,444.7 495.5,444.7 496.6,444.7 497.7,444.7 498.8,444.7 499.9,444.7 500.9,444.7 502.0,444.7 503.1,444.7 504.2,444.7 505.3,444.7 506.3,444.7 507.4,444.7 508.5,444.7 509.6,444.7 510.7,444.7 511.7,444.7 512.8,444.7 513.9,444.7 515.0,444.7 516.1,444.7 517.1,444.7 518.2,444.7 519.3,444.7 520.4,444.7 521.5,444.7 522.5,444.7 523.6,444.7 524.7,444.7 525.8,444.7 526.9,444.7 527.9,444.7 529.0,444.7 530.1,444.7 530.3,444.7 530.5,444.7 530.7,444.7 531.0,444.7 531.2,444.7 531.4,444.7 531.6,444.7 531.8,444.7 532.0,443.9 532.3,441.8 532.5,438.6 532.7,434.6 532.9,430.3 533.1,425.8 533.3,421.5 533.6,417.6 533.8,414.6 534.0,412.0 534.2,409.4 534.4,406.8 534.6,404.2 534.9,401.9 535.1,399.7 535.3,397.7 535.5,396.1 535.7,394.9 535.9,394.1 536.1,393.5 536.4,393.1 536.6,392.6 536.8,392.3 537.0,392.0 537.2,391.9 537.4,391.8 537.7,391.8 537.9,392.0 538.1,392.2 538.3,392.4 538.5,392.8 538.7,393.1 539.0,393.5 539.2,394.0 539.4,394.4 539.6,394.9 539.8,395.3 540.0,395.8 540.3,396.3 540.5,396.8 540.7,397.4 540.9,398.1 541.1,398.8 541.3,399.5 541.5,400.2 541.8,401.0 542.0,401.7 542.2,402.5 542.4,403.3 542.6,404.1 542.8,404.9 543.1,405.7 543.3,406.5 543.5,407.3 543.7,408.1 543.9,408.8 544.1,409.6 544.4,410.3 544.6,410.9 544.8,411.6 545.0,412.2 545.2,412.7 545.4,413.3 545.7,413.9 545.9,414.4 546.1,415.0 546.3,415.6 546.5,416.1 546.7,416.7 546.9,417.2 547.2,417.8 547.4,418.3 547.6,418.8 547.8,419.4 548.0,419.9 548.2,420.4 548.5,420.9 549.5,423.5 550.6,425.9 551.7,428.2 552.8,430.3 553.9,432.3 554.9,434.1 556.0,435.8 557.1,437.4 558.2,438.9 559.3,440.2 560.3,441.3 561.4,442.4 562.5,443.4 563.6,444.3 564.7,445.0 565.7,445.3 566.8,445.4 567.9,445.6 569.0,445.7 570.1,445.7 571.1,445.8 572.2,445.9 573.3,445.9 574.4,445.9 575.5,445.9 576.5,445.9 577.6,445.9 578.7,445.9 579.8,445.8 580.9,445.8 581.9,445.8 583.0,445.7 584.1,445.7 585.2,445.7 586.3,445.6 587.3,445.6 588.4,445.6 589.5,445.5 590.6,445.5 591.7,445.5 592.7,445.5 593.8,445.4 594.9,445.4 596.0,445.4 597.1,445.3 598.1,445.3 599.2,445.3 600.3,445.2 601.4,445.2 602.5,445.2 603.5,445.2 604.6,445.1 605.7,445.1 606.8,445.1 607.9,445.0 608.9,445.0 610.0,445.0 611.1,445.0 612.2,444.9 613.3,444.9 614.3,444.9 615.4,444.9 616.5,444.8 617.6,444.8 618.7,444.8 619.7,444.8 620.8,444.7 621.9,444.7" fill="none" stroke="#992A2A" stroke-width="0.85" stroke-linejoin="round"/>
</g>
<path d="M621.90,372.40V468.80" stroke="#5a5a5a" stroke-width="0.95" fill="none"/>
<path d="M492.30,468.80V372.40H621.90M492.30,468.80H621.90" stroke="#5a5a5a" stroke-width="0.95" fill="none"/>
<text x="492.30" y="478.10" font-size="6.2" fill="#333" stroke="#333" stroke-width="0.05" text-anchor="middle" font-weight="normal" font-family='"Liberation Sans", sans-serif' >0</text>
<text x="513.90" y="478.10" font-size="6.2" fill="#333" stroke="#333" stroke-width="0.05" text-anchor="middle" font-weight="normal" font-family='"Liberation Sans", sans-serif' >500</text>
<text x="535.50" y="478.10" font-size="6.2" fill="#333" stroke="#333" stroke-width="0.05" text-anchor="middle" font-weight="normal" font-family='"Liberation Sans", sans-serif' >1000</text>
<text x="557.10" y="478.10" font-size="6.2" fill="#333" stroke="#333" stroke-width="0.05" text-anchor="middle" font-weight="normal" font-family='"Liberation Sans", sans-serif' >1500</text>
<text x="578.70" y="478.10" font-size="6.2" fill="#333" stroke="#333" stroke-width="0.05" text-anchor="middle" font-weight="normal" font-family='"Liberation Sans", sans-serif' >2000</text>
<text x="600.30" y="478.10" font-size="6.2" fill="#333" stroke="#333" stroke-width="0.05" text-anchor="middle" font-weight="normal" font-family='"Liberation Sans", sans-serif' >2500</text>
<text x="621.90" y="478.10" font-size="6.2" fill="#333" stroke="#333" stroke-width="0.05" text-anchor="middle" font-weight="normal" font-family='"Liberation Sans", sans-serif' >3000</text>
<path d="M492.30,468.80v1.4M492.30,372.40v-1.4M513.90,468.80v1.4M513.90,372.40v-1.4M535.50,468.80v1.4M535.50,372.40v-1.4M557.10,468.80v1.4M557.10,372.40v-1.4M578.70,468.80v1.4M578.70,372.40v-1.4M600.30,468.80v1.4M600.30,372.40v-1.4M621.90,468.80v1.4M621.90,372.40v-1.4M492.30,468.80h-1.4M621.90,468.80h1.4M492.30,456.75h-1.4M621.90,456.75h1.4M492.30,444.70h-1.4M621.90,444.70h1.4M492.30,432.65h-1.4M621.90,432.65h1.4M492.30,420.60h-1.4M621.90,420.60h1.4M492.30,408.55h-1.4M621.90,408.55h1.4M492.30,396.50h-1.4M621.90,396.50h1.4M492.30,384.45h-1.4M621.90,384.45h1.4M492.30,372.40h-1.4M621.90,372.40h1.4" stroke="#5a5a5a" stroke-width="0.8" fill="none"/>
<text x="489.70" y="374.60" font-size="6.2" fill="#333" stroke="#333" stroke-width="0.05" text-anchor="end" font-weight="normal" font-family='"Liberation Sans", sans-serif' >1.12</text>
<text x="489.70" y="398.70" font-size="6.2" fill="#333" stroke="#333" stroke-width="0.05" text-anchor="end" font-weight="normal" font-family='"Liberation Sans", sans-serif' >1.08</text>
<text x="489.70" y="422.80" font-size="6.2" fill="#333" stroke="#333" stroke-width="0.05" text-anchor="end" font-weight="normal" font-family='"Liberation Sans", sans-serif' >1.04</text>
<text x="489.70" y="446.90" font-size="6.2" fill="#333" stroke="#333" stroke-width="0.05" text-anchor="end" font-weight="normal" font-family='"Liberation Sans", sans-serif' >1</text>
<text x="489.70" y="471.00" font-size="6.2" fill="#333" stroke="#333" stroke-width="0.05" text-anchor="end" font-weight="normal" font-family='"Liberation Sans", sans-serif' >0.96</text>
<text x="557.10" y="486.70" font-size="7.0" fill="#1a1a1a" stroke="#1a1a1a" stroke-width="0.12" text-anchor="middle" font-weight="bold" font-family='"Liberation Sans", sans-serif' >Time (s)</text>
<text transform="translate(475.00,420.60) rotate(-90)" font-size="7.0" font-weight="bold" fill="#1a1a1a" stroke="#1a1a1a" stroke-width="0.12" text-anchor="middle" font-family='"Liberation Sans", sans-serif'>Response</text>
<rect x="631.70" y="372.20" width="30.50" height="88.40" fill="#fff" />
<path d="M631.70,372.20V460.60M662.20,372.20V460.60" stroke="#bdbdbd" stroke-width="1.5" fill="none"/>
<path d="M631.20,372.20H662.70M631.20,460.60H662.70" stroke="#6a6a6a" stroke-width="0.9" fill="none"/>
<line x1="633.00" y1="377.50" x2="640.90" y2="377.50" stroke="#4A3A6A" stroke-width="0.8"/>
<text x="641.70" y="380.10" font-size="7.0" fill="#1a1a1a" stroke="#1a1a1a" stroke-width="0.22" text-anchor="start" font-weight="normal" font-family='"Liberation Sans", sans-serif' >PID#1</text>
<line x1="633.00" y1="385.50" x2="640.90" y2="385.50" stroke="#6A7EEA" stroke-width="0.8"/>
<text x="641.70" y="388.10" font-size="7.0" fill="#1a1a1a" stroke="#1a1a1a" stroke-width="0.22" text-anchor="start" font-weight="normal" font-family='"Liberation Sans", sans-serif' >EC#1</text>
<line x1="633.00" y1="394.50" x2="640.90" y2="394.50" stroke="#58B0F0" stroke-width="0.8"/>
<text x="641.70" y="397.10" font-size="7.0" fill="#1a1a1a" stroke="#1a1a1a" stroke-width="0.22" text-anchor="start" font-weight="normal" font-family='"Liberation Sans", sans-serif' >EC#2</text>
<line x1="633.00" y1="403.50" x2="640.90" y2="403.50" stroke="#58E0C0" stroke-width="0.8"/>
<text x="641.70" y="406.10" font-size="7.0" fill="#1a1a1a" stroke="#1a1a1a" stroke-width="0.22" text-anchor="start" font-weight="normal" font-family='"Liberation Sans", sans-serif' >EC#3</text>
<line x1="633.00" y1="412.50" x2="640.90" y2="412.50" stroke="#88EE78" stroke-width="0.8"/>
<text x="641.70" y="415.10" font-size="7.0" fill="#1a1a1a" stroke="#1a1a1a" stroke-width="0.22" text-anchor="start" font-weight="normal" font-family='"Liberation Sans", sans-serif' >EC#4</text>
<line x1="633.00" y1="420.50" x2="640.90" y2="420.50" stroke="#D4F080" stroke-width="0.8"/>
<text x="641.70" y="423.10" font-size="7.0" fill="#1a1a1a" stroke="#1a1a1a" stroke-width="0.22" text-anchor="start" font-weight="normal" font-family='"Liberation Sans", sans-serif' >EC#5</text>
<line x1="633.00" y1="429.50" x2="640.90" y2="429.50" stroke="#F0C058" stroke-width="0.8"/>
<text x="641.70" y="432.10" font-size="7.0" fill="#1a1a1a" stroke="#1a1a1a" stroke-width="0.22" text-anchor="start" font-weight="normal" font-family='"Liberation Sans", sans-serif' >EC#6</text>
<line x1="633.00" y1="438.50" x2="640.90" y2="438.50" stroke="#E87C40" stroke-width="0.8"/>
<text x="641.70" y="441.10" font-size="7.0" fill="#1a1a1a" stroke="#1a1a1a" stroke-width="0.22" text-anchor="start" font-weight="normal" font-family='"Liberation Sans", sans-serif' >EC#7</text>
<line x1="633.00" y1="447.50" x2="640.90" y2="447.50" stroke="#D84A34" stroke-width="0.8"/>
<text x="641.70" y="450.10" font-size="7.0" fill="#1a1a1a" stroke="#1a1a1a" stroke-width="0.22" text-anchor="start" font-weight="normal" font-family='"Liberation Sans", sans-serif' >EC#8</text>
<line x1="633.00" y1="455.50" x2="640.90" y2="455.50" stroke="#992A2A" stroke-width="0.8"/>
<text x="641.70" y="458.10" font-size="7.0" fill="#1a1a1a" stroke="#1a1a1a" stroke-width="0.22" text-anchor="start" font-weight="normal" font-family='"Liberation Sans", sans-serif' >EC#9</text>
</g>
</svg>
</body></html>
